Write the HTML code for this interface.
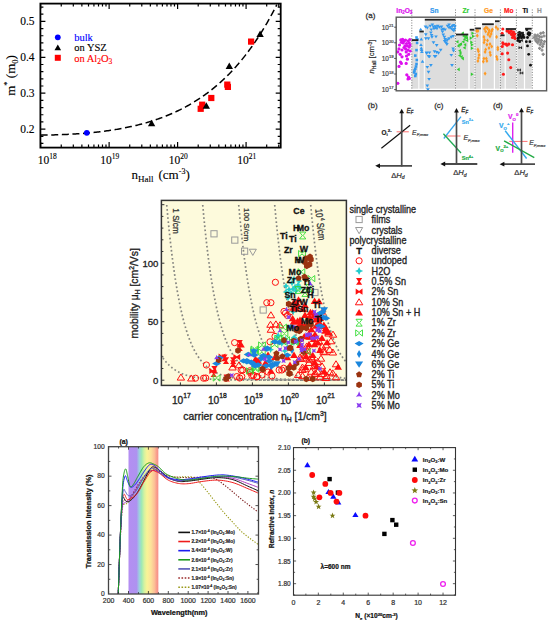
<!DOCTYPE html>
<html><head><meta charset="utf-8"><style>
html,body{margin:0;padding:0;background:#fff;overflow:hidden;}
svg{display:block;}
</style></head><body>
<svg width="550" height="623" viewBox="0 0 550 623">
<rect width="550" height="623" fill="#fff"/>
<path d="M40.4 143.46h3M280.7 143.46h-3M40.4 136.28h3M280.7 136.28h-3M40.4 129.1h5M280.7 129.1h-5M40.4 121.92h3M280.7 121.92h-3M40.4 114.74h3M280.7 114.74h-3M40.4 107.56h3M280.7 107.56h-3M40.4 100.38h3M280.7 100.38h-3M40.4 93.2h5M280.7 93.2h-5M40.4 86.02h3M280.7 86.02h-3M40.4 78.84h3M280.7 78.84h-3M40.4 71.66h3M280.7 71.66h-3M40.4 64.48h3M280.7 64.48h-3M40.4 57.3h5M280.7 57.3h-5M40.4 50.12h3M280.7 50.12h-3M40.4 42.94h3M280.7 42.94h-3M40.4 35.76h3M280.7 35.76h-3M40.4 28.58h3M280.7 28.58h-3M40.4 21.4h5M280.7 21.4h-5M40.4 14.22h3M280.7 14.22h-3M40.4 7.04h3M280.7 7.04h-3M40.64 147.6v-5.5M40.64 3.6v5.5M61.25 147.6v-3M61.25 3.6v3M73.31 147.6v-3M73.31 3.6v3M81.87 147.6v-3M81.87 3.6v3M88.51 147.6v-3M88.51 3.6v3M93.93 147.6v-3M93.93 3.6v3M98.51 147.6v-3M98.51 3.6v3M102.48 147.6v-3M102.48 3.6v3M105.99 147.6v-3M105.99 3.6v3M109.12 147.6v-5.5M109.12 3.6v5.5M129.73 147.6v-3M129.73 3.6v3M141.79 147.6v-3M141.79 3.6v3M150.35 147.6v-3M150.35 3.6v3M156.99 147.6v-3M156.99 3.6v3M162.41 147.6v-3M162.41 3.6v3M166.99 147.6v-3M166.99 3.6v3M170.96 147.6v-3M170.96 3.6v3M174.47 147.6v-3M174.47 3.6v3M177.6 147.6v-5.5M177.6 3.6v5.5M198.21 147.6v-3M198.21 3.6v3M210.27 147.6v-3M210.27 3.6v3M218.83 147.6v-3M218.83 3.6v3M225.47 147.6v-3M225.47 3.6v3M230.89 147.6v-3M230.89 3.6v3M235.47 147.6v-3M235.47 3.6v3M239.44 147.6v-3M239.44 3.6v3M242.95 147.6v-3M242.95 3.6v3M246.08 147.6v-5.5M246.08 3.6v5.5M266.69 147.6v-3M266.69 3.6v3M278.75 147.6v-3M278.75 3.6v3" stroke="#000" stroke-width="1.2" fill="none"/>
<rect x="40.4" y="3.6" width="240.3" height="144" fill="none" stroke="#000" stroke-width="1.8"/>
<text x="34.6" y="133.1" font-family='"Liberation Serif",serif' font-size="11.5" text-anchor="end" stroke="#000" stroke-width="0.12">0.2</text>
<text x="34.6" y="97.2" font-family='"Liberation Serif",serif' font-size="11.5" text-anchor="end" stroke="#000" stroke-width="0.12">0.3</text>
<text x="34.6" y="61.3" font-family='"Liberation Serif",serif' font-size="11.5" text-anchor="end" stroke="#000" stroke-width="0.12">0.4</text>
<text x="34.6" y="25.4" font-family='"Liberation Serif",serif' font-size="11.5" text-anchor="end" stroke="#000" stroke-width="0.12">0.5</text>
<text x="47.3" y="163.6" font-family='"Liberation Serif",serif' font-size="11.5" text-anchor="middle" stroke="#000" stroke-width="0.12">10<tspan font-size="7.5" dy="-4.6">18</tspan></text>
<text x="109.72" y="163.6" font-family='"Liberation Serif",serif' font-size="11.5" text-anchor="middle" stroke="#000" stroke-width="0.12">10<tspan font-size="7.5" dy="-4.6">19</tspan></text>
<text x="178.2" y="163.6" font-family='"Liberation Serif",serif' font-size="11.5" text-anchor="middle" stroke="#000" stroke-width="0.12">10<tspan font-size="7.5" dy="-4.6">20</tspan></text>
<text x="246.68" y="163.6" font-family='"Liberation Serif",serif' font-size="11.5" text-anchor="middle" stroke="#000" stroke-width="0.12">10<tspan font-size="7.5" dy="-4.6">21</tspan></text>
<text x="131.5" y="179" font-family='"Liberation Serif",serif' font-size="13" stroke="#000" stroke-width="0.12">n<tspan font-size="9" dy="2.5">Hall</tspan><tspan dy="-2.5" dx="5">(cm</tspan><tspan font-size="8" dy="-5">-3</tspan><tspan dy="5">)</tspan></text>
<text transform="translate(15,75.5) rotate(-90)" font-family='"Liberation Serif",serif' font-size="13" text-anchor="middle" stroke="#000" stroke-width="0.12">m<tspan font-size="8.5" dy="-5.5">*</tspan><tspan dy="5.5"> (m</tspan><tspan font-size="8.5" dy="3">0</tspan><tspan dy="-3">)</tspan></text>
<polyline points="40.64,135.13 41.85,135.11 43.05,135.1 44.26,135.08 45.46,135.07 46.67,135.05 47.87,135.03 49.08,135 50.28,134.98 51.49,134.95 52.69,134.92 53.9,134.89 55.1,134.85 56.31,134.82 57.51,134.78 58.72,134.74 59.92,134.7 61.13,134.65 62.33,134.61 63.54,134.56 64.74,134.51 65.95,134.45 67.16,134.39 68.36,134.34 69.57,134.27 70.77,134.21 71.98,134.14 73.18,134.07 74.39,134 75.59,133.93 76.8,133.85 78,133.77 79.21,133.68 80.41,133.6 81.62,133.51 82.82,133.42 84.03,133.32 85.23,133.22 86.44,133.12 87.64,133.01 88.85,132.91 90.06,132.79 91.26,132.68 92.47,132.56 93.67,132.44 94.88,132.31 96.08,132.18 97.29,132.05 98.49,131.91 99.7,131.77 100.9,131.63 102.11,131.48 103.31,131.33 104.52,131.17 105.72,131.01 106.93,130.85 108.13,130.68 109.34,130.51 110.54,130.33 111.75,130.15 112.95,129.96 114.16,129.77 115.37,129.58 116.57,129.38 117.78,129.17 118.98,128.96 120.19,128.75 121.39,128.53 122.6,128.3 123.8,128.07 125.01,127.84 126.21,127.6 127.42,127.35 128.62,127.1 129.83,126.84 131.03,126.58 132.24,126.31 133.44,126.04 134.65,125.75 135.85,125.47 137.06,125.17 138.27,124.88 139.47,124.57 140.68,124.26 141.88,123.94 143.09,123.61 144.29,123.28 145.5,122.94 146.7,122.6 147.91,122.24 149.11,121.88 150.32,121.52 151.52,121.14 152.73,120.76 153.93,120.37 155.14,119.97 156.34,119.56 157.55,119.15 158.75,118.72 159.96,118.29 161.16,117.85 162.37,117.41 163.58,116.95 164.78,116.48 165.99,116.01 167.19,115.52 168.4,115.03 169.6,114.53 170.81,114.01 172.01,113.49 173.22,112.96 174.42,112.42 175.63,111.87 176.83,111.3 178.04,110.73 179.24,110.14 180.45,109.55 181.65,108.94 182.86,108.32 184.06,107.7 185.27,107.05 186.48,106.4 187.68,105.74 188.89,105.06 190.09,104.37 191.3,103.67 192.5,102.95 193.71,102.23 194.91,101.48 196.12,100.73 197.32,99.96 198.53,99.18 199.73,98.38 200.94,97.57 202.14,96.75 203.35,95.91 204.55,95.05 205.76,94.18 206.96,93.3 208.17,92.4 209.37,91.48 210.58,90.55 211.79,89.6 212.99,88.63 214.2,87.65 215.4,86.64 216.61,85.63 217.81,84.59 219.02,83.53 220.22,82.46 221.43,81.37 222.63,80.26 223.84,79.13 225.04,77.98 226.25,76.81 227.45,75.62 228.66,74.41 229.86,73.17 231.07,71.92 232.27,70.65 233.48,69.35 234.68,68.03 235.89,66.69 237.1,65.32 238.3,63.93 239.51,62.52 240.71,61.09 241.92,59.63 243.12,58.14 244.33,56.63 245.53,55.09 246.74,53.53 247.94,51.94 249.15,50.32 250.35,48.68 251.56,47.01 252.76,45.31 253.97,43.58 255.17,41.82 256.38,40.03 257.58,38.22 258.79,36.37 260,34.49 261.2,32.58 262.41,30.63 263.61,28.66 264.82,26.65 266.02,24.6 267.23,22.53 268.43,20.42 269.64,18.27 270.84,16.09 272.05,13.87 273.25,11.61 274.46,9.31 275.66,6.98 276.87,4.61" fill="none" stroke="#000" stroke-width="1.5" stroke-dasharray="7,3.6"/>
<rect x="199.1" y="101.6" width="6.2" height="6.2" fill="#f00"/>
<rect x="197.6" y="105.7" width="6.2" height="6.2" fill="#f00"/>
<rect x="208.2" y="94.9" width="6.2" height="6.2" fill="#f00"/>
<rect x="224.2" y="81.5" width="6.2" height="6.2" fill="#f00"/>
<rect x="224.8" y="83.8" width="6.2" height="6.2" fill="#f00"/>
<rect x="248" y="38.5" width="6.2" height="6.2" fill="#f00"/>
<path d="M151.6 119.7L155.3 126.18L147.9 126.18Z" fill="#000"/>
<path d="M206.3 102.3L210 108.78L202.6 108.78Z" fill="#000"/>
<path d="M229.3 62.6L233 69.08L225.6 69.08Z" fill="#000"/>
<path d="M260.1 30.6L263.8 37.07L256.4 37.07Z" fill="#000"/>
<circle cx="86.8" cy="132.8" r="2.9" fill="#00f"/>
<circle cx="57.8" cy="37.3" r="2.9" fill="#00f"/>
<path d="M57.8 44.4L61.1 50.18L54.5 50.18Z" fill="#000"/>
<rect x="54.8" y="54.8" width="6" height="6" fill="#f00"/>
<text x="74.2" y="41" font-family='"Liberation Serif",serif' font-size="10.5" fill="#00f" stroke="#00f" stroke-width="0.12">bulk</text>
<text x="74.2" y="51.3" font-family='"Liberation Serif",serif' font-size="10.5" fill="#000" stroke="#000" stroke-width="0.12">on YSZ</text>
<text x="74.2" y="61.5" font-family='"Liberation Serif",serif' font-size="10.5" fill="#f00" stroke="#f00" stroke-width="0.12">on Al<tspan font-size="7.5" dy="2.2">2</tspan><tspan dy="-2.2">O</tspan><tspan font-size="7.5" dy="2.2">3</tspan></text>
<rect x="411.7" y="40.1" width="6.6" height="48.6" fill="#dddddd"/>
<rect x="419.4" y="31.5" width="4.4" height="57.2" fill="#dddddd"/>
<rect x="424.8" y="19.7" width="30.6" height="69" fill="#dddddd"/>
<rect x="456" y="34.5" width="12.3" height="54.2" fill="#dddddd"/>
<rect x="469.7" y="29.7" width="4.6" height="59" fill="#dddddd"/>
<rect x="475.2" y="28.4" width="5.7" height="60.3" fill="#dddddd"/>
<rect x="482.1" y="24.2" width="11.7" height="64.5" fill="#dddddd"/>
<rect x="495" y="21.2" width="4.6" height="67.5" fill="#dddddd"/>
<rect x="500.4" y="35.3" width="4.2" height="53.4" fill="#dddddd"/>
<rect x="505.8" y="29" width="10.2" height="59.7" fill="#dddddd"/>
<rect x="517.3" y="32.7" width="6.6" height="56" fill="#dddddd"/>
<rect x="525.1" y="28.7" width="6.6" height="60" fill="#dddddd"/>
<line x1="411.8" y1="9.5" x2="411.8" y2="90" stroke="#555" stroke-width="0.8" stroke-dasharray="1,1.6"/>
<line x1="455.5" y1="9.5" x2="455.5" y2="90" stroke="#555" stroke-width="0.8" stroke-dasharray="1,1.6"/>
<line x1="475" y1="9.5" x2="475" y2="90" stroke="#555" stroke-width="0.8" stroke-dasharray="1,1.6"/>
<line x1="500.4" y1="9.5" x2="500.4" y2="90" stroke="#555" stroke-width="0.8" stroke-dasharray="1,1.6"/>
<line x1="516.4" y1="9.5" x2="516.4" y2="90" stroke="#555" stroke-width="0.8" stroke-dasharray="1,1.6"/>
<line x1="532.3" y1="9.5" x2="532.3" y2="90" stroke="#555" stroke-width="0.8" stroke-dasharray="1,1.6"/>
<circle cx="400.8" cy="39.9" r="1.6" fill="#dd11ee"/>
<circle cx="402.6" cy="39.3" r="1.6" fill="#dd11ee"/>
<circle cx="404.4" cy="40.5" r="1.6" fill="#dd11ee"/>
<circle cx="401.4" cy="42.3" r="1.6" fill="#dd11ee"/>
<circle cx="403.2" cy="42.9" r="1.6" fill="#dd11ee"/>
<circle cx="408" cy="41.1" r="1.6" fill="#dd11ee"/>
<circle cx="409.3" cy="42.9" r="1.6" fill="#dd11ee"/>
<circle cx="405" cy="45.9" r="1.6" fill="#dd11ee"/>
<circle cx="407.4" cy="45.9" r="1.6" fill="#dd11ee"/>
<circle cx="409.3" cy="47.1" r="1.6" fill="#dd11ee"/>
<circle cx="399" cy="48.9" r="1.6" fill="#dd11ee"/>
<circle cx="405.6" cy="48.9" r="1.6" fill="#dd11ee"/>
<circle cx="408" cy="50.1" r="1.6" fill="#dd11ee"/>
<circle cx="397.8" cy="51.9" r="1.6" fill="#dd11ee"/>
<circle cx="400.2" cy="54.3" r="1.6" fill="#dd11ee"/>
<circle cx="406.2" cy="51.9" r="1.6" fill="#dd11ee"/>
<circle cx="408.7" cy="54.3" r="1.6" fill="#dd11ee"/>
<circle cx="402" cy="56.8" r="1.6" fill="#dd11ee"/>
<circle cx="407.4" cy="59.2" r="1.6" fill="#dd11ee"/>
<circle cx="401.4" cy="63.4" r="1.6" fill="#dd11ee"/>
<circle cx="399" cy="66.4" r="1.6" fill="#dd11ee"/>
<circle cx="406.2" cy="63.4" r="1.6" fill="#dd11ee"/>
<circle cx="406.8" cy="74.8" r="1.6" fill="#dd11ee"/>
<circle cx="408" cy="79" r="1.6" fill="#dd11ee"/>
<circle cx="397.8" cy="83.3" r="1.6" fill="#dd11ee"/>
<circle cx="409.3" cy="78.4" r="1.6" fill="#dd11ee"/>
<circle cx="403.5" cy="41.5" r="1.6" fill="#dd11ee"/>
<circle cx="406.5" cy="43.5" r="1.6" fill="#dd11ee"/>
<circle cx="410" cy="45" r="1.6" fill="#dd11ee"/>
<circle cx="404" cy="47.5" r="1.6" fill="#dd11ee"/>
<circle cx="402" cy="50" r="1.6" fill="#dd11ee"/>
<circle cx="410.2" cy="51" r="1.6" fill="#dd11ee"/>
<circle cx="406.5" cy="56" r="1.6" fill="#dd11ee"/>
<circle cx="400.5" cy="62" r="1.6" fill="#dd11ee"/>
<circle cx="408.5" cy="77" r="1.6" fill="#dd11ee"/>
<circle cx="405.5" cy="40" r="1.6" fill="#dd11ee"/>
<circle cx="399.5" cy="45" r="1.6" fill="#dd11ee"/>
<circle cx="409.8" cy="39.5" r="1.6" fill="#dd11ee"/>
<rect x="415.2" y="36.2" width="2.6" height="2.6" fill="#3399ee"/>
<rect x="415.8" y="41.6" width="2.6" height="2.6" fill="#3399ee"/>
<rect x="415.2" y="48.8" width="2.6" height="2.6" fill="#3399ee"/>
<rect x="414" y="54.3" width="2.6" height="2.6" fill="#3399ee"/>
<rect x="415.2" y="62.7" width="2.6" height="2.6" fill="#3399ee"/>
<rect x="414" y="67.5" width="2.6" height="2.6" fill="#3399ee"/>
<rect x="412.8" y="71.1" width="2.6" height="2.6" fill="#3399ee"/>
<rect x="414" y="74.7" width="2.6" height="2.6" fill="#3399ee"/>
<rect x="414.7" y="65.2" width="2.6" height="2.6" fill="#3399ee"/>
<rect x="413.2" y="69.2" width="2.6" height="2.6" fill="#3399ee"/>
<rect x="415.5" y="58.7" width="2.6" height="2.6" fill="#3399ee"/>
<rect x="416.1" y="38.2" width="2.6" height="2.6" fill="#3399ee"/>
<rect x="414.5" y="72.7" width="2.6" height="2.6" fill="#3399ee"/>
<path d="M418.9 30.58h3.6l-1.8 -2.88z" fill="#3399ee"/>
<path d="M419.5 40.38h3.6l-1.8 -2.88z" fill="#3399ee"/>
<path d="M419.5 49.38h3.6l-1.8 -2.88z" fill="#3399ee"/>
<path d="M420.1 53.08h3.6l-1.8 -2.88z" fill="#3399ee"/>
<path d="M420.7 62.68h3.6l-1.8 -2.88z" fill="#3399ee"/>
<path d="M419.2 46.08h3.6l-1.8 -2.88z" fill="#3399ee"/>
<path d="M419.8 51.08h3.6l-1.8 -2.88z" fill="#3399ee"/>
<path d="M423.65 25.49h3.7l-1.85 2.96z" fill="#3399ee"/>
<path d="M425.45 26.59h3.7l-1.85 2.96z" fill="#3399ee"/>
<path d="M428.35 24.79h3.7l-1.85 2.96z" fill="#3399ee"/>
<path d="M430.55 23.39h3.7l-1.85 2.96z" fill="#3399ee"/>
<path d="M431.65 25.49h3.7l-1.85 2.96z" fill="#3399ee"/>
<path d="M433.75 25.19h3.7l-1.85 2.96z" fill="#3399ee"/>
<path d="M435.95 24.79h3.7l-1.85 2.96z" fill="#3399ee"/>
<path d="M437.75 25.89h3.7l-1.85 2.96z" fill="#3399ee"/>
<path d="M439.65 25.49h3.7l-1.85 2.96z" fill="#3399ee"/>
<path d="M441.45 27.69h3.7l-1.85 2.96z" fill="#3399ee"/>
<path d="M443.25 28.39h3.7l-1.85 2.96z" fill="#3399ee"/>
<path d="M445.75 24.79h3.7l-1.85 2.96z" fill="#3399ee"/>
<path d="M447.25 23.39h3.7l-1.85 2.96z" fill="#3399ee"/>
<path d="M448.65 25.89h3.7l-1.85 2.96z" fill="#3399ee"/>
<path d="M450.55 24.79h3.7l-1.85 2.96z" fill="#3399ee"/>
<path d="M451.95 24.09h3.7l-1.85 2.96z" fill="#3399ee"/>
<path d="M453.05 25.49h3.7l-1.85 2.96z" fill="#3399ee"/>
<path d="M449.45 27.39h3.7l-1.85 2.96z" fill="#3399ee"/>
<path d="M447.25 26.59h3.7l-1.85 2.96z" fill="#3399ee"/>
<path d="M429.45 28.39h3.7l-1.85 2.96z" fill="#3399ee"/>
<path d="M429.05 31.39h3.7l-1.85 2.96z" fill="#3399ee"/>
<path d="M429.75 33.89h3.7l-1.85 2.96z" fill="#3399ee"/>
<path d="M430.15 35.69h3.7l-1.85 2.96z" fill="#3399ee"/>
<path d="M434.15 35.39h3.7l-1.85 2.96z" fill="#3399ee"/>
<path d="M433.75 26.59h3.7l-1.85 2.96z" fill="#3399ee"/>
<path d="M432.15 27.39h3.7l-1.85 2.96z" fill="#3399ee"/>
<path d="M435.15 27.19h3.7l-1.85 2.96z" fill="#3399ee"/>
<path d="M439.95 28.39h3.7l-1.85 2.96z" fill="#3399ee"/>
<path d="M440.65 30.59h3.7l-1.85 2.96z" fill="#3399ee"/>
<path d="M441.45 33.49h3.7l-1.85 2.96z" fill="#3399ee"/>
<path d="M442.55 35.69h3.7l-1.85 2.96z" fill="#3399ee"/>
<path d="M443.25 37.89h3.7l-1.85 2.96z" fill="#3399ee"/>
<path d="M443.95 39.39h3.7l-1.85 2.96z" fill="#3399ee"/>
<path d="M444.35 41.49h3.7l-1.85 2.96z" fill="#3399ee"/>
<path d="M445.05 42.99h3.7l-1.85 2.96z" fill="#3399ee"/>
<path d="M445.75 38.59h3.7l-1.85 2.96z" fill="#3399ee"/>
<path d="M447.25 37.19h3.7l-1.85 2.96z" fill="#3399ee"/>
<path d="M449.45 35.69h3.7l-1.85 2.96z" fill="#3399ee"/>
<path d="M451.25 34.99h3.7l-1.85 2.96z" fill="#3399ee"/>
<path d="M442.85 40.09h3.7l-1.85 2.96z" fill="#3399ee"/>
<path d="M450.65 28.39h3.7l-1.85 2.96z" fill="#3399ee"/>
<path d="M452.65 27.89h3.7l-1.85 2.96z" fill="#3399ee"/>
<path d="M423.95 33.19h3.7l-1.85 2.96z" fill="#3399ee"/>
<path d="M423.95 37.19h3.7l-1.85 2.96z" fill="#3399ee"/>
<path d="M426.55 37.19h3.7l-1.85 2.96z" fill="#3399ee"/>
<path d="M431.65 41.19h3.7l-1.85 2.96z" fill="#3399ee"/>
<path d="M434.85 44.09h3.7l-1.85 2.96z" fill="#3399ee"/>
<path d="M451.95 29.49h3.7l-1.85 2.96z" fill="#3399ee"/>
<path d="M451.25 47.39h3.7l-1.85 2.96z" fill="#3399ee"/>
<path d="M451.65 49.49h3.7l-1.85 2.96z" fill="#3399ee"/>
<path d="M438.85 48.79h3.7l-1.85 2.96z" fill="#3399ee"/>
<path d="M432.65 50.29h3.7l-1.85 2.96z" fill="#3399ee"/>
<path d="M434.85 50.99h3.7l-1.85 2.96z" fill="#3399ee"/>
<path d="M436.65 51.69h3.7l-1.85 2.96z" fill="#3399ee"/>
<path d="M424.65 51.39h3.7l-1.85 2.96z" fill="#3399ee"/>
<path d="M427.65 51.39h3.7l-1.85 2.96z" fill="#3399ee"/>
<path d="M427.65 55.39h3.7l-1.85 2.96z" fill="#3399ee"/>
<path d="M433.75 54.99h3.7l-1.85 2.96z" fill="#3399ee"/>
<path d="M449.45 53.89h3.7l-1.85 2.96z" fill="#3399ee"/>
<path d="M425.45 65.89h3.7l-1.85 2.96z" fill="#3399ee"/>
<path d="M426.65 70.69h3.7l-1.85 2.96z" fill="#3399ee"/>
<path d="M427.25 77.89h3.7l-1.85 2.96z" fill="#3399ee"/>
<path d="M425.45 84.59h3.7l-1.85 2.96z" fill="#3399ee"/>
<path d="M426.05 88.19h3.7l-1.85 2.96z" fill="#3399ee"/>
<path d="M429.05 64.09h3.7l-1.85 2.96z" fill="#3399ee"/>
<path d="M450.15 64.09h3.7l-1.85 2.96z" fill="#3399ee"/>
<path d="M424.85 51.99h3.7l-1.85 2.96z" fill="#3399ee"/>
<path d="M426.65 55.09h3.7l-1.85 2.96z" fill="#3399ee"/>
<path d="M432.75 55.09h3.7l-1.85 2.96z" fill="#3399ee"/>
<path d="M463.88 31.5v3.6l-2.88 -1.8z" fill="#33cc33"/>
<path d="M467.48 33.9v3.6l-2.88 -1.8z" fill="#33cc33"/>
<path d="M468.08 36.3v3.6l-2.88 -1.8z" fill="#33cc33"/>
<path d="M465.68 37.5v3.6l-2.88 -1.8z" fill="#33cc33"/>
<path d="M458.48 39.9v3.6l-2.88 -1.8z" fill="#33cc33"/>
<path d="M464.48 39.9v3.6l-2.88 -1.8z" fill="#33cc33"/>
<path d="M460.88 42.9v3.6l-2.88 -1.8z" fill="#33cc33"/>
<path d="M466.28 42.9v3.6l-2.88 -1.8z" fill="#33cc33"/>
<path d="M459.68 44.1v3.6l-2.88 -1.8z" fill="#33cc33"/>
<path d="M465.68 45.9v3.6l-2.88 -1.8z" fill="#33cc33"/>
<path d="M460.88 48.9v3.6l-2.88 -1.8z" fill="#33cc33"/>
<path d="M460.88 53.8v3.6l-2.88 -1.8z" fill="#33cc33"/>
<path d="M462.68 55v3.6l-2.88 -1.8z" fill="#33cc33"/>
<path d="M463.88 56.8v3.6l-2.88 -1.8z" fill="#33cc33"/>
<path d="M459.68 67.6v3.6l-2.88 -1.8z" fill="#33cc33"/>
<path d="M466.58 35.2v3.6l-2.88 -1.8z" fill="#33cc33"/>
<path d="M464.88 34.2v3.6l-2.88 -1.8z" fill="#33cc33"/>
<path d="M462.08 42.2v3.6l-2.88 -1.8z" fill="#33cc33"/>
<path d="M468.28 38.7v3.6l-2.88 -1.8z" fill="#33cc33"/>
<path d="M461.58 51.2v3.6l-2.88 -1.8z" fill="#33cc33"/>
<path d="M471.42 31.5v3.6l2.88 -1.8z" fill="#33cc33"/>
<path d="M472.02 34.5v3.6l2.88 -1.8z" fill="#33cc33"/>
<path d="M469.62 36.3v3.6l2.88 -1.8z" fill="#33cc33"/>
<path d="M470.22 40.5v3.6l2.88 -1.8z" fill="#33cc33"/>
<path d="M470.82 42.9v3.6l2.88 -1.8z" fill="#33cc33"/>
<path d="M470.82 46.5v3.6l2.88 -1.8z" fill="#33cc33"/>
<path d="M470.82 72.4v3.6l2.88 -1.8z" fill="#33cc33"/>
<path d="M476.7 28.8l1.45 2.1l-1.45 2.1l-1.45 -2.1z" fill="#ff9922"/>
<path d="M477.9 28.8l1.45 2.1l-1.45 2.1l-1.45 -2.1z" fill="#ff9922"/>
<path d="M477.3 33.6l1.45 2.1l-1.45 2.1l-1.45 -2.1z" fill="#ff9922"/>
<path d="M477.9 47.4l1.45 2.1l-1.45 2.1l-1.45 -2.1z" fill="#ff9922"/>
<path d="M478.5 49.2l1.45 2.1l-1.45 2.1l-1.45 -2.1z" fill="#ff9922"/>
<path d="M479.1 52.9l1.45 2.1l-1.45 2.1l-1.45 -2.1z" fill="#ff9922"/>
<path d="M478.5 55.9l1.45 2.1l-1.45 2.1l-1.45 -2.1z" fill="#ff9922"/>
<path d="M477.9 58.9l1.45 2.1l-1.45 2.1l-1.45 -2.1z" fill="#ff9922"/>
<path d="M484.5 26.9l1.45 2.1l-1.45 2.1l-1.45 -2.1z" fill="#ff9922"/>
<path d="M485.7 29.4l1.45 2.1l-1.45 2.1l-1.45 -2.1z" fill="#ff9922"/>
<path d="M487.5 26.3l1.45 2.1l-1.45 2.1l-1.45 -2.1z" fill="#ff9922"/>
<path d="M489.3 28.2l1.45 2.1l-1.45 2.1l-1.45 -2.1z" fill="#ff9922"/>
<path d="M488.7 30.6l1.45 2.1l-1.45 2.1l-1.45 -2.1z" fill="#ff9922"/>
<path d="M491.1 31.8l1.45 2.1l-1.45 2.1l-1.45 -2.1z" fill="#ff9922"/>
<path d="M490 34.2l1.45 2.1l-1.45 2.1l-1.45 -2.1z" fill="#ff9922"/>
<path d="M483.9 34.8l1.45 2.1l-1.45 2.1l-1.45 -2.1z" fill="#ff9922"/>
<path d="M484.5 37.8l1.45 2.1l-1.45 2.1l-1.45 -2.1z" fill="#ff9922"/>
<path d="M487.5 38.4l1.45 2.1l-1.45 2.1l-1.45 -2.1z" fill="#ff9922"/>
<path d="M486.9 42.6l1.45 2.1l-1.45 2.1l-1.45 -2.1z" fill="#ff9922"/>
<path d="M490 42l1.45 2.1l-1.45 2.1l-1.45 -2.1z" fill="#ff9922"/>
<path d="M491.7 44.4l1.45 2.1l-1.45 2.1l-1.45 -2.1z" fill="#ff9922"/>
<path d="M485.7 47.4l1.45 2.1l-1.45 2.1l-1.45 -2.1z" fill="#ff9922"/>
<path d="M485.1 49.8l1.45 2.1l-1.45 2.1l-1.45 -2.1z" fill="#ff9922"/>
<path d="M490 50.4l1.45 2.1l-1.45 2.1l-1.45 -2.1z" fill="#ff9922"/>
<path d="M490.5 52.9l1.45 2.1l-1.45 2.1l-1.45 -2.1z" fill="#ff9922"/>
<path d="M483.9 56.5l1.45 2.1l-1.45 2.1l-1.45 -2.1z" fill="#ff9922"/>
<path d="M486.3 56.5l1.45 2.1l-1.45 2.1l-1.45 -2.1z" fill="#ff9922"/>
<path d="M483.3 59.5l1.45 2.1l-1.45 2.1l-1.45 -2.1z" fill="#ff9922"/>
<path d="M486.9 58.9l1.45 2.1l-1.45 2.1l-1.45 -2.1z" fill="#ff9922"/>
<path d="M485.1 71.5l1.45 2.1l-1.45 2.1l-1.45 -2.1z" fill="#ff9922"/>
<path d="M492.3 27.5l1.45 2.1l-1.45 2.1l-1.45 -2.1z" fill="#ff9922"/>
<path d="M496 25.1l1.45 2.1l-1.45 2.1l-1.45 -2.1z" fill="#ff9922"/>
<path d="M497.8 26.9l1.45 2.1l-1.45 2.1l-1.45 -2.1z" fill="#ff9922"/>
<path d="M496.6 34.8l1.45 2.1l-1.45 2.1l-1.45 -2.1z" fill="#ff9922"/>
<path d="M497.8 45.6l1.45 2.1l-1.45 2.1l-1.45 -2.1z" fill="#ff9922"/>
<path d="M497.8 47.4l1.45 2.1l-1.45 2.1l-1.45 -2.1z" fill="#ff9922"/>
<path d="M496.6 54.7l1.45 2.1l-1.45 2.1l-1.45 -2.1z" fill="#ff9922"/>
<path d="M497.2 57.1l1.45 2.1l-1.45 2.1l-1.45 -2.1z" fill="#ff9922"/>
<path d="M488 32.4l1.45 2.1l-1.45 2.1l-1.45 -2.1z" fill="#ff9922"/>
<path d="M486 25.4l1.45 2.1l-1.45 2.1l-1.45 -2.1z" fill="#ff9922"/>
<path d="M491.5 29.4l1.45 2.1l-1.45 2.1l-1.45 -2.1z" fill="#ff9922"/>
<path d="M484 40.4l1.45 2.1l-1.45 2.1l-1.45 -2.1z" fill="#ff9922"/>
<path d="M489 45.9l1.45 2.1l-1.45 2.1l-1.45 -2.1z" fill="#ff9922"/>
<circle cx="502.8" cy="29" r="1.55" fill="#ff1a1a"/>
<circle cx="502.2" cy="33.3" r="1.55" fill="#ff1a1a"/>
<circle cx="502.8" cy="42.9" r="1.55" fill="#ff1a1a"/>
<circle cx="502.2" cy="46.5" r="1.55" fill="#ff1a1a"/>
<circle cx="502.2" cy="53.7" r="1.55" fill="#ff1a1a"/>
<circle cx="503.4" cy="74.2" r="1.55" fill="#ff1a1a"/>
<circle cx="508.2" cy="30.9" r="1.55" fill="#ff1a1a"/>
<circle cx="510" cy="32" r="1.55" fill="#ff1a1a"/>
<circle cx="512.5" cy="33.3" r="1.55" fill="#ff1a1a"/>
<circle cx="513.7" cy="35.1" r="1.55" fill="#ff1a1a"/>
<circle cx="514.3" cy="36.9" r="1.55" fill="#ff1a1a"/>
<circle cx="512.5" cy="37.5" r="1.55" fill="#ff1a1a"/>
<circle cx="509.4" cy="32.7" r="1.55" fill="#ff1a1a"/>
<circle cx="507" cy="45.3" r="1.55" fill="#ff1a1a"/>
<circle cx="508.8" cy="44.1" r="1.55" fill="#ff1a1a"/>
<circle cx="512.5" cy="44.7" r="1.55" fill="#ff1a1a"/>
<circle cx="507.6" cy="53.1" r="1.55" fill="#ff1a1a"/>
<circle cx="508.8" cy="59.8" r="1.55" fill="#ff1a1a"/>
<circle cx="510.7" cy="67.6" r="1.55" fill="#ff1a1a"/>
<circle cx="507" cy="31" r="1.55" fill="#ff1a1a"/>
<circle cx="511.2" cy="30.8" r="1.55" fill="#ff1a1a"/>
<circle cx="513.5" cy="32" r="1.55" fill="#ff1a1a"/>
<circle cx="514.8" cy="34" r="1.55" fill="#ff1a1a"/>
<circle cx="513" cy="35.5" r="1.55" fill="#ff1a1a"/>
<circle cx="515" cy="38.5" r="1.55" fill="#ff1a1a"/>
<circle cx="511.5" cy="34.5" r="1.55" fill="#ff1a1a"/>
<circle cx="503.5" cy="44" r="1.55" fill="#ff1a1a"/>
<circle cx="506" cy="44" r="1.55" fill="#ff1a1a"/>
<circle cx="518.5" cy="35.1" r="1.4" fill="#111"/>
<circle cx="520.3" cy="33.9" r="1.4" fill="#111"/>
<circle cx="522.1" cy="33.3" r="1.4" fill="#111"/>
<circle cx="523.3" cy="35.1" r="1.4" fill="#111"/>
<circle cx="519.1" cy="37.5" r="1.4" fill="#111"/>
<circle cx="521.5" cy="38.1" r="1.4" fill="#111"/>
<circle cx="517.9" cy="40.5" r="1.4" fill="#111"/>
<circle cx="519.7" cy="41.7" r="1.4" fill="#111"/>
<circle cx="526.9" cy="29.7" r="1.4" fill="#111"/>
<circle cx="528.7" cy="32.7" r="1.4" fill="#111"/>
<circle cx="529.3" cy="35.1" r="1.4" fill="#111"/>
<circle cx="527.5" cy="37.5" r="1.4" fill="#111"/>
<circle cx="526.3" cy="41.7" r="1.4" fill="#111"/>
<circle cx="529.9" cy="41.7" r="1.4" fill="#111"/>
<circle cx="527.5" cy="45.9" r="1.4" fill="#111"/>
<circle cx="528.7" cy="54.3" r="1.4" fill="#111"/>
<circle cx="530.5" cy="65.2" r="1.4" fill="#111"/>
<circle cx="520.5" cy="36" r="1.4" fill="#111"/>
<circle cx="522.5" cy="36.5" r="1.4" fill="#111"/>
<circle cx="518" cy="38" r="1.4" fill="#111"/>
<circle cx="524" cy="37.5" r="1.4" fill="#111"/>
<circle cx="530" cy="33.5" r="1.4" fill="#111"/>
<circle cx="528" cy="34" r="1.4" fill="#111"/>
<circle cx="519.5" cy="32.5" r="1.4" fill="#111"/>
<path d="M519 46.4v2.6M521.6 46.4v2.6M519 47.7h2.6" stroke="#111" stroke-width="0.9" fill="none"/>
<path d="M517.8 68.7v2.6M520.4 68.7v2.6M517.8 70h2.6" stroke="#111" stroke-width="0.9" fill="none"/>
<path d="M520.2 71.7v2.6M522.8 71.7v2.6M520.2 73h2.6" stroke="#111" stroke-width="0.9" fill="none"/>
<path d="M519.7 39.2v2.6M522.3 39.2v2.6M519.7 40.5h2.6" stroke="#111" stroke-width="0.9" fill="none"/>
<path d="M532.5 37.5h3.2M534.1 35.9v3.2" stroke="#8c8c8c" stroke-width="1.4" fill="none"/>
<path d="M534.4 36.3h3.2M536 34.7v3.2" stroke="#8c8c8c" stroke-width="1.4" fill="none"/>
<path d="M536.2 35.1h3.2M537.8 33.5v3.2" stroke="#8c8c8c" stroke-width="1.4" fill="none"/>
<path d="M539.2 33.3h3.2M540.8 31.7v3.2" stroke="#8c8c8c" stroke-width="1.4" fill="none"/>
<path d="M541.6 32.7h3.2M543.2 31.1v3.2" stroke="#8c8c8c" stroke-width="1.4" fill="none"/>
<path d="M533.7 39.9h3.2M535.3 38.3v3.2" stroke="#8c8c8c" stroke-width="1.4" fill="none"/>
<path d="M537.4 39.3h3.2M539 37.7v3.2" stroke="#8c8c8c" stroke-width="1.4" fill="none"/>
<path d="M539.8 40.5h3.2M541.4 38.9v3.2" stroke="#8c8c8c" stroke-width="1.4" fill="none"/>
<path d="M536.2 42.9h3.2M537.8 41.3v3.2" stroke="#8c8c8c" stroke-width="1.4" fill="none"/>
<path d="M538.6 44.7h3.2M540.2 43.1v3.2" stroke="#8c8c8c" stroke-width="1.4" fill="none"/>
<path d="M541 46.5h3.2M542.6 44.9v3.2" stroke="#8c8c8c" stroke-width="1.4" fill="none"/>
<path d="M540.4 50.1h3.2M542 48.5v3.2" stroke="#8c8c8c" stroke-width="1.4" fill="none"/>
<path d="M541.6 54.3h3.2M543.2 52.7v3.2" stroke="#8c8c8c" stroke-width="1.4" fill="none"/>
<path d="M538 48.3h3.2M539.6 46.7v3.2" stroke="#8c8c8c" stroke-width="1.4" fill="none"/>
<path d="M533.4 35h3.2M535 33.4v3.2" stroke="#8c8c8c" stroke-width="1.4" fill="none"/>
<path d="M535.4 38.5h3.2M537 36.9v3.2" stroke="#8c8c8c" stroke-width="1.4" fill="none"/>
<path d="M537.9 36.5h3.2M539.5 34.9v3.2" stroke="#8c8c8c" stroke-width="1.4" fill="none"/>
<path d="M539.9 37h3.2M541.5 35.4v3.2" stroke="#8c8c8c" stroke-width="1.4" fill="none"/>
<path d="M536.9 41h3.2M538.5 39.4v3.2" stroke="#8c8c8c" stroke-width="1.4" fill="none"/>
<path d="M534.9 41.5h3.2M536.5 39.9v3.2" stroke="#8c8c8c" stroke-width="1.4" fill="none"/>
<path d="M542.4 36h3.2M544 34.4v3.2" stroke="#8c8c8c" stroke-width="1.4" fill="none"/>
<path d="M542.9 41.5h3.2M544.5 39.9v3.2" stroke="#8c8c8c" stroke-width="1.4" fill="none"/>
<path d="M539.4 42.5h3.2M541 40.9v3.2" stroke="#8c8c8c" stroke-width="1.4" fill="none"/>
<path d="M541.9 44h3.2M543.5 42.4v3.2" stroke="#8c8c8c" stroke-width="1.4" fill="none"/>
<line x1="411.7" y1="40.1" x2="418.3" y2="40.1" stroke="#222" stroke-width="1.8"/>
<line x1="419.4" y1="31.5" x2="423.8" y2="31.5" stroke="#222" stroke-width="1.8"/>
<line x1="424.8" y1="19.7" x2="455.4" y2="19.7" stroke="#222" stroke-width="1.8"/>
<line x1="456" y1="34.5" x2="468.3" y2="34.5" stroke="#222" stroke-width="1.8"/>
<line x1="469.7" y1="29.7" x2="474.3" y2="29.7" stroke="#222" stroke-width="1.8"/>
<line x1="475.2" y1="28.4" x2="480.9" y2="28.4" stroke="#222" stroke-width="1.8"/>
<line x1="482.1" y1="24.2" x2="493.8" y2="24.2" stroke="#222" stroke-width="1.8"/>
<line x1="495" y1="21.2" x2="499.6" y2="21.2" stroke="#222" stroke-width="1.8"/>
<line x1="500.4" y1="35.3" x2="504.6" y2="35.3" stroke="#222" stroke-width="1.8"/>
<line x1="505.8" y1="29" x2="516" y2="29" stroke="#222" stroke-width="1.8"/>
<line x1="517.3" y1="32.7" x2="523.9" y2="32.7" stroke="#222" stroke-width="1.8"/>
<line x1="525.1" y1="28.7" x2="531.7" y2="28.7" stroke="#222" stroke-width="1.8"/>
<rect x="396.2" y="17.2" width="150.4" height="73.6" fill="none" stroke="#5a5a5a" stroke-width="1.4"/>
<text x="393.6" y="91.9" font-family='"Liberation Sans",sans-serif' font-size="6.4" text-anchor="end" fill="#444" stroke="#444" stroke-width="0.20">10<tspan font-size="4.2" dy="-2.5">17</tspan></text>
<text x="393.6" y="76.3" font-family='"Liberation Sans",sans-serif' font-size="6.4" text-anchor="end" fill="#444" stroke="#444" stroke-width="0.20">10<tspan font-size="4.2" dy="-2.5">18</tspan></text>
<text x="393.6" y="60.7" font-family='"Liberation Sans",sans-serif' font-size="6.4" text-anchor="end" fill="#444" stroke="#444" stroke-width="0.20">10<tspan font-size="4.2" dy="-2.5">19</tspan></text>
<text x="393.6" y="45.1" font-family='"Liberation Sans",sans-serif' font-size="6.4" text-anchor="end" fill="#444" stroke="#444" stroke-width="0.20">10<tspan font-size="4.2" dy="-2.5">20</tspan></text>
<text x="393.6" y="29.5" font-family='"Liberation Sans",sans-serif' font-size="6.4" text-anchor="end" fill="#444" stroke="#444" stroke-width="0.20">10<tspan font-size="4.2" dy="-2.5">21</tspan></text>
<path d="M396.2 89.6h-2M396.2 74h-2M396.2 58.4h-2M396.2 42.8h-2M396.2 27.2h-2" stroke="#4a4a4a" stroke-width="1"/>
<text transform="translate(374,56.5) rotate(-90)" font-family='"Liberation Sans",sans-serif' font-size="7.6" text-anchor="middle" fill="#333" stroke="#333" stroke-width="0.24"><tspan font-style="italic">n</tspan><tspan font-size="5" dy="1.5">Hall</tspan><tspan dy="-1.5"> [cm</tspan><tspan font-size="5" dy="-2.5">-3</tspan><tspan dy="2.5">]</tspan></text>
<text x="365.6" y="17.6" font-family='"Liberation Sans",sans-serif' font-size="8" fill="#333" stroke="#333" stroke-width="0.26">(a)</text>
<text x="396.3" y="13.2" font-family='"Liberation Sans",sans-serif' font-size="6.6" font-weight="bold" fill="#dd11ee" stroke="#dd11ee" stroke-width="0.21">In<tspan font-size="4.5" dy="1.2">2</tspan><tspan dy="-1.2">O</tspan><tspan font-size="4.5" dy="1.2">3</tspan></text>
<text x="430" y="13.2" font-family='"Liberation Sans",sans-serif' font-size="6.6" font-weight="bold" fill="#3399ee" stroke="#3399ee" stroke-width="0.21">Sn</text>
<text x="462.4" y="13.2" font-family='"Liberation Sans",sans-serif' font-size="6.6" font-weight="bold" fill="#33cc33" stroke="#33cc33" stroke-width="0.21">Zr</text>
<text x="484" y="13.2" font-family='"Liberation Sans",sans-serif' font-size="6.6" font-weight="bold" fill="#ff9922" stroke="#ff9922" stroke-width="0.21">Ge</text>
<text x="504" y="13.2" font-family='"Liberation Sans",sans-serif' font-size="6.6" font-weight="bold" fill="#ff1a1a" stroke="#ff1a1a" stroke-width="0.21">Mo</text>
<text x="522.4" y="13.2" font-family='"Liberation Sans",sans-serif' font-size="6.6" font-weight="bold" fill="#111" stroke="#111" stroke-width="0.21">Ti</text>
<text x="537" y="13.2" font-family='"Liberation Sans",sans-serif' font-size="6.6" font-weight="bold" fill="#999" stroke="#999" stroke-width="0.21">H</text>
<text x="367.8" y="108.4" font-family='"Liberation Sans",sans-serif' font-size="8" fill="#333" stroke="#333" stroke-width="0.26">(b)</text>
<line x1="396.6" y1="131.8" x2="408.8" y2="131.8" stroke="#ff6f6f" stroke-width="1"/>
<line x1="381.4" y1="148.3" x2="410.1" y2="125.3" stroke="#111" stroke-width="1.2"/>
<line x1="401.7" y1="111.7" x2="401.7" y2="166.6" stroke="#4a4a4a" stroke-width="1.7"/>
<path d="M401.7 108.7l2.4 4.6h-4.8z" fill="#111"/>
<line x1="378.2" y1="165.8" x2="412" y2="165.8" stroke="#4a4a4a" stroke-width="1.8"/>
<path d="M375.2 165.8l4.8 -2.4v4.8z" fill="#111"/>
<text transform="translate(406.4,112.6) scale(0.82,1)" font-family='"Liberation Sans",sans-serif' font-size="7.8" font-style="italic" fill="#222" stroke="#222" stroke-width="0.25">E<tspan font-size="5.2" dy="1.5">F</tspan></text>
<text x="412.1" y="134.6" font-family='"Liberation Sans",sans-serif' font-size="6.8" font-style="italic" fill="#444" stroke="#444" stroke-width="0.22">E<tspan font-size="4.4" dy="1.3">F,max</tspan></text>
<text x="381.6" y="134.9" font-family='"Liberation Sans",sans-serif' font-size="6.4" font-weight="bold" fill="#222" stroke="#222" stroke-width="0.20">O<tspan font-size="4.4" dy="1.4">i</tspan><tspan font-size="4.4" dy="-4.2">2-</tspan></text>
<text x="391.2" y="177.6" font-family='"Liberation Sans",sans-serif' font-size="7.6" fill="#333" stroke="#333" stroke-width="0.24">&#916;<tspan font-style="italic">H</tspan><tspan font-size="5" dy="1.5" font-style="italic">d</tspan></text>
<text x="434.2" y="108.4" font-family='"Liberation Sans",sans-serif' font-size="8" fill="#333" stroke="#333" stroke-width="0.26">(c)</text>
<line x1="444.5" y1="136" x2="460.5" y2="136" stroke="#ff6f6f" stroke-width="1"/>
<line x1="443.8" y1="138.5" x2="461" y2="116.7" stroke="#3aa8ee" stroke-width="1.3"/>
<line x1="443.4" y1="133.7" x2="461" y2="153" stroke="#22aa55" stroke-width="1.3"/>
<line x1="456.5" y1="111" x2="456.5" y2="164.8" stroke="#4a4a4a" stroke-width="1.7"/>
<path d="M456.5 108l2.4 4.6h-4.8z" fill="#111"/>
<line x1="443.4" y1="164" x2="477.3" y2="164" stroke="#4a4a4a" stroke-width="1.8"/>
<path d="M440.4 164l4.8 -2.4v4.8z" fill="#111"/>
<text transform="translate(461.2,112.3) scale(0.82,1)" font-family='"Liberation Sans",sans-serif' font-size="7.8" font-style="italic" fill="#222" stroke="#222" stroke-width="0.25">E<tspan font-size="5.2" dy="1.5">F</tspan></text>
<text x="463.5" y="140.2" font-family='"Liberation Sans",sans-serif' font-size="6.8" font-style="italic" fill="#444" stroke="#444" stroke-width="0.22">E<tspan font-size="4.4" dy="1.3">F,max</tspan></text>
<text x="461.7" y="123.5" font-family='"Liberation Sans",sans-serif' font-size="5.6" font-weight="bold" fill="#33aaee" stroke="#33aaee" stroke-width="0.18">Sn<tspan font-size="3.8" dy="-2.4">2+</tspan></text>
<text x="461.7" y="160.3" font-family='"Liberation Sans",sans-serif' font-size="5.6" font-weight="bold" fill="#22aa44" stroke="#22aa44" stroke-width="0.18">Sn<tspan font-size="3.8" dy="-2.4">4+</tspan></text>
<text x="453.2" y="175.3" font-family='"Liberation Sans",sans-serif' font-size="7.6" fill="#333" stroke="#333" stroke-width="0.24">&#916;<tspan font-style="italic">H</tspan><tspan font-size="5" dy="1.5" font-style="italic">d</tspan></text>
<text x="493" y="108.2" font-family='"Liberation Sans",sans-serif' font-size="8" fill="#333" stroke="#333" stroke-width="0.26">(d)</text>
<line x1="509.3" y1="141.4" x2="527.5" y2="141.4" stroke="#ff6f6f" stroke-width="1"/>
<line x1="512.7" y1="122.5" x2="512.7" y2="152.7" stroke="#dd22ee" stroke-width="1.4"/>
<line x1="505.2" y1="130.8" x2="526.6" y2="158.5" stroke="#33aaee" stroke-width="1.4"/>
<line x1="504.1" y1="140.9" x2="534.3" y2="157.6" stroke="#22aa44" stroke-width="1.4"/>
<line x1="521.5" y1="110.7" x2="521.5" y2="165" stroke="#4a4a4a" stroke-width="1.7"/>
<path d="M521.5 107.7l2.4 4.6h-4.8z" fill="#111"/>
<line x1="502.6" y1="164.2" x2="535" y2="164.2" stroke="#4a4a4a" stroke-width="1.8"/>
<path d="M499.6 164.2l4.8 -2.4v4.8z" fill="#111"/>
<text transform="translate(526.2,112.3) scale(0.82,1)" font-family='"Liberation Sans",sans-serif' font-size="7.8" font-style="italic" fill="#222" stroke="#222" stroke-width="0.25">E<tspan font-size="5.2" dy="1.5">F</tspan></text>
<text x="529.2" y="145.4" font-family='"Liberation Sans",sans-serif' font-size="6.8" font-style="italic" fill="#444" stroke="#444" stroke-width="0.22">E<tspan font-size="4.4" dy="1.3">F,max</tspan></text>
<text x="508.0" y="119.3" font-family='"Liberation Sans",sans-serif' font-size="6.8" font-weight="bold" fill="#dd22ee" stroke="#dd22ee" stroke-width="0.22">V<tspan font-size="4.3" dy="1.3">O</tspan><tspan font-size="4.3" dy="-4.4">0</tspan></text>
<text x="499.0" y="128.3" font-family='"Liberation Sans",sans-serif' font-size="6.8" font-weight="bold" fill="#33aaee" stroke="#33aaee" stroke-width="0.22">V<tspan font-size="4.3" dy="1.3">O</tspan><tspan font-size="4.3" dy="-4.4">+</tspan></text>
<text x="495.6" y="150.8" font-family='"Liberation Sans",sans-serif' font-size="6.8" font-weight="bold" fill="#22aa44" stroke="#22aa44" stroke-width="0.22">V<tspan font-size="4.3" dy="1.3">O</tspan><tspan font-size="4.3" dy="-4.4">2+</tspan></text>
<text x="514.3" y="175.3" font-family='"Liberation Sans",sans-serif' font-size="7.6" fill="#333" stroke="#333" stroke-width="0.24">&#916;<tspan font-style="italic">H</tspan><tspan font-size="5" dy="1.5" font-style="italic">d</tspan></text>
<defs><clipPath id="c4"><rect x="161.4" y="200.4" width="185" height="185"/></clipPath></defs>
<rect x="161.4" y="200.4" width="185" height="185" fill="#fdfadc"/>
<polyline points="155.2,343.6 155.56,344.43 155.92,345.24 156.28,346.04 156.64,346.82 157,347.58 157.36,348.32 157.72,349.05 158.08,349.75 158.44,350.45 158.8,351.12 159.16,351.79 159.52,352.43 159.88,353.07 160.24,353.68 160.6,354.29 160.96,354.88 161.32,355.45 161.68,356.02 162.04,356.57 162.4,357.1 162.76,357.63 163.12,358.14 163.48,358.65 163.84,359.14 164.2,359.62 164.56,360.08 164.92,360.54 165.28,360.99 165.64,361.43 166,361.85 166.36,362.27 166.72,362.68 167.08,363.08 167.44,363.47 167.8,363.85 168.16,364.22 168.52,364.59 168.88,364.94 169.24,365.29 169.6,365.63 169.96,365.96 170.32,366.28 170.68,366.6 171.04,366.91 171.4,367.21 171.76,367.51 172.12,367.8 172.48,368.08 172.84,368.36 173.2,368.62 173.56,368.89 173.92,369.15 174.28,369.4 174.64,369.64 175,369.88 175.36,370.12 175.72,370.35 176.08,370.57 176.44,370.79 176.8,371.01 177.16,371.21 177.52,371.42 177.88,371.62 178.24,371.81 178.6,372.01 178.96,372.19 179.32,372.37 179.68,372.55 180.04,372.73 180.4,372.9 180.76,373.06 181.12,373.23 181.48,373.38 181.84,373.54 182.2,373.69 182.56,373.84 182.92,373.98 183.28,374.13 183.64,374.26 184,374.4 184.36,374.53 184.72,374.66 185.08,374.79 185.44,374.91 185.8,375.03 186.16,375.15 186.52,375.26 186.88,375.37 187.24,375.48 187.6,375.59 187.96,375.7 188.32,375.8 188.68,375.9 189.04,376 189.4,376.09 189.76,376.19 190.12,376.28 190.48,376.37 190.84,376.45 191.2,376.54 191.56,376.62 191.92,376.7 192.28,376.78 192.64,376.86 193,376.94 193.36,377.01 193.72,377.08 194.08,377.16 194.44,377.22 194.8,377.29 195.16,377.36 195.52,377.42 195.88,377.49 196.24,377.55 196.6,377.61 196.96,377.67 197.32,377.73 197.68,377.78 198.04,377.84 198.4,377.89 198.76,377.94 199.12,377.99 199.48,378.04 199.84,378.09 200.2,378.14 200.56,378.19 200.92,378.23 201.28,378.28 201.64,378.32 202,378.37 202.36,378.41 202.72,378.45 203.08,378.49 203.44,378.53 203.8,378.56 204.16,378.6 204.52,378.64 204.88,378.67 205.24,378.71 205.6,378.74 205.96,378.78 206.32,378.81 206.68,378.84 207.04,378.87 207.4,378.9 207.76,378.93 208.12,378.96 208.48,378.99 208.84,379.02 209.2,379.04 209.56,379.07 209.92,379.09 210.28,379.12 210.64,379.14 211,379.17 211.36,379.19 211.72,379.21 212.08,379.24 212.44,379.26 212.8,379.28 213.16,379.3 213.52,379.32 213.88,379.34 214.24,379.36 214.6,379.38 214.96,379.4 215.32,379.42 215.68,379.44 216.04,379.45 216.4,379.47 216.76,379.49 217.12,379.5 217.48,379.52 217.84,379.53 218.2,379.55 218.56,379.56 218.92,379.58 219.28,379.59 219.64,379.61 220,379.62 220.36,379.63 220.72,379.65 221.08,379.66 221.44,379.67 221.8,379.68 222.16,379.69 222.52,379.71 222.88,379.72 223.24,379.73 223.6,379.74 223.96,379.75 224.32,379.76 224.68,379.77 225.04,379.78 225.4,379.79 225.76,379.8 226.12,379.81 226.48,379.82 226.84,379.83 227.2,379.83 227.56,379.84 227.92,379.85 228.28,379.86 228.64,379.87 229,379.87 229.36,379.88 229.72,379.89 230.08,379.9 230.44,379.9 230.8,379.91 231.16,379.92 231.52,379.92 231.88,379.93 232.24,379.93 232.6,379.94 232.96,379.95 233.32,379.95 233.68,379.96 234.04,379.96 234.4,379.97 234.76,379.97 235.12,379.98 235.48,379.98 235.84,379.99 236.2,379.99 236.56,380 236.92,380 237.28,380.01 237.64,380.01 238,380.02 238.36,380.02 238.72,380.02 239.08,380.03 239.44,380.03 239.8,380.04 240.16,380.04 240.52,380.04 240.88,380.05 241.24,380.05 241.6,380.05 241.96,380.06 242.32,380.06 242.68,380.06 243.04,380.07 243.4,380.07 243.76,380.07 244.12,380.08 244.48,380.08 244.84,380.08 245.2,380.08 245.56,380.09 245.92,380.09 246.28,380.09 246.64,380.09 247,380.1 247.36,380.1 247.72,380.1 248.08,380.1 248.44,380.11 248.8,380.11 249.16,380.11 249.52,380.11 249.88,380.11 250.24,380.12 250.6,380.12 250.96,380.12 251.32,380.12 251.68,380.12 252.04,380.13 252.4,380.13 252.76,380.13 253.12,380.13 253.48,380.13 253.84,380.13 254.2,380.13 254.56,380.14 254.92,380.14 255.28,380.14 255.64,380.14 256,380.14 256.36,380.14 256.72,380.14 257.08,380.15 257.44,380.15 257.8,380.15 258.16,380.15 258.52,380.15 258.88,380.15 259.24,380.15 259.6,380.15 259.96,380.15 260.32,380.16 260.68,380.16 261.04,380.16 261.4,380.16 261.76,380.16 262.12,380.16 262.48,380.16 262.84,380.16 263.2,380.16 263.56,380.16 263.92,380.17 264.28,380.17 264.64,380.17 265,380.17 265.36,380.17 265.72,380.17 266.08,380.17 266.44,380.17 266.8,380.17 267.16,380.17 267.52,380.17 267.88,380.17 268.24,380.17 268.6,380.17 268.96,380.17 269.32,380.18 269.68,380.18 270.04,380.18 270.4,380.18 270.76,380.18 271.12,380.18 271.48,380.18 271.84,380.18 272.2,380.18 272.56,380.18 272.92,380.18 273.28,380.18 273.64,380.18 274,380.18 274.36,380.18 274.72,380.18 275.08,380.18 275.44,380.18 275.8,380.18 276.16,380.18 276.52,380.18 276.88,380.18 277.24,380.19 277.6,380.19 277.96,380.19 278.32,380.19 278.68,380.19 279.04,380.19 279.4,380.19 279.76,380.19 280.12,380.19 280.48,380.19 280.84,380.19 281.2,380.19 281.56,380.19 281.92,380.19 282.28,380.19 282.64,380.19 283,380.19 283.36,380.19 283.72,380.19 284.08,380.19 284.44,380.19 284.8,380.19 285.16,380.19 285.52,380.19 285.88,380.19 286.24,380.19 286.6,380.19 286.96,380.19 287.32,380.19 287.68,380.19 288.04,380.19 288.4,380.19 288.76,380.19 289.12,380.19 289.48,380.19 289.84,380.19 290.2,380.19 290.56,380.19 290.92,380.19 291.28,380.19 291.64,380.19 292,380.19 292.36,380.19 292.72,380.19 293.08,380.19 293.44,380.19 293.8,380.19 294.16,380.19 294.52,380.2 294.88,380.2 295.24,380.2 295.6,380.2 295.96,380.2 296.32,380.2 296.68,380.2 297.04,380.2 297.4,380.2 297.76,380.2 298.12,380.2 298.48,380.2 298.84,380.2 299.2,380.2 299.56,380.2 299.92,380.2 300.28,380.2 300.64,380.2 301,380.2 301.36,380.2 301.72,380.2 302.08,380.2 302.44,380.2 302.8,380.2 303.16,380.2 303.52,380.2 303.88,380.2 304.24,380.2 304.6,380.2 304.96,380.2 305.32,380.2 305.68,380.2 306.04,380.2 306.4,380.2 306.76,380.2 307.12,380.2 307.48,380.2 307.84,380.2 308.2,380.2 308.56,380.2 308.92,380.2 309.28,380.2 309.64,380.2 310,380.2 310.36,380.2 310.72,380.2 311.08,380.2 311.44,380.2 311.8,380.2 312.16,380.2 312.52,380.2 312.88,380.2 313.24,380.2 313.6,380.2 313.96,380.2 314.32,380.2 314.68,380.2 315.04,380.2 315.4,380.2 315.76,380.2 316.12,380.2 316.48,380.2 316.84,380.2 317.2,380.2 317.56,380.2 317.92,380.2 318.28,380.2 318.64,380.2 319,380.2 319.36,380.2 319.72,380.2 320.08,380.2 320.44,380.2 320.8,380.2 321.16,380.2 321.52,380.2 321.88,380.2 322.24,380.2 322.6,380.2 322.96,380.2 323.32,380.2 323.68,380.2 324.04,380.2 324.4,380.2 324.76,380.2 325.12,380.2 325.48,380.2 325.84,380.2 326.2,380.2 326.56,380.2 326.92,380.2 327.28,380.2 327.64,380.2 328,380.2 328.36,380.2 328.72,380.2 329.08,380.2 329.44,380.2 329.8,380.2 330.16,380.2 330.52,380.2 330.88,380.2 331.24,380.2 331.6,380.2 331.96,380.2 332.32,380.2 332.68,380.2 333.04,380.2 333.4,380.2 333.76,380.2 334.12,380.2 334.48,380.2 334.84,380.2 335.2,380.2 335.56,380.2 335.92,380.2 336.28,380.2 336.64,380.2 337,380.2 337.36,380.2 337.72,380.2 338.08,380.2 338.44,380.2 338.8,380.2 339.16,380.2 339.52,380.2 339.88,380.2 340.24,380.2 340.6,380.2 340.96,380.2 341.32,380.2 341.68,380.2 342.04,380.2 342.4,380.2 342.76,380.2 343.12,380.2 343.48,380.2 343.84,380.2 344.2,380.2 344.56,380.2 344.92,380.2 345.28,380.2 345.64,380.2 346,380.2 346.36,380.2 346.72,380.2 347.08,380.2 347.44,380.2 347.8,380.2 348.16,380.2 348.52,380.2 348.88,380.2 349.24,380.2 349.6,380.2 349.96,380.2 350.32,380.2 350.68,380.2 351.04,380.2 351.4,380.2 351.76,380.2 352.12,380.2 352.48,380.2 352.84,380.2" fill="none" stroke="#858580" stroke-width="1.7" stroke-dasharray="1.7,2.4" clip-path="url(#c4)"/>
<polyline points="166.72,205 167.08,208.99 167.44,212.89 167.8,216.7 168.16,220.42 168.52,224.06 168.88,227.61 169.24,231.08 169.6,234.48 169.96,237.8 170.32,241.04 170.68,244.2 171.04,247.3 171.4,250.33 171.76,253.28 172.12,256.17 172.48,258.99 172.84,261.75 173.2,264.45 173.56,267.08 173.92,269.66 174.28,272.18 174.64,274.63 175,277.04 175.36,279.39 175.72,281.68 176.08,283.92 176.44,286.11 176.8,288.26 177.16,290.35 177.52,292.39 177.88,294.39 178.24,296.35 178.6,298.25 178.96,300.12 179.32,301.94 179.68,303.72 180.04,305.47 180.4,307.17 180.76,308.83 181.12,310.45 181.48,312.04 181.84,313.59 182.2,315.11 182.56,316.59 182.92,318.04 183.28,319.45 183.64,320.84 184,322.19 184.36,323.51 184.72,324.8 185.08,326.06 185.44,327.29 185.8,328.5 186.16,329.67 186.52,330.82 186.88,331.95 187.24,333.05 187.6,334.12 187.96,335.17 188.32,336.19 188.68,337.19 189.04,338.17 189.4,339.13 189.76,340.06 190.12,340.98 190.48,341.87 190.84,342.74 191.2,343.6 191.56,344.43 191.92,345.24 192.28,346.04 192.64,346.82 193,347.58 193.36,348.32 193.72,349.05 194.08,349.75 194.44,350.45 194.8,351.12 195.16,351.79 195.52,352.43 195.88,353.07 196.24,353.68 196.6,354.29 196.96,354.88 197.32,355.45 197.68,356.02 198.04,356.57 198.4,357.1 198.76,357.63 199.12,358.14 199.48,358.65 199.84,359.14 200.2,359.62 200.56,360.08 200.92,360.54 201.28,360.99 201.64,361.43 202,361.85 202.36,362.27 202.72,362.68 203.08,363.08 203.44,363.47 203.8,363.85 204.16,364.22 204.52,364.59 204.88,364.94 205.24,365.29 205.6,365.63 205.96,365.96 206.32,366.28 206.68,366.6 207.04,366.91 207.4,367.21 207.76,367.51 208.12,367.8 208.48,368.08 208.84,368.36 209.2,368.62 209.56,368.89 209.92,369.15 210.28,369.4 210.64,369.64 211,369.88 211.36,370.12 211.72,370.35 212.08,370.57 212.44,370.79 212.8,371.01 213.16,371.21 213.52,371.42 213.88,371.62 214.24,371.81 214.6,372.01 214.96,372.19 215.32,372.37 215.68,372.55 216.04,372.73 216.4,372.9 216.76,373.06 217.12,373.23 217.48,373.38 217.84,373.54 218.2,373.69 218.56,373.84 218.92,373.98 219.28,374.13 219.64,374.26 220,374.4 220.36,374.53 220.72,374.66 221.08,374.79 221.44,374.91 221.8,375.03 222.16,375.15 222.52,375.26 222.88,375.37 223.24,375.48 223.6,375.59 223.96,375.7 224.32,375.8 224.68,375.9 225.04,376 225.4,376.09 225.76,376.19 226.12,376.28 226.48,376.37 226.84,376.45 227.2,376.54 227.56,376.62 227.92,376.7 228.28,376.78 228.64,376.86 229,376.94 229.36,377.01 229.72,377.08 230.08,377.16 230.44,377.22 230.8,377.29 231.16,377.36 231.52,377.42 231.88,377.49 232.24,377.55 232.6,377.61 232.96,377.67 233.32,377.73 233.68,377.78 234.04,377.84 234.4,377.89 234.76,377.94 235.12,377.99 235.48,378.04 235.84,378.09 236.2,378.14 236.56,378.19 236.92,378.23 237.28,378.28 237.64,378.32 238,378.37 238.36,378.41 238.72,378.45 239.08,378.49 239.44,378.53 239.8,378.56 240.16,378.6 240.52,378.64 240.88,378.67 241.24,378.71 241.6,378.74 241.96,378.78 242.32,378.81 242.68,378.84 243.04,378.87 243.4,378.9 243.76,378.93 244.12,378.96 244.48,378.99 244.84,379.02 245.2,379.04 245.56,379.07 245.92,379.09 246.28,379.12 246.64,379.14 247,379.17 247.36,379.19 247.72,379.21 248.08,379.24 248.44,379.26 248.8,379.28 249.16,379.3 249.52,379.32 249.88,379.34 250.24,379.36 250.6,379.38 250.96,379.4 251.32,379.42 251.68,379.44 252.04,379.45 252.4,379.47 252.76,379.49 253.12,379.5 253.48,379.52 253.84,379.53 254.2,379.55 254.56,379.56 254.92,379.58 255.28,379.59 255.64,379.61 256,379.62 256.36,379.63 256.72,379.65 257.08,379.66 257.44,379.67 257.8,379.68 258.16,379.69 258.52,379.71 258.88,379.72 259.24,379.73 259.6,379.74 259.96,379.75 260.32,379.76 260.68,379.77 261.04,379.78 261.4,379.79 261.76,379.8 262.12,379.81 262.48,379.82 262.84,379.83 263.2,379.83 263.56,379.84 263.92,379.85 264.28,379.86 264.64,379.87 265,379.87 265.36,379.88 265.72,379.89 266.08,379.9 266.44,379.9 266.8,379.91 267.16,379.92 267.52,379.92 267.88,379.93 268.24,379.93 268.6,379.94 268.96,379.95 269.32,379.95 269.68,379.96 270.04,379.96 270.4,379.97 270.76,379.97 271.12,379.98 271.48,379.98 271.84,379.99 272.2,379.99 272.56,380 272.92,380 273.28,380.01 273.64,380.01 274,380.02 274.36,380.02 274.72,380.02 275.08,380.03 275.44,380.03 275.8,380.04 276.16,380.04 276.52,380.04 276.88,380.05 277.24,380.05 277.6,380.05 277.96,380.06 278.32,380.06 278.68,380.06 279.04,380.07 279.4,380.07 279.76,380.07 280.12,380.08 280.48,380.08 280.84,380.08 281.2,380.08 281.56,380.09 281.92,380.09 282.28,380.09 282.64,380.09 283,380.1 283.36,380.1 283.72,380.1 284.08,380.1 284.44,380.11 284.8,380.11 285.16,380.11 285.52,380.11 285.88,380.11 286.24,380.12 286.6,380.12 286.96,380.12 287.32,380.12 287.68,380.12 288.04,380.13 288.4,380.13 288.76,380.13 289.12,380.13 289.48,380.13 289.84,380.13 290.2,380.13 290.56,380.14 290.92,380.14 291.28,380.14 291.64,380.14 292,380.14 292.36,380.14 292.72,380.14 293.08,380.15 293.44,380.15 293.8,380.15 294.16,380.15 294.52,380.15 294.88,380.15 295.24,380.15 295.6,380.15 295.96,380.15 296.32,380.16 296.68,380.16 297.04,380.16 297.4,380.16 297.76,380.16 298.12,380.16 298.48,380.16 298.84,380.16 299.2,380.16 299.56,380.16 299.92,380.17 300.28,380.17 300.64,380.17 301,380.17 301.36,380.17 301.72,380.17 302.08,380.17 302.44,380.17 302.8,380.17 303.16,380.17 303.52,380.17 303.88,380.17 304.24,380.17 304.6,380.17 304.96,380.17 305.32,380.18 305.68,380.18 306.04,380.18 306.4,380.18 306.76,380.18 307.12,380.18 307.48,380.18 307.84,380.18 308.2,380.18 308.56,380.18 308.92,380.18 309.28,380.18 309.64,380.18 310,380.18 310.36,380.18 310.72,380.18 311.08,380.18 311.44,380.18 311.8,380.18 312.16,380.18 312.52,380.18 312.88,380.18 313.24,380.19 313.6,380.19 313.96,380.19 314.32,380.19 314.68,380.19 315.04,380.19 315.4,380.19 315.76,380.19 316.12,380.19 316.48,380.19 316.84,380.19 317.2,380.19 317.56,380.19 317.92,380.19 318.28,380.19 318.64,380.19 319,380.19 319.36,380.19 319.72,380.19 320.08,380.19 320.44,380.19 320.8,380.19 321.16,380.19 321.52,380.19 321.88,380.19 322.24,380.19 322.6,380.19 322.96,380.19 323.32,380.19 323.68,380.19 324.04,380.19 324.4,380.19 324.76,380.19 325.12,380.19 325.48,380.19 325.84,380.19 326.2,380.19 326.56,380.19 326.92,380.19 327.28,380.19 327.64,380.19 328,380.19 328.36,380.19 328.72,380.19 329.08,380.19 329.44,380.19 329.8,380.19 330.16,380.19 330.52,380.2 330.88,380.2 331.24,380.2 331.6,380.2 331.96,380.2 332.32,380.2 332.68,380.2 333.04,380.2 333.4,380.2 333.76,380.2 334.12,380.2 334.48,380.2 334.84,380.2 335.2,380.2 335.56,380.2 335.92,380.2 336.28,380.2 336.64,380.2 337,380.2 337.36,380.2 337.72,380.2 338.08,380.2 338.44,380.2 338.8,380.2 339.16,380.2 339.52,380.2 339.88,380.2 340.24,380.2 340.6,380.2 340.96,380.2 341.32,380.2 341.68,380.2 342.04,380.2 342.4,380.2 342.76,380.2 343.12,380.2 343.48,380.2 343.84,380.2 344.2,380.2 344.56,380.2 344.92,380.2 345.28,380.2 345.64,380.2 346,380.2 346.36,380.2 346.72,380.2 347.08,380.2 347.44,380.2 347.8,380.2 348.16,380.2 348.52,380.2 348.88,380.2 349.24,380.2 349.6,380.2 349.96,380.2 350.32,380.2 350.68,380.2 351.04,380.2 351.4,380.2 351.76,380.2 352.12,380.2 352.48,380.2 352.84,380.2" fill="none" stroke="#858580" stroke-width="1.7" stroke-dasharray="1.7,2.4" clip-path="url(#c4)"/>
<polyline points="202.72,205 203.08,208.99 203.44,212.89 203.8,216.7 204.16,220.42 204.52,224.06 204.88,227.61 205.24,231.08 205.6,234.48 205.96,237.8 206.32,241.04 206.68,244.2 207.04,247.3 207.4,250.33 207.76,253.28 208.12,256.17 208.48,258.99 208.84,261.75 209.2,264.45 209.56,267.08 209.92,269.66 210.28,272.18 210.64,274.63 211,277.04 211.36,279.39 211.72,281.68 212.08,283.92 212.44,286.11 212.8,288.26 213.16,290.35 213.52,292.39 213.88,294.39 214.24,296.35 214.6,298.25 214.96,300.12 215.32,301.94 215.68,303.72 216.04,305.47 216.4,307.17 216.76,308.83 217.12,310.45 217.48,312.04 217.84,313.59 218.2,315.11 218.56,316.59 218.92,318.04 219.28,319.45 219.64,320.84 220,322.19 220.36,323.51 220.72,324.8 221.08,326.06 221.44,327.29 221.8,328.5 222.16,329.67 222.52,330.82 222.88,331.95 223.24,333.05 223.6,334.12 223.96,335.17 224.32,336.19 224.68,337.19 225.04,338.17 225.4,339.13 225.76,340.06 226.12,340.98 226.48,341.87 226.84,342.74 227.2,343.6 227.56,344.43 227.92,345.24 228.28,346.04 228.64,346.82 229,347.58 229.36,348.32 229.72,349.05 230.08,349.75 230.44,350.45 230.8,351.12 231.16,351.79 231.52,352.43 231.88,353.07 232.24,353.68 232.6,354.29 232.96,354.88 233.32,355.45 233.68,356.02 234.04,356.57 234.4,357.1 234.76,357.63 235.12,358.14 235.48,358.65 235.84,359.14 236.2,359.62 236.56,360.08 236.92,360.54 237.28,360.99 237.64,361.43 238,361.85 238.36,362.27 238.72,362.68 239.08,363.08 239.44,363.47 239.8,363.85 240.16,364.22 240.52,364.59 240.88,364.94 241.24,365.29 241.6,365.63 241.96,365.96 242.32,366.28 242.68,366.6 243.04,366.91 243.4,367.21 243.76,367.51 244.12,367.8 244.48,368.08 244.84,368.36 245.2,368.62 245.56,368.89 245.92,369.15 246.28,369.4 246.64,369.64 247,369.88 247.36,370.12 247.72,370.35 248.08,370.57 248.44,370.79 248.8,371.01 249.16,371.21 249.52,371.42 249.88,371.62 250.24,371.81 250.6,372.01 250.96,372.19 251.32,372.37 251.68,372.55 252.04,372.73 252.4,372.9 252.76,373.06 253.12,373.23 253.48,373.38 253.84,373.54 254.2,373.69 254.56,373.84 254.92,373.98 255.28,374.13 255.64,374.26 256,374.4 256.36,374.53 256.72,374.66 257.08,374.79 257.44,374.91 257.8,375.03 258.16,375.15 258.52,375.26 258.88,375.37 259.24,375.48 259.6,375.59 259.96,375.7 260.32,375.8 260.68,375.9 261.04,376 261.4,376.09 261.76,376.19 262.12,376.28 262.48,376.37 262.84,376.45 263.2,376.54 263.56,376.62 263.92,376.7 264.28,376.78 264.64,376.86 265,376.94 265.36,377.01 265.72,377.08 266.08,377.16 266.44,377.22 266.8,377.29 267.16,377.36 267.52,377.42 267.88,377.49 268.24,377.55 268.6,377.61 268.96,377.67 269.32,377.73 269.68,377.78 270.04,377.84 270.4,377.89 270.76,377.94 271.12,377.99 271.48,378.04 271.84,378.09 272.2,378.14 272.56,378.19 272.92,378.23 273.28,378.28 273.64,378.32 274,378.37 274.36,378.41 274.72,378.45 275.08,378.49 275.44,378.53 275.8,378.56 276.16,378.6 276.52,378.64 276.88,378.67 277.24,378.71 277.6,378.74 277.96,378.78 278.32,378.81 278.68,378.84 279.04,378.87 279.4,378.9 279.76,378.93 280.12,378.96 280.48,378.99 280.84,379.02 281.2,379.04 281.56,379.07 281.92,379.09 282.28,379.12 282.64,379.14 283,379.17 283.36,379.19 283.72,379.21 284.08,379.24 284.44,379.26 284.8,379.28 285.16,379.3 285.52,379.32 285.88,379.34 286.24,379.36 286.6,379.38 286.96,379.4 287.32,379.42 287.68,379.44 288.04,379.45 288.4,379.47 288.76,379.49 289.12,379.5 289.48,379.52 289.84,379.53 290.2,379.55 290.56,379.56 290.92,379.58 291.28,379.59 291.64,379.61 292,379.62 292.36,379.63 292.72,379.65 293.08,379.66 293.44,379.67 293.8,379.68 294.16,379.69 294.52,379.71 294.88,379.72 295.24,379.73 295.6,379.74 295.96,379.75 296.32,379.76 296.68,379.77 297.04,379.78 297.4,379.79 297.76,379.8 298.12,379.81 298.48,379.82 298.84,379.83 299.2,379.83 299.56,379.84 299.92,379.85 300.28,379.86 300.64,379.87 301,379.87 301.36,379.88 301.72,379.89 302.08,379.9 302.44,379.9 302.8,379.91 303.16,379.92 303.52,379.92 303.88,379.93 304.24,379.93 304.6,379.94 304.96,379.95 305.32,379.95 305.68,379.96 306.04,379.96 306.4,379.97 306.76,379.97 307.12,379.98 307.48,379.98 307.84,379.99 308.2,379.99 308.56,380 308.92,380 309.28,380.01 309.64,380.01 310,380.02 310.36,380.02 310.72,380.02 311.08,380.03 311.44,380.03 311.8,380.04 312.16,380.04 312.52,380.04 312.88,380.05 313.24,380.05 313.6,380.05 313.96,380.06 314.32,380.06 314.68,380.06 315.04,380.07 315.4,380.07 315.76,380.07 316.12,380.08 316.48,380.08 316.84,380.08 317.2,380.08 317.56,380.09 317.92,380.09 318.28,380.09 318.64,380.09 319,380.1 319.36,380.1 319.72,380.1 320.08,380.1 320.44,380.11 320.8,380.11 321.16,380.11 321.52,380.11 321.88,380.11 322.24,380.12 322.6,380.12 322.96,380.12 323.32,380.12 323.68,380.12 324.04,380.13 324.4,380.13 324.76,380.13 325.12,380.13 325.48,380.13 325.84,380.13 326.2,380.13 326.56,380.14 326.92,380.14 327.28,380.14 327.64,380.14 328,380.14 328.36,380.14 328.72,380.14 329.08,380.15 329.44,380.15 329.8,380.15 330.16,380.15 330.52,380.15 330.88,380.15 331.24,380.15 331.6,380.15 331.96,380.15 332.32,380.16 332.68,380.16 333.04,380.16 333.4,380.16 333.76,380.16 334.12,380.16 334.48,380.16 334.84,380.16 335.2,380.16 335.56,380.16 335.92,380.17 336.28,380.17 336.64,380.17 337,380.17 337.36,380.17 337.72,380.17 338.08,380.17 338.44,380.17 338.8,380.17 339.16,380.17 339.52,380.17 339.88,380.17 340.24,380.17 340.6,380.17 340.96,380.17 341.32,380.18 341.68,380.18 342.04,380.18 342.4,380.18 342.76,380.18 343.12,380.18 343.48,380.18 343.84,380.18 344.2,380.18 344.56,380.18 344.92,380.18 345.28,380.18 345.64,380.18 346,380.18 346.36,380.18 346.72,380.18 347.08,380.18 347.44,380.18 347.8,380.18 348.16,380.18 348.52,380.18 348.88,380.18 349.24,380.19 349.6,380.19 349.96,380.19 350.32,380.19 350.68,380.19 351.04,380.19 351.4,380.19 351.76,380.19 352.12,380.19 352.48,380.19 352.84,380.19" fill="none" stroke="#858580" stroke-width="1.7" stroke-dasharray="1.7,2.4" clip-path="url(#c4)"/>
<polyline points="238.72,205 239.08,208.99 239.44,212.89 239.8,216.7 240.16,220.42 240.52,224.06 240.88,227.61 241.24,231.08 241.6,234.48 241.96,237.8 242.32,241.04 242.68,244.2 243.04,247.3 243.4,250.33 243.76,253.28 244.12,256.17 244.48,258.99 244.84,261.75 245.2,264.45 245.56,267.08 245.92,269.66 246.28,272.18 246.64,274.63 247,277.04 247.36,279.39 247.72,281.68 248.08,283.92 248.44,286.11 248.8,288.26 249.16,290.35 249.52,292.39 249.88,294.39 250.24,296.35 250.6,298.25 250.96,300.12 251.32,301.94 251.68,303.72 252.04,305.47 252.4,307.17 252.76,308.83 253.12,310.45 253.48,312.04 253.84,313.59 254.2,315.11 254.56,316.59 254.92,318.04 255.28,319.45 255.64,320.84 256,322.19 256.36,323.51 256.72,324.8 257.08,326.06 257.44,327.29 257.8,328.5 258.16,329.67 258.52,330.82 258.88,331.95 259.24,333.05 259.6,334.12 259.96,335.17 260.32,336.19 260.68,337.19 261.04,338.17 261.4,339.13 261.76,340.06 262.12,340.98 262.48,341.87 262.84,342.74 263.2,343.6 263.56,344.43 263.92,345.24 264.28,346.04 264.64,346.82 265,347.58 265.36,348.32 265.72,349.05 266.08,349.75 266.44,350.45 266.8,351.12 267.16,351.79 267.52,352.43 267.88,353.07 268.24,353.68 268.6,354.29 268.96,354.88 269.32,355.45 269.68,356.02 270.04,356.57 270.4,357.1 270.76,357.63 271.12,358.14 271.48,358.65 271.84,359.14 272.2,359.62 272.56,360.08 272.92,360.54 273.28,360.99 273.64,361.43 274,361.85 274.36,362.27 274.72,362.68 275.08,363.08 275.44,363.47 275.8,363.85 276.16,364.22 276.52,364.59 276.88,364.94 277.24,365.29 277.6,365.63 277.96,365.96 278.32,366.28 278.68,366.6 279.04,366.91 279.4,367.21 279.76,367.51 280.12,367.8 280.48,368.08 280.84,368.36 281.2,368.62 281.56,368.89 281.92,369.15 282.28,369.4 282.64,369.64 283,369.88 283.36,370.12 283.72,370.35 284.08,370.57 284.44,370.79 284.8,371.01 285.16,371.21 285.52,371.42 285.88,371.62 286.24,371.81 286.6,372.01 286.96,372.19 287.32,372.37 287.68,372.55 288.04,372.73 288.4,372.9 288.76,373.06 289.12,373.23 289.48,373.38 289.84,373.54 290.2,373.69 290.56,373.84 290.92,373.98 291.28,374.13 291.64,374.26 292,374.4 292.36,374.53 292.72,374.66 293.08,374.79 293.44,374.91 293.8,375.03 294.16,375.15 294.52,375.26 294.88,375.37 295.24,375.48 295.6,375.59 295.96,375.7 296.32,375.8 296.68,375.9 297.04,376 297.4,376.09 297.76,376.19 298.12,376.28 298.48,376.37 298.84,376.45 299.2,376.54 299.56,376.62 299.92,376.7 300.28,376.78 300.64,376.86 301,376.94 301.36,377.01 301.72,377.08 302.08,377.16 302.44,377.22 302.8,377.29 303.16,377.36 303.52,377.42 303.88,377.49 304.24,377.55 304.6,377.61 304.96,377.67 305.32,377.73 305.68,377.78 306.04,377.84 306.4,377.89 306.76,377.94 307.12,377.99 307.48,378.04 307.84,378.09 308.2,378.14 308.56,378.19 308.92,378.23 309.28,378.28 309.64,378.32 310,378.37 310.36,378.41 310.72,378.45 311.08,378.49 311.44,378.53 311.8,378.56 312.16,378.6 312.52,378.64 312.88,378.67 313.24,378.71 313.6,378.74 313.96,378.78 314.32,378.81 314.68,378.84 315.04,378.87 315.4,378.9 315.76,378.93 316.12,378.96 316.48,378.99 316.84,379.02 317.2,379.04 317.56,379.07 317.92,379.09 318.28,379.12 318.64,379.14 319,379.17 319.36,379.19 319.72,379.21 320.08,379.24 320.44,379.26 320.8,379.28 321.16,379.3 321.52,379.32 321.88,379.34 322.24,379.36 322.6,379.38 322.96,379.4 323.32,379.42 323.68,379.44 324.04,379.45 324.4,379.47 324.76,379.49 325.12,379.5 325.48,379.52 325.84,379.53 326.2,379.55 326.56,379.56 326.92,379.58 327.28,379.59 327.64,379.61 328,379.62 328.36,379.63 328.72,379.65 329.08,379.66 329.44,379.67 329.8,379.68 330.16,379.69 330.52,379.71 330.88,379.72 331.24,379.73 331.6,379.74 331.96,379.75 332.32,379.76 332.68,379.77 333.04,379.78 333.4,379.79 333.76,379.8 334.12,379.81 334.48,379.82 334.84,379.83 335.2,379.83 335.56,379.84 335.92,379.85 336.28,379.86 336.64,379.87 337,379.87 337.36,379.88 337.72,379.89 338.08,379.9 338.44,379.9 338.8,379.91 339.16,379.92 339.52,379.92 339.88,379.93 340.24,379.93 340.6,379.94 340.96,379.95 341.32,379.95 341.68,379.96 342.04,379.96 342.4,379.97 342.76,379.97 343.12,379.98 343.48,379.98 343.84,379.99 344.2,379.99 344.56,380 344.92,380 345.28,380.01 345.64,380.01 346,380.02 346.36,380.02 346.72,380.02 347.08,380.03 347.44,380.03 347.8,380.04 348.16,380.04 348.52,380.04 348.88,380.05 349.24,380.05 349.6,380.05 349.96,380.06 350.32,380.06 350.68,380.06 351.04,380.07 351.4,380.07 351.76,380.07 352.12,380.08 352.48,380.08 352.84,380.08" fill="none" stroke="#858580" stroke-width="1.7" stroke-dasharray="1.7,2.4" clip-path="url(#c4)"/>
<polyline points="274.72,205 275.08,208.99 275.44,212.89 275.8,216.7 276.16,220.42 276.52,224.06 276.88,227.61 277.24,231.08 277.6,234.48 277.96,237.8 278.32,241.04 278.68,244.2 279.04,247.3 279.4,250.33 279.76,253.28 280.12,256.17 280.48,258.99 280.84,261.75 281.2,264.45 281.56,267.08 281.92,269.66 282.28,272.18 282.64,274.63 283,277.04 283.36,279.39 283.72,281.68 284.08,283.92 284.44,286.11 284.8,288.26 285.16,290.35 285.52,292.39 285.88,294.39 286.24,296.35 286.6,298.25 286.96,300.12 287.32,301.94 287.68,303.72 288.04,305.47 288.4,307.17 288.76,308.83 289.12,310.45 289.48,312.04 289.84,313.59 290.2,315.11 290.56,316.59 290.92,318.04 291.28,319.45 291.64,320.84 292,322.19 292.36,323.51 292.72,324.8 293.08,326.06 293.44,327.29 293.8,328.5 294.16,329.67 294.52,330.82 294.88,331.95 295.24,333.05 295.6,334.12 295.96,335.17 296.32,336.19 296.68,337.19 297.04,338.17 297.4,339.13 297.76,340.06 298.12,340.98 298.48,341.87 298.84,342.74 299.2,343.6 299.56,344.43 299.92,345.24 300.28,346.04 300.64,346.82 301,347.58 301.36,348.32 301.72,349.05 302.08,349.75 302.44,350.45 302.8,351.12 303.16,351.79 303.52,352.43 303.88,353.07 304.24,353.68 304.6,354.29 304.96,354.88 305.32,355.45 305.68,356.02 306.04,356.57 306.4,357.1 306.76,357.63 307.12,358.14 307.48,358.65 307.84,359.14 308.2,359.62 308.56,360.08 308.92,360.54 309.28,360.99 309.64,361.43 310,361.85 310.36,362.27 310.72,362.68 311.08,363.08 311.44,363.47 311.8,363.85 312.16,364.22 312.52,364.59 312.88,364.94 313.24,365.29 313.6,365.63 313.96,365.96 314.32,366.28 314.68,366.6 315.04,366.91 315.4,367.21 315.76,367.51 316.12,367.8 316.48,368.08 316.84,368.36 317.2,368.62 317.56,368.89 317.92,369.15 318.28,369.4 318.64,369.64 319,369.88 319.36,370.12 319.72,370.35 320.08,370.57 320.44,370.79 320.8,371.01 321.16,371.21 321.52,371.42 321.88,371.62 322.24,371.81 322.6,372.01 322.96,372.19 323.32,372.37 323.68,372.55 324.04,372.73 324.4,372.9 324.76,373.06 325.12,373.23 325.48,373.38 325.84,373.54 326.2,373.69 326.56,373.84 326.92,373.98 327.28,374.13 327.64,374.26 328,374.4 328.36,374.53 328.72,374.66 329.08,374.79 329.44,374.91 329.8,375.03 330.16,375.15 330.52,375.26 330.88,375.37 331.24,375.48 331.6,375.59 331.96,375.7 332.32,375.8 332.68,375.9 333.04,376 333.4,376.09 333.76,376.19 334.12,376.28 334.48,376.37 334.84,376.45 335.2,376.54 335.56,376.62 335.92,376.7 336.28,376.78 336.64,376.86 337,376.94 337.36,377.01 337.72,377.08 338.08,377.16 338.44,377.22 338.8,377.29 339.16,377.36 339.52,377.42 339.88,377.49 340.24,377.55 340.6,377.61 340.96,377.67 341.32,377.73 341.68,377.78 342.04,377.84 342.4,377.89 342.76,377.94 343.12,377.99 343.48,378.04 343.84,378.09 344.2,378.14 344.56,378.19 344.92,378.23 345.28,378.28 345.64,378.32 346,378.37 346.36,378.41 346.72,378.45 347.08,378.49 347.44,378.53 347.8,378.56 348.16,378.6 348.52,378.64 348.88,378.67 349.24,378.71 349.6,378.74 349.96,378.78 350.32,378.81 350.68,378.84 351.04,378.87 351.4,378.9 351.76,378.93 352.12,378.96 352.48,378.99 352.84,379.02" fill="none" stroke="#858580" stroke-width="1.7" stroke-dasharray="1.7,2.4" clip-path="url(#c4)"/>
<polyline points="310.72,205 311.08,208.99 311.44,212.89 311.8,216.7 312.16,220.42 312.52,224.06 312.88,227.61 313.24,231.08 313.6,234.48 313.96,237.8 314.32,241.04 314.68,244.2 315.04,247.3 315.4,250.33 315.76,253.28 316.12,256.17 316.48,258.99 316.84,261.75 317.2,264.45 317.56,267.08 317.92,269.66 318.28,272.18 318.64,274.63 319,277.04 319.36,279.39 319.72,281.68 320.08,283.92 320.44,286.11 320.8,288.26 321.16,290.35 321.52,292.39 321.88,294.39 322.24,296.35 322.6,298.25 322.96,300.12 323.32,301.94 323.68,303.72 324.04,305.47 324.4,307.17 324.76,308.83 325.12,310.45 325.48,312.04 325.84,313.59 326.2,315.11 326.56,316.59 326.92,318.04 327.28,319.45 327.64,320.84 328,322.19 328.36,323.51 328.72,324.8 329.08,326.06 329.44,327.29 329.8,328.5 330.16,329.67 330.52,330.82 330.88,331.95 331.24,333.05 331.6,334.12 331.96,335.17 332.32,336.19 332.68,337.19 333.04,338.17 333.4,339.13 333.76,340.06 334.12,340.98 334.48,341.87 334.84,342.74 335.2,343.6 335.56,344.43 335.92,345.24 336.28,346.04 336.64,346.82 337,347.58 337.36,348.32 337.72,349.05 338.08,349.75 338.44,350.45 338.8,351.12 339.16,351.79 339.52,352.43 339.88,353.07 340.24,353.68 340.6,354.29 340.96,354.88 341.32,355.45 341.68,356.02 342.04,356.57 342.4,357.1 342.76,357.63 343.12,358.14 343.48,358.65 343.84,359.14 344.2,359.62 344.56,360.08 344.92,360.54 345.28,360.99 345.64,361.43 346,361.85 346.36,362.27 346.72,362.68 347.08,363.08 347.44,363.47 347.8,363.85 348.16,364.22 348.52,364.59 348.88,364.94 349.24,365.29 349.6,365.63 349.96,365.96 350.32,366.28 350.68,366.6 351.04,366.91 351.4,367.21 351.76,367.51 352.12,367.8 352.48,368.08 352.84,368.36" fill="none" stroke="#858580" stroke-width="1.7" stroke-dasharray="1.7,2.4" clip-path="url(#c4)"/>
<polyline points="244,378.8 245.3,379.8 246.6,378.8 247.9,379.8 249.2,378.8 250.5,379.8 251.8,378.8 253.1,379.8 254.4,378.8 255.7,379.8 257,378.8 258.3,379.8 259.6,378.8 260.9,379.8 262.2,378.8 263.5,379.8 264.8,378.8 266.1,379.8 267.4,378.8 268.7,379.8 270,378.8 271.3,379.8 272.6,378.8 273.9,379.8 275.2,378.8 276.5,379.8 277.8,378.8 279.1,379.8 280.4,378.8 281.7,379.8 283,378.8 284.3,379.8 285.6,378.8 286.9,379.8 288.2,378.8 289.5,379.8 290.8,378.8 292.1,379.8 293.4,378.8 294.7,379.8 296,378.8 297.3,379.8 298.6,378.8 299.9,379.8 301.2,378.8 302.5,379.8 303.8,378.8 305.1,379.8 306.4,378.8 307.7,379.8 309,378.8 310.3,379.8 311.6,378.8 312.9,379.8 314.2,378.8 315.5,379.8 316.8,378.8 318.1,379.8 319.4,378.8 320.7,379.8 322,378.8 323.3,379.8 324.6,378.8 325.9,379.8 327.2,378.8 328.5,379.8 329.8,378.8 331.1,379.8 332.4,378.8 333.7,379.8 335,378.8 336.3,379.8 337.6,378.8 338.9,379.8 340.2,378.8 341.5,379.8" fill="none" stroke="#999" stroke-width="0.9"/>
<g clip-path="url(#c4)">
<rect x="210.9" y="230.7" width="6.2" height="6.2" fill="none" stroke="#9a9a9a" stroke-width="1"/>
<rect x="231.7" y="237" width="6.2" height="6.2" fill="none" stroke="#9a9a9a" stroke-width="1"/>
<rect x="241.5" y="248.1" width="6.2" height="6.2" fill="none" stroke="#9a9a9a" stroke-width="1"/>
<rect x="260.1" y="306.9" width="6.2" height="6.2" fill="none" stroke="#9a9a9a" stroke-width="1"/>
<rect x="311.8" y="289.4" width="6.2" height="6.2" fill="none" stroke="#9a9a9a" stroke-width="1"/>
<path d="M249.24 249.22h7.13l-3.56 6.2z" fill="none" stroke="#9a9a9a" stroke-width="1"/>
<circle cx="234.6" cy="342.6" r="3.1" fill="none" stroke="#ff1010" stroke-width="1"/>
<circle cx="206.4" cy="365" r="3.1" fill="none" stroke="#ff1010" stroke-width="1"/>
<circle cx="205.7" cy="378" r="3.1" fill="none" stroke="#ff1010" stroke-width="1"/>
<circle cx="236.8" cy="376.6" r="3.1" fill="none" stroke="#ff1010" stroke-width="1"/>
<circle cx="241.1" cy="370.1" r="3.1" fill="none" stroke="#ff1010" stroke-width="1"/>
<circle cx="239.7" cy="378" r="3.1" fill="none" stroke="#ff1010" stroke-width="1"/>
<circle cx="249.8" cy="370.8" r="3.1" fill="none" stroke="#ff1010" stroke-width="1"/>
<circle cx="253.4" cy="375.2" r="3.1" fill="none" stroke="#ff1010" stroke-width="1"/>
<circle cx="257" cy="376.6" r="3.1" fill="none" stroke="#ff1010" stroke-width="1"/>
<circle cx="195.5" cy="378.2" r="3.1" fill="none" stroke="#ff1010" stroke-width="1"/>
<circle cx="203.6" cy="378.2" r="3.1" fill="none" stroke="#ff1010" stroke-width="1"/>
<circle cx="242.7" cy="370" r="3.1" fill="none" stroke="#ff1010" stroke-width="1"/>
<circle cx="241.8" cy="376.4" r="3.1" fill="none" stroke="#ff1010" stroke-width="1"/>
<circle cx="250" cy="372.3" r="3.1" fill="none" stroke="#ff1010" stroke-width="1"/>
<circle cx="251.8" cy="375.5" r="3.1" fill="none" stroke="#ff1010" stroke-width="1"/>
<circle cx="256.8" cy="376.8" r="3.1" fill="none" stroke="#ff1010" stroke-width="1"/>
<circle cx="270" cy="341.8" r="3.1" fill="none" stroke="#ff1010" stroke-width="1"/>
<circle cx="275" cy="336.4" r="3.1" fill="none" stroke="#ff1010" stroke-width="1"/>
<circle cx="279.1" cy="370" r="3.1" fill="none" stroke="#ff1010" stroke-width="1"/>
<circle cx="281.8" cy="370" r="3.1" fill="none" stroke="#ff1010" stroke-width="1"/>
<circle cx="283.6" cy="368.2" r="3.1" fill="none" stroke="#ff1010" stroke-width="1"/>
<circle cx="266.8" cy="302.7" r="3.1" fill="none" stroke="#ff1010" stroke-width="1"/>
<circle cx="270.9" cy="302.7" r="3.1" fill="none" stroke="#ff1010" stroke-width="1"/>
<circle cx="285.5" cy="313.2" r="3.1" fill="none" stroke="#ff1010" stroke-width="1"/>
<circle cx="275.4" cy="282.3" r="3.1" fill="none" stroke="#ff1010" stroke-width="1"/>
<circle cx="284" cy="311.5" r="3.1" fill="none" stroke="#ff1010" stroke-width="1"/>
<circle cx="287.5" cy="315.5" r="3.1" fill="none" stroke="#ff1010" stroke-width="1"/>
<circle cx="290" cy="312" r="3.1" fill="none" stroke="#ff1010" stroke-width="1"/>
<circle cx="272" cy="376" r="3.1" fill="none" stroke="#ff1010" stroke-width="1"/>
<circle cx="262" cy="375" r="3.1" fill="none" stroke="#ff1010" stroke-width="1"/>
<circle cx="268" cy="372" r="3.1" fill="none" stroke="#ff1010" stroke-width="1"/>
<path d="M278.2 332.09L279.28 334.42L281.61 335.5L279.28 336.58L278.2 338.91L277.12 336.58L274.79 335.5L277.12 334.42z" fill="#22cccc"/>
<path d="M281.8 340.19L282.88 342.52L285.21 343.6L282.88 344.69L281.8 347.01L280.72 344.69L278.39 343.6L280.72 342.52z" fill="#22cccc"/>
<path d="M285.5 335.69L286.58 338.02L288.91 339.1L286.58 340.19L285.5 342.51L284.42 340.19L282.09 339.1L284.42 338.02z" fill="#22cccc"/>
<path d="M289 286.09L290.08 288.42L292.41 289.5L290.08 290.58L289 292.91L287.92 290.58L285.59 289.5L287.92 288.42z" fill="#22cccc"/>
<path d="M286 282.59L287.08 284.92L289.41 286L287.08 287.08L286 289.41L284.92 287.08L282.59 286L284.92 284.92z" fill="#22cccc"/>
<path d="M292 279.59L293.08 281.92L295.41 283L293.08 284.08L292 286.41L290.92 284.08L288.59 283L290.92 281.92z" fill="#22cccc"/>
<path d="M295 283.59L296.08 285.92L298.41 287L296.08 288.08L295 290.41L293.92 288.08L291.59 287L293.92 285.92z" fill="#22cccc"/>
<path d="M298 281.59L299.08 283.92L301.41 285L299.08 286.08L298 288.41L296.92 286.08L294.59 285L296.92 283.92z" fill="#22cccc"/>
<path d="M291 289.59L292.08 291.92L294.41 293L292.08 294.08L291 296.41L289.92 294.08L287.59 293L289.92 291.92z" fill="#22cccc"/>
<path d="M294 275.59L295.08 277.92L297.41 279L295.08 280.08L294 282.41L292.92 280.08L290.59 279L292.92 277.92z" fill="#22cccc"/>
<path d="M299 277.59L300.08 279.92L302.41 281L300.08 282.08L299 284.41L297.92 282.08L295.59 281L297.92 279.92z" fill="#22cccc"/>
<path d="M288 294.59L289.08 296.92L291.41 298L289.08 299.08L288 301.41L286.92 299.08L284.59 298L286.92 296.92z" fill="#22cccc"/>
<path d="M296 287.59L297.08 289.92L299.41 291L297.08 292.08L296 294.41L294.92 292.08L292.59 291L294.92 289.92z" fill="#22cccc"/>
<path d="M300 284.59L301.08 286.92L303.41 288L301.08 289.08L300 291.41L298.92 289.08L296.59 288L298.92 286.92z" fill="#22cccc"/>
<path d="M286 288.59L287.08 290.92L289.41 292L287.08 293.08L286 295.41L284.92 293.08L282.59 292L284.92 290.92z" fill="#22cccc"/>
<path d="M293 285.59L294.08 287.92L296.41 289L294.08 290.08L293 292.41L291.92 290.08L289.59 289L291.92 287.92z" fill="#22cccc"/>
<path d="M293.21 308.34L294.29 310.66L296.62 311.75L294.29 312.83L293.21 315.16L292.12 312.83L289.8 311.75L292.12 310.66z" fill="#22cccc"/>
<path d="M270.65 346.24L271.73 348.56L274.06 349.65L271.73 350.73L270.65 353.06L269.56 350.73L267.24 349.65L269.56 348.56z" fill="#22cccc"/>
<path d="M284.79 347.56L285.87 349.88L288.2 350.97L285.87 352.05L284.79 354.38L283.7 352.05L281.38 350.97L283.7 349.88z" fill="#22cccc"/>
<path d="M294.17 334.01L295.26 336.33L297.58 337.42L295.26 338.5L294.17 340.83L293.09 338.5L290.76 337.42L293.09 336.33z" fill="#22cccc"/>
<path d="M274.68 337.64L275.76 339.97L278.09 341.05L275.76 342.14L274.68 344.46L273.59 342.14L271.27 341.05L273.59 339.97z" fill="#22cccc"/>
<path d="M284.91 337.98L286 340.31L288.32 341.39L286 342.48L284.91 344.8L283.83 342.48L281.5 341.39L283.83 340.31z" fill="#22cccc"/>
<path d="M293.87 339.28L294.96 341.61L297.28 342.69L294.96 343.78L293.87 346.1L292.79 343.78L290.46 342.69L292.79 341.61z" fill="#22cccc"/>
<path d="M292.91 336.1L294 338.43L296.32 339.51L294 340.6L292.91 342.92L291.83 340.6L289.5 339.51L291.83 338.43z" fill="#22cccc"/>
<path d="M277.26 333.83L278.34 336.16L280.67 337.24L278.34 338.33L277.26 340.65L276.17 338.33L273.85 337.24L276.17 336.16z" fill="#22cccc"/>
<path d="M287.47 343.8L288.56 346.13L290.88 347.21L288.56 348.3L287.47 350.62L286.39 348.3L284.06 347.21L286.39 346.13z" fill="#22cccc"/>
<path d="M236.6 339.99h6.2L240.47 343.4L242.8 346.81h-6.2L238.92 343.4z" fill="#ff1010"/>
<path d="M221.4 354.39h6.2L225.28 357.8L227.6 361.21h-6.2L223.72 357.8z" fill="#ff1010"/>
<path d="M222.9 357.29h6.2L226.78 360.7L229.1 364.11h-6.2L225.22 360.7z" fill="#ff1010"/>
<path d="M230.1 357.29h6.2L233.97 360.7L236.3 364.11h-6.2L232.42 360.7z" fill="#ff1010"/>
<path d="M230.1 360.19h6.2L233.97 363.6L236.3 367.01h-6.2L232.42 363.6z" fill="#ff1010"/>
<path d="M211.3 365.99h6.2L215.18 369.4L217.5 372.81h-6.2L213.62 369.4z" fill="#ff1010"/>
<path d="M210.6 370.29h6.2L214.47 373.7L216.8 377.11h-6.2L212.92 373.7z" fill="#ff1010"/>
<path d="M223.6 374.59h6.2L227.47 378L229.8 381.41h-6.2L225.92 378z" fill="#ff1010"/>
<path d="M236.6 344.29h6.2L240.47 347.7L242.8 351.11h-6.2L238.92 347.7z" fill="#ff1010"/>
<path d="M233.39 354v6.2L236.8 357.88L240.21 360.2v-6.2L236.8 356.33z" fill="#ff1010"/>
<path d="M209.29 367.9v6.2L212.7 371.77L216.11 374.1v-6.2L212.7 370.23z" fill="#ff1010"/>
<path d="M218.59 353.4v6.2L222 357.27L225.41 359.6v-6.2L222 355.73z" fill="#ff1010"/>
<path d="M232.5 363.94L236.22 369.99h-7.44z" fill="none" stroke="#ff1010" stroke-width="1"/>
<path d="M239 361.75L242.72 367.79h-7.44z" fill="none" stroke="#ff1010" stroke-width="1"/>
<path d="M180.9 374.05L184.62 380.09h-7.44z" fill="none" stroke="#ff1010" stroke-width="1"/>
<path d="M191.3 374.94L195.02 380.99h-7.44z" fill="none" stroke="#ff1010" stroke-width="1"/>
<path d="M270.9 311.75L274.62 317.79h-7.44z" fill="none" stroke="#ff1010" stroke-width="1"/>
<path d="M270.5 321.25L274.22 327.29h-7.44z" fill="none" stroke="#ff1010" stroke-width="1"/>
<path d="M275.9 320.85L279.62 326.89h-7.44z" fill="none" stroke="#ff1010" stroke-width="1"/>
<path d="M280 321.75L283.72 327.79h-7.44z" fill="none" stroke="#ff1010" stroke-width="1"/>
<path d="M270.9 326.25L274.62 332.29h-7.44z" fill="none" stroke="#ff1010" stroke-width="1"/>
<path d="M329.7 346.35L333.42 352.39h-7.44z" fill="none" stroke="#ff1010" stroke-width="1"/>
<path d="M321 355.14L324.72 361.19h-7.44z" fill="none" stroke="#ff1010" stroke-width="1"/>
<path d="M312.3 355.14L316.02 361.19h-7.44z" fill="none" stroke="#ff1010" stroke-width="1"/>
<path d="M309 359.44L312.72 365.49h-7.44z" fill="none" stroke="#ff1010" stroke-width="1"/>
<path d="M317.7 358.35L321.42 364.39h-7.44z" fill="none" stroke="#ff1010" stroke-width="1"/>
<path d="M311.2 368.25L314.92 374.29h-7.44z" fill="none" stroke="#ff1010" stroke-width="1"/>
<path d="M317.7 368.25L321.42 374.29h-7.44z" fill="none" stroke="#ff1010" stroke-width="1"/>
<path d="M326.5 372.55L330.22 378.59h-7.44z" fill="none" stroke="#ff1010" stroke-width="1"/>
<path d="M298.1 371.44L301.82 377.49h-7.44z" fill="none" stroke="#ff1010" stroke-width="1"/>
<path d="M302.5 372.55L306.22 378.59h-7.44z" fill="none" stroke="#ff1010" stroke-width="1"/>
<path d="M322.1 343.14L325.82 349.19h-7.44z" fill="none" stroke="#ff1010" stroke-width="1"/>
<path d="M318.8 337.64L322.52 343.69h-7.44z" fill="none" stroke="#ff1010" stroke-width="1"/>
<path d="M328.6 330.05L332.32 336.09h-7.44z" fill="none" stroke="#ff1010" stroke-width="1"/>
<path d="M333 331.14L336.72 337.19h-7.44z" fill="none" stroke="#ff1010" stroke-width="1"/>
<path d="M325 348.75L328.72 354.79h-7.44z" fill="none" stroke="#ff1010" stroke-width="1"/>
<path d="M314 362.75L317.72 368.79h-7.44z" fill="none" stroke="#ff1010" stroke-width="1"/>
<path d="M305 365.75L308.72 371.79h-7.44z" fill="none" stroke="#ff1010" stroke-width="1"/>
<path d="M322 362.75L325.72 368.79h-7.44z" fill="none" stroke="#ff1010" stroke-width="1"/>
<path d="M330 368.75L333.72 374.79h-7.44z" fill="none" stroke="#ff1010" stroke-width="1"/>
<path d="M336 373.75L339.72 379.79h-7.44z" fill="none" stroke="#ff1010" stroke-width="1"/>
<path d="M308 374.25L311.72 380.29h-7.44z" fill="none" stroke="#ff1010" stroke-width="1"/>
<path d="M320 373.75L323.72 379.79h-7.44z" fill="none" stroke="#ff1010" stroke-width="1"/>
<path d="M326 341.75L329.72 347.79h-7.44z" fill="none" stroke="#ff1010" stroke-width="1"/>
<path d="M331 337.75L334.72 343.79h-7.44z" fill="none" stroke="#ff1010" stroke-width="1"/>
<path d="M336 360.75L339.72 366.79h-7.44z" fill="none" stroke="#ff1010" stroke-width="1"/>
<path d="M302.43 364L306.15 370.04h-7.44z" fill="none" stroke="#ff1010" stroke-width="1"/>
<path d="M325.89 374.5L329.61 380.54h-7.44z" fill="none" stroke="#ff1010" stroke-width="1"/>
<path d="M332.88 348.99L336.6 355.04h-7.44z" fill="none" stroke="#ff1010" stroke-width="1"/>
<path d="M315.43 362.82L319.15 368.86h-7.44z" fill="none" stroke="#ff1010" stroke-width="1"/>
<path d="M300.9 355.37L304.62 361.41h-7.44z" fill="none" stroke="#ff1010" stroke-width="1"/>
<path d="M306.72 342.96L310.44 349.01h-7.44z" fill="none" stroke="#ff1010" stroke-width="1"/>
<path d="M302.36 366.4L306.08 372.45h-7.44z" fill="none" stroke="#ff1010" stroke-width="1"/>
<path d="M305.17 347.66L308.89 353.7h-7.44z" fill="none" stroke="#ff1010" stroke-width="1"/>
<path d="M315.64 370.12L319.36 376.16h-7.44z" fill="none" stroke="#ff1010" stroke-width="1"/>
<path d="M303.22 354.92L306.94 360.96h-7.44z" fill="none" stroke="#ff1010" stroke-width="1"/>
<path d="M321.98 370.55L325.7 376.59h-7.44z" fill="none" stroke="#ff1010" stroke-width="1"/>
<path d="M332.77 369.85L336.49 375.89h-7.44z" fill="none" stroke="#ff1010" stroke-width="1"/>
<path d="M311.14 353.7L314.86 359.74h-7.44z" fill="none" stroke="#ff1010" stroke-width="1"/>
<path d="M314.35 370.58L318.07 376.62h-7.44z" fill="none" stroke="#ff1010" stroke-width="1"/>
<path d="M307.05 347.1L310.77 353.14h-7.44z" fill="none" stroke="#ff1010" stroke-width="1"/>
<path d="M309.33 356.2L313.05 362.25h-7.44z" fill="none" stroke="#ff1010" stroke-width="1"/>
<path d="M323.56 348.2L327.28 354.25h-7.44z" fill="none" stroke="#ff1010" stroke-width="1"/>
<path d="M300.16 353.83L303.88 359.87h-7.44z" fill="none" stroke="#ff1010" stroke-width="1"/>
<path d="M257 357.29L260.88 363.64h-7.75z" fill="#ff1010"/>
<path d="M305.7 363.69L309.57 370.05h-7.75z" fill="#ff1010"/>
<path d="M316.6 362.59L320.48 368.94h-7.75z" fill="#ff1010"/>
<path d="M324.3 368.09L328.18 374.44h-7.75z" fill="#ff1010"/>
<path d="M312.8 351.69L316.68 358.05h-7.75z" fill="#ff1010"/>
<path d="M315 330.99L318.88 337.34h-7.75z" fill="#ff1010"/>
<path d="M311.2 333.09L315.07 339.44h-7.75z" fill="#ff1010"/>
<path d="M314.5 340.79L318.38 347.14h-7.75z" fill="#ff1010"/>
<path d="M309 340.79L312.88 347.14h-7.75z" fill="#ff1010"/>
<path d="M298.5 296.19L302.38 302.55h-7.75z" fill="#ff1010"/>
<path d="M312.7 309.29L316.57 315.64h-7.75z" fill="#ff1010"/>
<path d="M309.5 313.59L313.38 319.94h-7.75z" fill="#ff1010"/>
<path d="M316 322.39L319.88 328.75h-7.75z" fill="#ff1010"/>
<path d="M325.8 324.59L329.68 330.94h-7.75z" fill="#ff1010"/>
<path d="M328 328.99L331.88 335.34h-7.75z" fill="#ff1010"/>
<path d="M240.9 341.09L244.78 347.44h-7.75z" fill="#ff1010"/>
<path d="M255.5 355.69L259.38 362.05h-7.75z" fill="#ff1010"/>
<path d="M258.2 357.49L262.07 363.84h-7.75z" fill="#ff1010"/>
<path d="M265.5 359.29L269.38 365.64h-7.75z" fill="#ff1010"/>
<path d="M270.9 367.49L274.77 373.84h-7.75z" fill="#ff1010"/>
<path d="M287.3 353.89L291.18 360.25h-7.75z" fill="#ff1010"/>
<path d="M300 316.59L303.88 322.94h-7.75z" fill="#ff1010"/>
<path d="M305 311.59L308.88 317.94h-7.75z" fill="#ff1010"/>
<path d="M296 302.59L299.88 308.94h-7.75z" fill="#ff1010"/>
<path d="M303 305.59L306.88 311.94h-7.75z" fill="#ff1010"/>
<path d="M319 318.59L322.88 324.94h-7.75z" fill="#ff1010"/>
<path d="M322 334.59L325.88 340.94h-7.75z" fill="#ff1010"/>
<path d="M294 351.59L297.88 357.94h-7.75z" fill="#ff1010"/>
<path d="M300 341.59L303.88 347.94h-7.75z" fill="#ff1010"/>
<path d="M306 352.59L309.88 358.94h-7.75z" fill="#ff1010"/>
<path d="M320 346.59L323.88 352.94h-7.75z" fill="#ff1010"/>
<path d="M290 361.59L293.88 367.94h-7.75z" fill="#ff1010"/>
<path d="M275 353.59L278.88 359.94h-7.75z" fill="#ff1010"/>
<path d="M268 351.59L271.88 357.94h-7.75z" fill="#ff1010"/>
<path d="M304.92 301.68L308.8 308.03h-7.75z" fill="#ff1010"/>
<path d="M318.99 297.99L322.87 304.35h-7.75z" fill="#ff1010"/>
<path d="M314.04 311.78L317.92 318.13h-7.75z" fill="#ff1010"/>
<path d="M293.49 318.44L297.37 324.79h-7.75z" fill="#ff1010"/>
<path d="M292.61 314.97L296.49 321.33h-7.75z" fill="#ff1010"/>
<path d="M294 298.85L297.88 305.21h-7.75z" fill="#ff1010"/>
<path d="M309.25 333.45L313.13 339.81h-7.75z" fill="#ff1010"/>
<path d="M296.32 305.08L300.2 311.44h-7.75z" fill="#ff1010"/>
<path d="M317.98 339.13L321.85 345.49h-7.75z" fill="#ff1010"/>
<path d="M315.82 313.23L319.69 319.59h-7.75z" fill="#ff1010"/>
<path d="M297.2 300.13L301.08 306.48h-7.75z" fill="#ff1010"/>
<path d="M304.26 332.95L308.14 339.3h-7.75z" fill="#ff1010"/>
<path d="M298.77 321.93L302.65 328.28h-7.75z" fill="#ff1010"/>
<path d="M318.47 312.09L322.35 318.45h-7.75z" fill="#ff1010"/>
<path d="M314.55 297.54L318.43 303.9h-7.75z" fill="#ff1010"/>
<path d="M293.56 304.27L297.44 310.63h-7.75z" fill="#ff1010"/>
<path d="M320.26 314.69L324.13 321.04h-7.75z" fill="#ff1010"/>
<path d="M304.51 322.11L308.38 328.47h-7.75z" fill="#ff1010"/>
<path d="M310.49 308.68L314.36 315.03h-7.75z" fill="#ff1010"/>
<path d="M325.16 327.44L329.03 333.8h-7.75z" fill="#ff1010"/>
<path d="M301.5 321.59L305.37 327.94h-7.75z" fill="#ff1010"/>
<path d="M313.58 335.72L317.46 342.08h-7.75z" fill="#ff1010"/>
<path d="M322.37 308.12L326.24 314.48h-7.75z" fill="#ff1010"/>
<path d="M308.98 330.18L312.85 336.53h-7.75z" fill="#ff1010"/>
<path d="M297.54 317.57L301.41 323.93h-7.75z" fill="#ff1010"/>
<path d="M323.88 321.52L327.75 327.88h-7.75z" fill="#ff1010"/>
<path d="M320.9 322.53L324.77 328.88h-7.75z" fill="#ff1010"/>
<path d="M315.94 316.03L319.81 322.39h-7.75z" fill="#ff1010"/>
<path d="M327.12 338.99L330.99 345.35h-7.75z" fill="#ff1010"/>
<path d="M311.39 325.81L315.26 332.16h-7.75z" fill="#ff1010"/>
<path d="M314.77 358.98L318.65 365.33h-7.75z" fill="#ff1010"/>
<path d="M338.12 363.45L342 369.8h-7.75z" fill="#ff1010"/>
<path d="M299.6 232.09h6.2L303.16 235.5L305.8 238.91h-6.2L302.24 235.5z" fill="none" stroke="#33dd33" stroke-width="0.9"/>
<path d="M294.9 286.59h6.2L298.46 290L301.1 293.41h-6.2L297.54 290z" fill="none" stroke="#33dd33" stroke-width="0.9"/>
<path d="M301.9 289.59h6.2L305.46 293L308.1 296.41h-6.2L304.54 293z" fill="none" stroke="#33dd33" stroke-width="0.9"/>
<path d="M305.9 284.59h6.2L309.46 288L312.1 291.41h-6.2L308.54 288z" fill="none" stroke="#33dd33" stroke-width="0.9"/>
<path d="M213.19 374.9v6.2L216.6 378.46L220.01 381.1v-6.2L216.6 377.54z" fill="none" stroke="#33dd33" stroke-width="0.9"/>
<path d="M250.79 347.5v6.2L254.2 351.06L257.61 353.7v-6.2L254.2 350.14z" fill="none" stroke="#33dd33" stroke-width="0.9"/>
<path d="M252.19 364.9v6.2L255.6 368.46L259.01 371.1v-6.2L255.6 367.54z" fill="none" stroke="#33dd33" stroke-width="0.9"/>
<path d="M251.09 346v6.2L254.5 349.56L257.91 352.2v-6.2L254.5 348.64z" fill="none" stroke="#33dd33" stroke-width="0.9"/>
<path d="M258.39 348.7v6.2L261.8 352.26L265.21 354.9v-6.2L261.8 351.34z" fill="none" stroke="#33dd33" stroke-width="0.9"/>
<path d="M252.09 366v6.2L255.5 369.56L258.91 372.2v-6.2L255.5 368.64z" fill="none" stroke="#33dd33" stroke-width="0.9"/>
<path d="M246.59 367.8v6.2L250 371.36L253.41 374v-6.2L250 370.44z" fill="none" stroke="#33dd33" stroke-width="0.9"/>
<path d="M271.09 341.4v6.2L274.5 344.96L277.91 347.6v-6.2L274.5 344.04z" fill="none" stroke="#33dd33" stroke-width="0.9"/>
<path d="M274.79 335.1v6.2L278.2 338.66L281.61 341.3v-6.2L278.2 337.74z" fill="none" stroke="#33dd33" stroke-width="0.9"/>
<path d="M279.29 338.7v6.2L282.7 342.26L286.11 344.9v-6.2L282.7 341.34z" fill="none" stroke="#33dd33" stroke-width="0.9"/>
<path d="M282.69 336.7v6.2L286.1 340.26L289.51 342.9v-6.2L286.1 339.34z" fill="none" stroke="#33dd33" stroke-width="0.9"/>
<path d="M303.39 348.7v6.2L306.8 352.26L310.21 354.9v-6.2L306.8 351.34z" fill="none" stroke="#33dd33" stroke-width="0.9"/>
<path d="M298.59 250.5v6.2L302 254.06L305.41 256.7v-6.2L302 253.13z" fill="none" stroke="#33dd33" stroke-width="0.9"/>
<path d="M297.99 268.7v6.2L301.4 272.26L304.81 274.9v-6.2L301.4 271.34z" fill="none" stroke="#33dd33" stroke-width="0.9"/>
<path d="M307.99 275.5v6.2L311.4 279.06L314.81 281.7v-6.2L311.4 278.14z" fill="none" stroke="#33dd33" stroke-width="0.9"/>
<path d="M258.59 341.9v6.2L262 345.46L265.41 348.1v-6.2L262 344.54z" fill="none" stroke="#33dd33" stroke-width="0.9"/>
<path d="M281.02 330.54v6.2L284.43 334.11L287.84 336.74v-6.2L284.43 333.18z" fill="none" stroke="#33dd33" stroke-width="0.9"/>
<path d="M291.78 338.34v6.2L295.19 341.9L298.6 344.54v-6.2L295.19 340.97z" fill="none" stroke="#33dd33" stroke-width="0.9"/>
<path d="M291.08 339.2v6.2L294.49 342.76L297.9 345.4v-6.2L294.49 341.83z" fill="none" stroke="#33dd33" stroke-width="0.9"/>
<path d="M279.64 324.12v6.2L283.05 327.69L286.46 330.32v-6.2L283.05 326.76z" fill="none" stroke="#33dd33" stroke-width="0.9"/>
<path d="M215 357.8L219.5 355.17L224 357.8L219.5 360.44z" fill="#1a86dd"/>
<path d="M212.1 363.6L216.6 360.97L221.09 363.6L216.6 366.24z" fill="#1a86dd"/>
<path d="M242.41 360.7L246.9 358.06L251.4 360.7L246.9 363.33z" fill="#1a86dd"/>
<path d="M246.81 362.2L251.3 359.56L255.8 362.2L251.3 364.83z" fill="#1a86dd"/>
<path d="M249.7 355L254.2 352.37L258.69 355L254.2 357.63z" fill="#1a86dd"/>
<path d="M239.1 360.9L243.6 358.26L248.09 360.9L243.6 363.53z" fill="#1a86dd"/>
<path d="M242.31 361.8L246.8 359.17L251.3 361.8L246.8 364.44z" fill="#1a86dd"/>
<path d="M248.2 363.6L252.7 360.97L257.19 363.6L252.7 366.24z" fill="#1a86dd"/>
<path d="M264.61 360.9L269.1 358.26L273.6 360.9L269.1 363.53z" fill="#1a86dd"/>
<path d="M268.2 364.5L272.7 361.87L277.19 364.5L272.7 367.13z" fill="#1a86dd"/>
<path d="M262.81 348.2L267.3 345.56L271.8 348.2L267.3 350.83z" fill="#1a86dd"/>
<path d="M243.7 354.5L248.2 351.87L252.69 354.5L248.2 357.13z" fill="#1a86dd"/>
<path d="M291.4 340.9L295.9 338.26L300.39 340.9L295.9 343.53z" fill="#1a86dd"/>
<path d="M282.7 355.1L287.2 352.47L291.69 355.1L287.2 357.74z" fill="#1a86dd"/>
<path d="M317 312.7L321.5 310.06L326 312.7L321.5 315.33z" fill="#1a86dd"/>
<path d="M321.31 318.2L325.8 315.56L330.3 318.2L325.8 320.83z" fill="#1a86dd"/>
<path d="M314.81 325.8L319.3 323.17L323.8 325.8L319.3 328.44z" fill="#1a86dd"/>
<path d="M257.5 358L262 355.37L266.5 358L262 360.63z" fill="#1a86dd"/>
<path d="M253.5 365L258 362.37L262.5 365L258 367.63z" fill="#1a86dd"/>
<path d="M286.51 326.95L291 324.31L295.5 326.95L291 329.58z" fill="#1a86dd"/>
<path d="M270.5 341.88L275 339.24L279.49 341.88L275 344.51z" fill="#1a86dd"/>
<path d="M274.82 342.44L279.31 339.8L283.81 342.44L279.31 345.07z" fill="#1a86dd"/>
<path d="M250.49 365.93L254.98 363.3L259.48 365.93L254.98 368.57z" fill="#1a86dd"/>
<path d="M258.95 355.54L263.44 352.9L267.94 355.54L263.44 358.17z" fill="#1a86dd"/>
<path d="M267.67 365.8L272.17 363.16L276.66 365.8L272.17 368.43z" fill="#1a86dd"/>
<path d="M261.49 366.11L265.98 363.47L270.48 366.11L265.98 368.74z" fill="#1a86dd"/>
<path d="M264.57 357.23L269.06 354.6L273.56 357.23L269.06 359.87z" fill="#1a86dd"/>
<path d="M262.23 349.21L266.72 346.58L271.22 349.21L266.72 351.85z" fill="#1a86dd"/>
<path d="M315.5 313.6L320 310.97L324.5 313.6L320 316.24z" fill="#1a86dd"/>
<path d="M319.11 317.3L323.6 314.67L328.1 317.3L323.6 319.94z" fill="#1a86dd"/>
<path d="M316.5 326.4L321 323.76L325.5 326.4L321 329.03z" fill="#1a86dd"/>
<path d="M291 341L295.5 338.37L300 341L295.5 343.63z" fill="#1a86dd"/>
<path d="M253.6 347.77L255.83 351.8L253.6 355.83L251.37 351.8z" fill="#1a86dd"/>
<path d="M260.9 354.17L263.13 358.2L260.9 362.23L258.67 358.2z" fill="#1a86dd"/>
<path d="M270.9 361.47L273.13 365.5L270.9 369.53L268.67 365.5z" fill="#1a86dd"/>
<path d="M292 345.97L294.23 350L292 354.03L289.77 350z" fill="#1a86dd"/>
<path d="M250.17 349.21h8.06L254.2 355.56z" fill="#1a86dd"/>
<path d="M267.37 363.61h8.06L271.4 369.96z" fill="#1a86dd"/>
<path d="M319.97 307.21h8.06L324 313.56z" fill="#1a86dd"/>
<path d="M272.97 361.21h8.06L277 367.56z" fill="#1a86dd"/>
<polygon points="276.4,350.35 279.5,352.59 278.31,356.23 274.49,356.23 273.3,352.59" fill="#9a3210"/>
<polygon points="277.3,354.94 280.4,357.19 279.21,360.83 275.39,360.83 274.2,357.19" fill="#9a3210"/>
<polygon points="282.3,353.14 285.4,355.39 284.21,359.03 280.39,359.03 279.2,355.39" fill="#9a3210"/>
<polygon points="289.1,344.94 292.2,347.19 291.01,350.83 287.19,350.83 286,347.19" fill="#9a3210"/>
<polygon points="298.6,274.94 301.7,277.19 300.51,280.83 296.69,280.83 295.5,277.19" fill="#9a3210"/>
<polygon points="304.5,273.55 307.6,275.79 306.41,279.43 302.59,279.43 301.4,275.79" fill="#9a3210"/>
<polygon points="238,347.35 240.82,348.97 240.82,352.23 238,353.86 235.18,352.23 235.18,348.97" fill="#9a3210"/>
<polygon points="218.7,356.75 221.52,358.37 221.52,361.63 218.7,363.25 215.88,361.63 215.88,358.37" fill="#9a3210"/>
<polygon points="226,375.55 228.82,377.17 228.82,380.43 226,382.06 223.18,380.43 223.18,377.17" fill="#9a3210"/>
<polygon points="262.8,366.14 265.62,367.77 265.62,371.03 262.8,372.65 259.98,371.03 259.98,367.77" fill="#9a3210"/>
<polygon points="262.3,365.85 265.12,367.47 265.12,370.73 262.3,372.36 259.48,370.73 259.48,367.47" fill="#9a3210"/>
<polygon points="289.1,370.35 291.92,371.97 291.92,375.23 289.1,376.86 286.28,375.23 286.28,371.97" fill="#9a3210"/>
<polygon points="300.8,336.05 303.62,337.67 303.62,340.93 300.8,342.56 297.98,340.93 297.98,337.67" fill="#9a3210"/>
<polygon points="290.5,344.75 293.32,346.37 293.32,349.63 290.5,351.25 287.68,349.63 287.68,346.37" fill="#9a3210"/>
<polygon points="303.5,348.55 306.32,350.17 306.32,353.43 303.5,355.06 300.68,353.43 300.68,350.17" fill="#9a3210"/>
<polygon points="293.7,364.35 296.52,365.97 296.52,369.23 293.7,370.86 290.88,369.23 290.88,365.97" fill="#9a3210"/>
<polygon points="289.9,370.35 292.72,371.97 292.72,375.23 289.9,376.86 287.08,375.23 287.08,371.97" fill="#9a3210"/>
<polygon points="306.3,375.85 309.12,377.47 309.12,380.73 306.3,382.36 303.48,380.73 303.48,377.47" fill="#9a3210"/>
<polygon points="312.8,375.85 315.62,377.47 315.62,380.73 312.8,382.36 309.98,380.73 309.98,377.47" fill="#9a3210"/>
<polygon points="299.2,327.85 302.02,329.47 302.02,332.73 299.2,334.36 296.38,332.73 296.38,329.47" fill="#9a3210"/>
<polygon points="288.7,300.75 291.52,302.37 291.52,305.63 288.7,307.25 285.88,305.63 285.88,302.37" fill="#9a3210"/>
<polygon points="308.4,320.35 311.22,321.97 311.22,325.23 308.4,326.86 305.58,325.23 305.58,321.97" fill="#9a3210"/>
<polygon points="301.8,324.75 304.62,326.37 304.62,329.63 301.8,331.25 298.98,329.63 298.98,326.37" fill="#9a3210"/>
<polygon points="296.4,326.94 299.22,328.57 299.22,331.83 296.4,333.45 293.58,331.83 293.58,328.57" fill="#9a3210"/>
<polygon points="310,253.55 312.82,255.17 312.82,258.43 310,260.06 307.18,258.43 307.18,255.17" fill="#9a3210"/>
<polygon points="305.9,255.35 308.72,256.97 308.72,260.23 305.9,261.86 303.08,260.23 303.08,256.97" fill="#9a3210"/>
<polygon points="305,259.05 307.82,260.67 307.82,263.93 305,265.56 302.18,263.93 302.18,260.67" fill="#9a3210"/>
<polygon points="306.8,262.64 309.62,264.27 309.62,267.53 306.8,269.15 303.98,267.53 303.98,264.27" fill="#9a3210"/>
<polygon points="309.5,261.25 312.32,262.87 312.32,266.13 309.5,267.75 306.68,266.13 306.68,262.87" fill="#9a3210"/>
<polygon points="310.9,256.25 313.72,257.87 313.72,261.13 310.9,262.75 308.08,261.13 308.08,257.87" fill="#9a3210"/>
<polygon points="305.9,275.85 308.72,277.47 308.72,280.73 305.9,282.36 303.08,280.73 303.08,277.47" fill="#9a3210"/>
<polygon points="228.5,373.25 231.32,374.87 231.32,378.13 228.5,379.75 225.68,378.13 225.68,374.87" fill="#9a3210"/>
<polygon points="288.42,364.88 291.24,366.51 291.24,369.77 288.42,371.39 285.6,369.77 285.6,366.51" fill="#9a3210"/>
<polygon points="293.6,337.7 296.42,339.32 296.42,342.58 293.6,344.21 290.78,342.58 290.78,339.32" fill="#9a3210"/>
<polygon points="284.03,337.04 286.85,338.66 286.85,341.92 284.03,343.55 281.21,341.92 281.21,338.66" fill="#9a3210"/>
<polygon points="296.48,359.97 299.3,361.6 299.3,364.86 296.48,366.48 293.66,364.86 293.66,361.6" fill="#9a3210"/>
<polygon points="311,321.25 313.82,322.87 313.82,326.13 311,327.75 308.18,326.13 308.18,322.87" fill="#9a3210"/>
<polygon points="306.4,324.94 309.22,326.57 309.22,329.83 306.4,331.45 303.58,329.83 303.58,326.57" fill="#9a3210"/>
<polygon points="300,326.75 302.82,328.37 302.82,331.63 300,333.25 297.18,331.63 297.18,328.37" fill="#9a3210"/>
<polygon points="301,335.75 303.82,337.37 303.82,340.63 301,342.25 298.18,340.63 298.18,337.37" fill="#9a3210"/>
<polygon points="309,317.75 311.82,319.37 311.82,322.63 309,324.25 306.18,322.63 306.18,319.37" fill="#9a3210"/>
<polygon points="216.6,354.7 217.54,357.26 219.28,359.35 216.6,358.88 213.92,359.35 215.66,357.26" fill="#8a3cf0"/>
<polygon points="249.1,351.9 250.04,354.46 251.78,356.55 249.1,356.08 246.42,356.55 248.16,354.46" fill="#8a3cf0"/>
<polygon points="263.2,346.4 264.14,348.96 265.88,351.05 263.2,350.58 260.52,351.05 262.26,348.96" fill="#8a3cf0"/>
<polygon points="280,327.8 280.94,330.36 282.68,332.45 280,331.98 277.32,332.45 279.06,330.36" fill="#8a3cf0"/>
<polygon points="310.5,281 311.44,283.56 313.18,285.65 310.5,285.19 307.82,285.65 309.56,283.56" fill="#8a3cf0"/>
<polygon points="286.5,306.4 287.44,308.96 289.18,311.05 286.5,310.58 283.82,311.05 285.56,308.96" fill="#8a3cf0"/>
<polygon points="233.89,373.01 233,375.2 233.89,377.39 231.7,376.5 229.51,377.39 230.4,375.2 229.51,373.01 231.7,373.9" fill="#8a3cf0"/>
<polygon points="267.19,356.91 266.3,359.1 267.19,361.29 265,360.4 262.81,361.29 263.7,359.1 262.81,356.91 265,357.8" fill="#8a3cf0"/>
<polygon points="282.19,347.31 281.3,349.5 282.19,351.69 280,350.8 277.81,351.69 278.7,349.5 277.81,347.31 280,348.2" fill="#8a3cf0"/>
<polygon points="285.79,358.71 284.9,360.9 285.79,363.09 283.6,362.2 281.41,363.09 282.3,360.9 281.41,358.71 283.6,359.6" fill="#8a3cf0"/>
<polygon points="287.69,346.01 286.8,348.2 287.69,350.39 285.5,349.5 283.31,350.39 284.2,348.2 283.31,346.01 285.5,346.9" fill="#8a3cf0"/>
<polygon points="296.99,360.01 296.1,362.2 296.99,364.39 294.8,363.5 292.61,364.39 293.5,362.2 292.61,360.01 294.8,360.9" fill="#8a3cf0"/>
<polygon points="322.09,366.51 321.2,368.7 322.09,370.89 319.9,370 317.71,370.89 318.6,368.7 317.71,366.51 319.9,367.4" fill="#8a3cf0"/>
<polygon points="316.09,348.51 315.2,350.7 316.09,352.89 313.9,352 311.71,352.89 312.6,350.7 311.71,348.51 313.9,349.4" fill="#8a3cf0"/>
<polygon points="316.69,336.01 315.8,338.2 316.69,340.39 314.5,339.5 312.31,340.39 313.2,338.2 312.31,336.01 314.5,336.9" fill="#8a3cf0"/>
<polygon points="312.29,332.21 311.4,334.4 312.29,336.59 310.1,335.7 307.91,336.59 308.8,334.4 307.91,332.21 310.1,333.1" fill="#8a3cf0"/>
<polygon points="308.99,333.31 308.1,335.5 308.99,337.69 306.8,336.8 304.61,337.69 305.5,335.5 304.61,333.31 306.8,334.2" fill="#8a3cf0"/>
<polygon points="303.59,345.81 302.7,348 303.59,350.19 301.4,349.3 299.21,350.19 300.1,348 299.21,345.81 301.4,346.7" fill="#8a3cf0"/>
<polygon points="322.09,328.91 321.2,331.1 322.09,333.29 319.9,332.4 317.71,333.29 318.6,331.1 317.71,328.91 319.9,329.8" fill="#8a3cf0"/>
<polygon points="318.19,312.71 317.3,314.9 318.19,317.09 316,316.2 313.81,317.09 314.7,314.9 313.81,312.71 316,313.6" fill="#8a3cf0"/>
<polygon points="290.89,314.91 290,317.1 290.89,319.29 288.7,318.4 286.51,319.29 287.4,317.1 286.51,314.91 288.7,315.8" fill="#8a3cf0"/>
<polygon points="319.29,328.01 318.4,330.2 319.29,332.39 317.1,331.5 314.91,332.39 315.8,330.2 314.91,328.01 317.1,328.9" fill="#8a3cf0"/>
<polygon points="295.72,324.82 294.83,327.01 295.72,329.21 293.53,328.32 291.34,329.21 292.23,327.01 291.34,324.82 293.53,325.71" fill="#8a3cf0"/>
<polygon points="290.48,340.19 289.59,342.38 290.48,344.57 288.28,343.68 286.09,344.57 286.98,342.38 286.09,340.19 288.28,341.08" fill="#8a3cf0"/>
<polygon points="297.67,339.36 296.78,341.55 297.67,343.74 295.47,342.85 293.28,343.74 294.17,341.55 293.28,339.36 295.47,340.25" fill="#8a3cf0"/>
<polygon points="301.14,356.74 300.25,358.93 301.14,361.12 298.95,360.23 296.75,361.12 297.64,358.93 296.75,356.74 298.95,357.63" fill="#8a3cf0"/>
<polygon points="306.65,347.01 305.76,349.2 306.65,351.4 304.46,350.51 302.27,351.4 303.16,349.2 302.27,347.01 304.46,347.9" fill="#8a3cf0"/>
<polygon points="319.5,335.19 318.61,337.39 319.5,339.58 317.31,338.69 315.11,339.58 316,337.39 315.11,335.19 317.31,336.08" fill="#8a3cf0"/>
<polygon points="303.99,338.06 303.1,340.25 303.99,342.45 301.8,341.56 299.61,342.45 300.5,340.25 299.61,338.06 301.8,338.95" fill="#8a3cf0"/>
<polygon points="303.69,348.33 302.8,350.53 303.69,352.72 301.49,351.83 299.3,352.72 300.19,350.53 299.3,348.33 301.49,349.22" fill="#8a3cf0"/>
<polygon points="304.19,342.47 303.3,344.67 304.19,346.86 302,345.97 299.81,346.86 300.7,344.67 299.81,342.47 302,343.36" fill="#8a3cf0"/>
<polygon points="316.69,309.61 315.8,311.8 316.69,313.99 314.5,313.1 312.31,313.99 313.2,311.8 312.31,309.61 314.5,310.5" fill="#8a3cf0"/>
<polygon points="317.69,314.21 316.8,316.4 317.69,318.59 315.5,317.7 313.31,318.59 314.2,316.4 313.31,314.21 315.5,315.1" fill="#8a3cf0"/>
<polygon points="309.49,332.31 308.6,334.5 309.49,336.69 307.3,335.8 305.11,336.69 306,334.5 305.11,332.31 307.3,333.2" fill="#8a3cf0"/>
<polygon points="313.99,336.01 313.1,338.2 313.99,340.39 311.8,339.5 309.61,340.39 310.5,338.2 309.61,336.01 311.8,336.9" fill="#8a3cf0"/>
<polygon points="320.39,326.01 319.5,328.2 320.39,330.39 318.2,329.5 316.01,330.39 316.9,328.2 316.01,326.01 318.2,326.9" fill="#8a3cf0"/>
</g>
<text x="293.3" y="213.6" font-family='"Liberation Sans",sans-serif' font-size="8.8" font-weight="bold" fill="#111" stroke="#111" stroke-width="0.3">Ce</text>
<text x="292.9" y="230.5" font-family='"Liberation Sans",sans-serif' font-size="8.8" font-weight="bold" fill="#111" stroke="#111" stroke-width="0.3">H</text>
<text x="296.8" y="230.5" font-family='"Liberation Sans",sans-serif' font-size="8.8" font-weight="bold" fill="#111" stroke="#111" stroke-width="0.3">Mo</text>
<text x="280" y="238.7" font-family='"Liberation Sans",sans-serif' font-size="8.8" font-weight="bold" fill="#111" stroke="#111" stroke-width="0.3">Ti</text>
<text x="289.1" y="242" font-family='"Liberation Sans",sans-serif' font-size="8.8" font-weight="bold" fill="#111" stroke="#111" stroke-width="0.3">Ti</text>
<text x="284" y="253" font-family='"Liberation Sans",sans-serif' font-size="8.8" font-weight="bold" fill="#111" stroke="#111" stroke-width="0.3">Zr</text>
<text x="299.8" y="252.1" font-family='"Liberation Sans",sans-serif' font-size="8.8" font-weight="bold" fill="#111" stroke="#111" stroke-width="0.3">W</text>
<text x="294.5" y="263" font-family='"Liberation Sans",sans-serif' font-size="8.8" font-weight="bold" fill="#111" stroke="#111" stroke-width="0.3">H</text>
<text x="296" y="263.4" font-family='"Liberation Sans",sans-serif' font-size="8.8" font-weight="bold" fill="#111" stroke="#111" stroke-width="0.3">W</text>
<text x="288.6" y="274.5" font-family='"Liberation Sans",sans-serif' font-size="8.8" font-weight="bold" fill="#111" stroke="#111" stroke-width="0.3">Mo</text>
<text x="286.8" y="283.4" font-family='"Liberation Sans",sans-serif' font-size="8.8" font-weight="bold" fill="#111" stroke="#111" stroke-width="0.3">Zr</text>
<text x="302.6" y="285" font-family='"Liberation Sans",sans-serif' font-size="8.8" font-weight="bold" fill="#111" stroke="#111" stroke-width="0.3">Ti</text>
<text x="300.7" y="292.5" font-family='"Liberation Sans",sans-serif' font-size="8.8" font-weight="bold" fill="#111" stroke="#111" stroke-width="0.3">Zr</text>
<text x="306.6" y="292.8" font-family='"Liberation Sans",sans-serif' font-size="8.8" font-weight="bold" fill="#111" stroke="#111" stroke-width="0.3">Ti</text>
<text x="284.4" y="297.5" font-family='"Liberation Sans",sans-serif' font-size="8.8" font-weight="bold" fill="#111" stroke="#111" stroke-width="0.3">Sn</text>
<text x="307.3" y="297.6" font-family='"Liberation Sans",sans-serif' font-size="8.8" font-weight="bold" fill="#111" stroke="#111" stroke-width="0.3">H</text>
<text x="290.9" y="305.1" font-family='"Liberation Sans",sans-serif' font-size="8.8" font-weight="bold" fill="#111" stroke="#111" stroke-width="0.3">Zr</text>
<text x="299.5" y="305.1" font-family='"Liberation Sans",sans-serif' font-size="8.8" font-weight="bold" fill="#111" stroke="#111" stroke-width="0.3">W</text>
<text x="312.7" y="307.8" font-family='"Liberation Sans",sans-serif' font-size="8.8" font-weight="bold" fill="#111" stroke="#111" stroke-width="0.3">Ti</text>
<text x="289.8" y="312.2" font-family='"Liberation Sans",sans-serif' font-size="8.8" font-weight="bold" fill="#111" stroke="#111" stroke-width="0.3">Ti</text>
<text x="297.2" y="312.2" font-family='"Liberation Sans",sans-serif' font-size="8.8" font-weight="bold" fill="#111" stroke="#111" stroke-width="0.3">Sn</text>
<text x="300.7" y="324.2" font-family='"Liberation Sans",sans-serif' font-size="8.8" font-weight="bold" fill="#111" stroke="#111" stroke-width="0.3">Mo</text>
<text x="314.9" y="322" font-family='"Liberation Sans",sans-serif' font-size="8.8" font-weight="bold" fill="#111" stroke="#111" stroke-width="0.3">Ti</text>
<text x="286.5" y="330.7" font-family='"Liberation Sans",sans-serif' font-size="8.8" font-weight="bold" fill="#111" stroke="#111" stroke-width="0.3">Mo</text>
<text transform="translate(173.0,208.3) rotate(90)" font-family='"Liberation Sans",sans-serif' font-size="8.2" fill="#333" stroke="#333" stroke-width="0.26">1 S/cm</text>
<text transform="translate(244.0,208.0) rotate(90)" font-family='"Liberation Sans",sans-serif' font-size="7.9" fill="#333" stroke="#333" stroke-width="0.25">100 S/cm</text>
<text transform="translate(315.3,209.3) rotate(84)" font-family='"Liberation Sans",sans-serif' font-size="10" fill="#333" textLength="31.3" lengthAdjust="spacingAndGlyphs" stroke="#333" stroke-width="0.32">10<tspan font-size="6" dy="-4.2" dx="1.2">4</tspan><tspan dy="4.2"> S/cm</tspan></text>
<path d="M161.4 380.2h3M161.4 368.5h2M161.4 356.8h2M161.4 345.1h2M161.4 333.4h2M161.4 321.7h3M161.4 310h2M161.4 298.3h2M161.4 286.6h2M161.4 274.9h2M161.4 263.2h3M161.4 251.5h2M161.4 239.8h2M161.4 228.1h2M161.4 216.4h2M161.4 204.7h3M180.4 385.4v-3M216.4 385.4v-3M252.4 385.4v-3M288.4 385.4v-3M324.4 385.4v-3" stroke="#333" stroke-width="1"/>
<rect x="161.4" y="200.4" width="185" height="185" fill="none" stroke="#333" stroke-width="1.5"/>
<text x="158.4" y="383.6" font-family='"Liberation Sans",sans-serif' font-size="9.6" text-anchor="end" fill="#222" stroke="#222" stroke-width="0.31">0</text>
<text x="158.4" y="325.1" font-family='"Liberation Sans",sans-serif' font-size="9.6" text-anchor="end" fill="#222" stroke="#222" stroke-width="0.31">50</text>
<text x="158.4" y="266.6" font-family='"Liberation Sans",sans-serif' font-size="9.6" text-anchor="end" fill="#222" stroke="#222" stroke-width="0.31">100</text>
<text x="181.4" y="404.2" font-family='"Liberation Sans",sans-serif' font-size="10.2" text-anchor="middle" fill="#222" stroke="#222" stroke-width="0.32">10<tspan font-size="6.8" dy="-6.5">17</tspan></text>
<text x="217.4" y="404.2" font-family='"Liberation Sans",sans-serif' font-size="10.2" text-anchor="middle" fill="#222" stroke="#222" stroke-width="0.32">10<tspan font-size="6.8" dy="-6.5">18</tspan></text>
<text x="253.4" y="404.2" font-family='"Liberation Sans",sans-serif' font-size="10.2" text-anchor="middle" fill="#222" stroke="#222" stroke-width="0.32">10<tspan font-size="6.8" dy="-6.5">19</tspan></text>
<text x="289.4" y="404.2" font-family='"Liberation Sans",sans-serif' font-size="10.2" text-anchor="middle" fill="#222" stroke="#222" stroke-width="0.32">10<tspan font-size="6.8" dy="-6.5">20</tspan></text>
<text x="325.4" y="404.2" font-family='"Liberation Sans",sans-serif' font-size="10.2" text-anchor="middle" fill="#222" stroke="#222" stroke-width="0.32">10<tspan font-size="6.8" dy="-6.5">21</tspan></text>
<text x="183.3" y="419.6" font-family='"Liberation Sans",sans-serif' font-size="10.4" fill="#222" stroke="#222" stroke-width="0.32">carrier concentration n<tspan font-size="6.8" dy="2">H</tspan><tspan dy="-2"> [1/cm</tspan><tspan font-size="6.8" dy="-4">3</tspan><tspan dy="4">]</tspan></text>
<text transform="translate(137.6,293.3) rotate(-90)" font-family='"Liberation Sans",sans-serif' font-size="10.4" text-anchor="middle" fill="#222" stroke="#222" stroke-width="0.32">mobility &#956;<tspan font-size="6.8" dy="2">H</tspan><tspan dy="-2"> [cm</tspan><tspan font-size="6.8" dy="-4">2</tspan><tspan dy="4">/Vs]</tspan></text>
<text transform="translate(349.4,213.1) scale(0.91,1)" font-family='"Liberation Sans",sans-serif' font-size="10" fill="#222" stroke="#222" stroke-width="0.32">single crystalline</text>
<rect x="356" y="216.4" width="6.2" height="6.2" fill="none" stroke="#9a9a9a" stroke-width="1"/>
<text transform="translate(371.6,223.1) scale(0.91,1)" font-family='"Liberation Sans",sans-serif' font-size="10" fill="#222" stroke="#222" stroke-width="0.32">films</text>
<path d="M355.54 227.52h7.13l-3.56 6.2z" fill="none" stroke="#9a9a9a" stroke-width="1"/>
<text transform="translate(371.6,233.6) scale(0.91,1)" font-family='"Liberation Sans",sans-serif' font-size="10" fill="#222" stroke="#222" stroke-width="0.32">crystals</text>
<text transform="translate(349.4,243.6) scale(0.91,1)" font-family='"Liberation Sans",sans-serif' font-size="10" fill="#222" stroke="#222" stroke-width="0.32">polycrystalline</text>
<text x="359.2" y="254" font-family='"Liberation Sans",sans-serif' font-size="9.5" font-weight="bold" text-anchor="middle" fill="#111" stroke="#111" stroke-width="0.3">T</text>
<text transform="translate(371.6,254.1) scale(0.91,1)" font-family='"Liberation Sans",sans-serif' font-size="10" fill="#222" stroke="#222" stroke-width="0.32">diverse</text>
<circle cx="359.1" cy="260.8" r="3.1" fill="none" stroke="#ff1010" stroke-width="1"/>
<text transform="translate(371.6,264.4) scale(0.91,1)" font-family='"Liberation Sans",sans-serif' font-size="10" fill="#222" stroke="#222" stroke-width="0.32">undoped</text>
<path d="M359.1 266.91L360.4 269.7L363.19 271L360.4 272.3L359.1 275.09L357.8 272.3L355.01 271L357.8 269.7z" fill="#22cccc"/>
<text transform="translate(371.6,274.6) scale(0.91,1)" font-family='"Liberation Sans",sans-serif' font-size="10" fill="#222" stroke="#222" stroke-width="0.32">H2O</text>
<path d="M356 277.99h6.2L359.88 281.4L362.2 284.81h-6.2L358.33 281.4z" fill="#ff1010"/>
<text transform="translate(371.6,285) scale(0.91,1)" font-family='"Liberation Sans",sans-serif' font-size="10" fill="#222" stroke="#222" stroke-width="0.32">0.5% Sn</text>
<path d="M355.69 288.6v6.2L359.1 292.47L362.51 294.8v-6.2L359.1 290.93z" fill="#ff1010"/>
<text transform="translate(371.6,295.3) scale(0.91,1)" font-family='"Liberation Sans",sans-serif' font-size="10" fill="#222" stroke="#222" stroke-width="0.32">2% Sn</text>
<path d="M359.1 298.75L362.82 304.79h-7.44z" fill="none" stroke="#ff1010" stroke-width="1"/>
<text transform="translate(371.6,305.6) scale(0.91,1)" font-family='"Liberation Sans",sans-serif' font-size="10" fill="#222" stroke="#222" stroke-width="0.32">10% Sn</text>
<path d="M359.1 309.09L362.98 315.44h-7.75z" fill="#ff1010"/>
<text transform="translate(371.6,316.1) scale(0.91,1)" font-family='"Liberation Sans",sans-serif' font-size="10" fill="#222" stroke="#222" stroke-width="0.32">10% Sn + H</text>
<path d="M356 319.29h6.2L359.56 322.7L362.2 326.11h-6.2L358.64 322.7z" fill="none" stroke="#33dd33" stroke-width="0.9"/>
<text transform="translate(371.6,326.3) scale(0.91,1)" font-family='"Liberation Sans",sans-serif' font-size="10" fill="#222" stroke="#222" stroke-width="0.32">1% Zr</text>
<path d="M355.69 329.9v6.2L359.1 333.46L362.51 336.1v-6.2L359.1 332.54z" fill="none" stroke="#33dd33" stroke-width="0.9"/>
<text transform="translate(371.6,336.6) scale(0.91,1)" font-family='"Liberation Sans",sans-serif' font-size="10" fill="#222" stroke="#222" stroke-width="0.32">2% Zr</text>
<path d="M354.61 343.6L359.1 340.97L363.6 343.6L359.1 346.24z" fill="#1a86dd"/>
<text transform="translate(371.6,347.2) scale(0.91,1)" font-family='"Liberation Sans",sans-serif' font-size="10" fill="#222" stroke="#222" stroke-width="0.32">2% Ge</text>
<path d="M359.1 349.97L361.33 354L359.1 358.03L356.87 354z" fill="#1a86dd"/>
<text transform="translate(371.6,357.6) scale(0.91,1)" font-family='"Liberation Sans",sans-serif' font-size="10" fill="#222" stroke="#222" stroke-width="0.32">4% Ge</text>
<path d="M355.07 361.41h8.06L359.1 367.76z" fill="#1a86dd"/>
<text transform="translate(371.6,367.8) scale(0.91,1)" font-family='"Liberation Sans",sans-serif' font-size="10" fill="#222" stroke="#222" stroke-width="0.32">6% Ge</text>
<polygon points="359.1,371.35 362.2,373.59 361.01,377.23 357.19,377.23 356,373.59" fill="#9a3210"/>
<text transform="translate(371.6,378.2) scale(0.91,1)" font-family='"Liberation Sans",sans-serif' font-size="10" fill="#222" stroke="#222" stroke-width="0.32">2% Ti</text>
<polygon points="359.1,381.55 361.92,383.17 361.92,386.43 359.1,388.06 356.28,386.43 356.28,383.17" fill="#9a3210"/>
<text transform="translate(371.6,388.4) scale(0.91,1)" font-family='"Liberation Sans",sans-serif' font-size="10" fill="#222" stroke="#222" stroke-width="0.32">5% Ti</text>
<polygon points="359.1,391.28 360.23,394.35 362.32,396.86 359.1,396.3 355.88,396.86 357.97,394.35" fill="#8a3cf0"/>
<text transform="translate(371.6,398.6) scale(0.91,1)" font-family='"Liberation Sans",sans-serif' font-size="10" fill="#222" stroke="#222" stroke-width="0.32">2% Mo</text>
<polygon points="361.73,402.77 360.66,405.4 361.73,408.03 359.1,406.96 356.47,408.03 357.54,405.4 356.47,402.77 359.1,403.84" fill="#8a3cf0"/>
<text transform="translate(371.6,409) scale(0.91,1)" font-family='"Liberation Sans",sans-serif' font-size="10" fill="#222" stroke="#222" stroke-width="0.32">5% Mo</text>
<defs><linearGradient id="rb" x1="0" x2="1" y1="0" y2="0"><stop offset="0" stop-color="#b48ef2"/><stop offset="0.27" stop-color="#ae92f0"/><stop offset="0.36" stop-color="#9ccfe0"/><stop offset="0.44" stop-color="#9eeab4"/><stop offset="0.53" stop-color="#d6f2a0"/><stop offset="0.62" stop-color="#f8f496"/><stop offset="0.75" stop-color="#fce29a"/><stop offset="0.87" stop-color="#fcc096"/><stop offset="0.95" stop-color="#f89a8c"/><stop offset="1" stop-color="#f68e88"/></linearGradient><clipPath id="c5"><rect x="108.5" y="446.7" width="150" height="147.3"/></clipPath></defs>
<rect x="128.5" y="446.7" width="29.85" height="147.3" fill="url(#rb)"/>
<g clip-path="url(#c5)">
<polyline points="118.25,594 118.41,589.52 118.63,583.39 118.89,576.07 119.17,568.04 119.47,559.75 119.78,551.67 120.07,544.28 120.34,538.03 120.6,532.67 120.85,527.65 121.11,522.98 121.36,518.69 121.61,514.79 121.86,511.3 122.1,508.24 122.33,505.62 122.55,503.56 122.76,502.11 122.95,501.14 123.15,500.56 123.34,500.23 123.55,500.06 123.78,499.93 124.02,499.73 124.29,499.58 124.58,499.66 124.88,499.9 125.19,500.23 125.51,500.59 125.83,500.92 126.17,501.14 126.51,501.2 126.85,501.14 127.17,501.05 127.51,500.9 127.85,500.69 128.21,500.41 128.6,500.04 129.02,499.57 129.5,498.99 130.01,498.27 130.58,497.41 131.17,496.45 131.8,495.4 132.44,494.29 133.11,493.16 133.79,492.01 134.47,490.89 135.16,489.75 135.87,488.57 136.59,487.34 137.33,486.1 138.08,484.86 138.85,483.64 139.64,482.45 140.44,481.32 141.27,480.2 142.13,479.07 143.02,477.94 143.92,476.85 144.82,475.81 145.71,474.84 146.58,473.97 147.41,473.21 148.21,472.57 148.99,472.03 149.76,471.57 150.51,471.19 151.25,470.88 151.98,470.62 152.68,470.42 153.38,470.27 154.04,470.17 154.69,470.14 155.31,470.18 155.92,470.27 156.53,470.4 157.13,470.58 157.73,470.78 158.35,471 158.94,471.27 159.48,471.59 160,471.95 160.53,472.34 161.09,472.75 161.73,473.16 162.47,473.57 163.32,473.95 164.3,474.33 165.35,474.74 166.47,475.15 167.68,475.56 168.96,475.95 170.32,476.32 171.76,476.63 173.27,476.9 174.9,477.1 176.66,477.26 178.51,477.39 180.43,477.48 182.38,477.54 184.35,477.58 186.3,477.61 188.2,477.63 190.09,477.62 192,477.56 193.93,477.46 195.85,477.36 197.75,477.26 199.6,477.18 201.4,477.16 203.12,477.19 204.75,477.24 206.3,477.28 207.78,477.32 209.22,477.4 210.65,477.56 212.08,477.83 213.55,478.24 215.06,478.81 216.62,479.57 218.18,480.49 219.76,481.54 221.35,482.7 222.96,483.94 224.6,485.25 226.28,486.59 228,487.94 229.77,489.36 231.59,490.86 233.45,492.44 235.34,494.07 237.24,495.71 239.15,497.34 241.05,498.93 242.93,500.46 244.89,502.02 247.01,503.65 249.18,505.3 251.32,506.92 253.35,508.44 255.17,509.8 256.7,510.94 257.85,511.81" fill="none" stroke="#7d1f1f" stroke-width="1.1" stroke-dasharray="1.3,1.5"/>
<polyline points="118.25,594 118.41,589.5 118.63,583.32 118.89,575.94 119.17,567.85 119.47,559.53 119.78,551.47 120.07,544.14 120.34,538.03 120.59,532.9 120.84,528.21 121.09,523.94 121.33,520.07 121.57,516.61 121.82,513.55 122.07,510.87 122.33,508.57 122.59,506.79 122.86,505.61 123.12,504.91 123.39,504.56 123.67,504.43 123.95,504.41 124.23,504.35 124.52,504.15 124.81,503.9 125.1,503.77 125.39,503.73 125.68,503.73 125.99,503.74 126.31,503.72 126.65,503.62 127.01,503.41 127.38,503.14 127.75,502.85 128.13,502.54 128.53,502.17 128.96,501.72 129.42,501.18 129.93,500.53 130.49,499.73 131.1,498.78 131.76,497.69 132.46,496.48 133.2,495.17 133.97,493.79 134.77,492.36 135.6,490.89 136.46,489.42 137.36,487.86 138.31,486.15 139.3,484.37 140.32,482.56 141.35,480.78 142.38,479.08 143.41,477.52 144.42,476.16 145.43,474.96 146.46,473.86 147.49,472.87 148.52,471.97 149.54,471.19 150.53,470.52 151.48,469.96 152.38,469.53 153.21,469.25 153.97,469.11 154.68,469.11 155.37,469.21 156.05,469.4 156.76,469.65 157.52,469.95 158.35,470.27 159.26,470.66 160.22,471.17 161.23,471.75 162.27,472.39 163.31,473.03 164.34,473.65 165.35,474.22 166.31,474.69 167.21,475.08 168.05,475.45 168.86,475.77 169.67,476.07 170.49,476.33 171.35,476.55 172.27,476.74 173.27,476.9 174.37,477 175.53,477.03 176.74,477.03 178,476.99 179.29,476.94 180.6,476.9 181.91,476.88 183.22,476.9 184.56,476.9 185.94,476.84 187.34,476.76 188.76,476.71 190.17,476.73 191.55,476.86 192.89,477.15 194.17,477.63 195.38,478.32 196.53,479.19 197.63,480.19 198.71,481.32 199.78,482.53 200.86,483.81 201.97,485.13 203.12,486.47 204.32,487.86 205.54,489.34 206.78,490.9 208.04,492.5 209.3,494.13 210.56,495.78 211.82,497.4 213.07,498.99 214.32,500.57 215.56,502.16 216.81,503.75 218.05,505.34 219.29,506.92 220.54,508.49 221.78,510.02 223.03,511.51 224.27,512.97 225.51,514.39 226.76,515.8 228,517.17 229.24,518.54 230.49,519.88 231.73,521.22 232.97,522.56 234.18,523.88 235.35,525.16 236.49,526.43 237.64,527.7 238.83,528.96 240.09,530.24 241.44,531.54 242.93,532.87 244.65,534.32 246.66,535.9 248.81,537.55 251.01,539.19 253.13,540.74 255.05,542.15 256.66,543.33 257.85,544.21" fill="none" stroke="#9a9a1a" stroke-width="1.1" stroke-dasharray="1.3,1.5"/>
<polyline points="118.25,594 118.41,589.51 118.63,583.36 118.89,576.01 119.17,567.95 119.47,559.64 119.78,551.57 120.07,544.21 120.34,538.03 120.59,532.78 120.83,527.91 121.06,523.43 121.3,519.34 121.54,515.65 121.79,512.38 122.05,509.52 122.33,507.09 122.63,505.25 122.95,504.06 123.28,503.38 123.62,503.06 123.97,502.97 124.32,502.97 124.67,502.92 125.02,502.67 125.35,502.34 125.69,502.1 126.02,501.92 126.35,501.77 126.69,501.63 127.04,501.45 127.41,501.22 127.8,500.91 128.22,500.52 128.66,500.08 129.12,499.61 129.59,499.1 130.07,498.56 130.55,497.99 131.02,497.4 131.48,496.78 131.93,496.14 132.37,495.47 132.8,494.77 133.23,494.04 133.67,493.29 134.12,492.51 134.58,491.71 135.07,490.89 135.57,490.04 136.09,489.15 136.62,488.24 137.17,487.3 137.72,486.35 138.29,485.4 138.86,484.46 139.44,483.52 140.03,482.59 140.62,481.63 141.22,480.67 141.83,479.7 142.46,478.76 143.09,477.85 143.75,476.97 144.42,476.16 145.12,475.37 145.84,474.59 146.59,473.84 147.34,473.12 148.11,472.46 148.87,471.88 149.64,471.39 150.39,471 151.13,470.73 151.86,470.54 152.59,470.43 153.31,470.41 154.05,470.45 154.8,470.57 155.57,470.76 156.36,471 157.16,471.35 157.96,471.8 158.77,472.34 159.59,472.94 160.45,473.57 161.35,474.22 162.3,474.84 163.32,475.42 164.39,476 165.49,476.61 166.62,477.24 167.8,477.86 169.05,478.46 170.37,479 171.77,479.47 173.27,479.84 174.9,480.13 176.66,480.35 178.51,480.5 180.43,480.61 182.38,480.66 184.35,480.67 186.3,480.64 188.2,480.58 190.07,480.47 191.93,480.28 193.8,480.05 195.66,479.78 197.53,479.49 199.39,479.19 201.26,478.91 203.12,478.66 204.99,478.41 206.86,478.14 208.72,477.85 210.59,477.57 212.45,477.32 214.32,477.11 216.18,476.96 218.05,476.9 219.92,476.9 221.78,476.95 223.65,477.05 225.51,477.2 227.38,477.41 229.24,477.67 231.11,477.99 232.97,478.37 234.87,478.85 236.82,479.43 238.79,480.1 240.75,480.81 242.67,481.54 244.52,482.25 246.27,482.93 247.9,483.52 249.45,484.08 250.97,484.64 252.43,485.18 253.81,485.69 255.07,486.16 256.18,486.58 257.12,486.93 257.85,487.21" fill="none" stroke="#b03cc0" stroke-width="1.0"/>
<polyline points="118.25,594 118.42,589.27 118.64,582.79 118.9,575.06 119.19,566.57 119.49,557.82 119.8,549.33 120.08,541.58 120.34,535.08 120.57,529.58 120.8,524.49 121.03,519.81 121.24,515.54 121.45,511.7 121.65,508.27 121.85,505.26 122.03,502.67 122.2,500.64 122.36,499.2 122.5,498.25 122.64,497.68 122.78,497.39 122.92,497.27 123.07,497.2 123.23,497.08 123.39,497.02 123.56,497.17 123.73,497.49 123.9,497.92 124.09,498.41 124.28,498.91 124.49,499.37 124.72,499.73 124.96,500.04 125.21,500.36 125.47,500.69 125.74,501.01 126.03,501.29 126.33,501.53 126.66,501.7 127.01,501.79 127.38,501.81 127.76,501.79 128.16,501.71 128.58,501.58 129.02,501.39 129.49,501.14 129.98,500.84 130.49,500.46 131.04,500.02 131.63,499.51 132.25,498.94 132.88,498.31 133.53,497.63 134.19,496.89 134.83,496.12 135.47,495.31 136.09,494.45 136.71,493.53 137.33,492.55 137.95,491.53 138.57,490.48 139.2,489.41 139.82,488.31 140.44,487.21 141.06,486.08 141.67,484.92 142.28,483.72 142.9,482.51 143.51,481.29 144.14,480.06 144.77,478.84 145.41,477.63 146.09,476.38 146.78,475.03 147.5,473.65 148.21,472.29 148.92,471 149.61,469.83 150.27,468.83 150.89,468.06 151.45,467.51 151.95,467.15 152.42,466.94 152.88,466.86 153.33,466.89 153.8,466.99 154.31,467.14 154.87,467.32 155.46,467.55 156.07,467.86 156.7,468.25 157.35,468.7 158.04,469.21 158.76,469.77 159.53,470.37 160.34,471 161.2,471.71 162.11,472.52 163.06,473.4 164.04,474.32 165.06,475.23 166.11,476.11 167.19,476.93 168.3,477.63 169.45,478.26 170.65,478.85 171.89,479.4 173.15,479.9 174.43,480.34 175.72,480.73 176.99,481.06 178.25,481.32 179.46,481.49 180.62,481.59 181.76,481.62 182.91,481.6 184.1,481.53 185.36,481.43 186.72,481.3 188.2,481.17 189.83,481 191.58,480.77 193.43,480.51 195.35,480.22 197.31,479.92 199.28,479.63 201.23,479.35 203.12,479.11 204.99,478.87 206.86,478.61 208.72,478.36 210.59,478.11 212.45,477.9 214.32,477.74 216.18,477.64 218.05,477.63 219.92,477.69 221.78,477.8 223.65,477.95 225.51,478.17 227.38,478.44 229.24,478.79 231.11,479.2 232.97,479.7 234.87,480.31 236.82,481.05 238.79,481.89 240.75,482.79 242.67,483.7 244.52,484.6 246.27,485.43 247.9,486.18 249.45,486.86 250.97,487.53 252.43,488.18 253.81,488.79 255.07,489.35 256.18,489.85 257.12,490.27 257.85,490.6" fill="none" stroke="#111111" stroke-width="1.0"/>
<polyline points="118.25,594 118.42,589.28 118.64,582.83 118.9,575.12 119.19,566.66 119.49,557.93 119.8,549.43 120.08,541.65 120.34,535.08 120.57,529.46 120.78,524.21 120.98,519.35 121.18,514.88 121.38,510.82 121.58,507.18 121.8,503.97 122.03,501.2 122.29,498.99 122.55,497.37 122.83,496.24 123.12,495.5 123.41,495.05 123.69,494.79 123.96,494.61 124.22,494.43 124.46,494.35 124.7,494.53 124.92,494.91 125.14,495.42 125.36,496 125.57,496.59 125.79,497.11 126.01,497.52 126.22,497.85 126.39,498.2 126.56,498.55 126.73,498.87 126.92,499.15 127.15,499.38 127.44,499.53 127.8,499.58 128.24,499.54 128.75,499.43 129.31,499.25 129.91,499 130.54,498.7 131.19,498.35 131.84,497.95 132.48,497.52 133.12,497.06 133.79,496.56 134.46,496.03 135.15,495.45 135.84,494.8 136.54,494.08 137.25,493.27 137.95,492.36 138.65,491.34 139.34,490.19 140.02,488.95 140.72,487.64 141.43,486.28 142.16,484.91 142.92,483.54 143.72,482.2 144.58,480.79 145.5,479.26 146.46,477.67 147.44,476.09 148.41,474.59 149.36,473.24 150.26,472.12 151.09,471.3 151.85,470.8 152.58,470.57 153.27,470.56 153.93,470.7 154.57,470.95 155.18,471.24 155.78,471.52 156.36,471.74 156.89,471.91 157.35,472.08 157.77,472.27 158.18,472.49 158.61,472.75 159.1,473.08 159.66,473.47 160.34,473.95 161.13,474.55 162,475.29 162.95,476.11 163.95,476.98 164.99,477.86 166.08,478.7 167.18,479.48 168.3,480.14 169.45,480.7 170.65,481.22 171.89,481.7 173.15,482.13 174.43,482.51 175.72,482.84 176.99,483.13 178.25,483.38 179.46,483.57 180.62,483.72 181.76,483.82 182.91,483.87 184.1,483.89 185.36,483.85 186.72,483.78 188.2,483.67 189.83,483.5 191.58,483.24 193.43,482.93 195.35,482.59 197.31,482.23 199.28,481.88 201.23,481.57 203.12,481.32 204.99,481.09 206.86,480.85 208.72,480.63 210.59,480.42 212.45,480.26 214.32,480.15 216.18,480.1 218.05,480.14 219.92,480.25 221.78,480.42 223.65,480.65 225.51,480.94 227.38,481.28 229.24,481.68 231.11,482.13 232.97,482.64 234.87,483.24 236.82,483.94 238.79,484.72 240.75,485.55 242.67,486.39 244.52,487.21 246.27,487.99 247.9,488.68 249.45,489.33 250.97,489.97 252.43,490.6 253.81,491.19 255.07,491.74 256.18,492.23 257.12,492.63 257.85,492.95" fill="none" stroke="#ee1c1c" stroke-width="1.0"/>
<polyline points="118.25,594 118.41,589.29 118.63,582.86 118.89,575.18 119.17,566.75 119.47,558.04 119.78,549.53 120.07,541.72 120.34,535.08 120.6,529.36 120.86,523.99 121.12,518.98 121.38,514.35 121.63,510.09 121.88,506.23 122.11,502.77 122.33,499.73 122.53,497.18 122.72,495.16 122.89,493.59 123.05,492.39 123.21,491.48 123.38,490.78 123.54,490.22 123.72,489.71 123.9,489.37 124.08,489.3 124.25,489.47 124.42,489.79 124.61,490.23 124.82,490.72 125.05,491.21 125.32,491.63 125.61,492.06 125.94,492.59 126.28,493.19 126.65,493.8 127.03,494.39 127.44,494.91 127.86,495.33 128.3,495.6 128.76,495.75 129.24,495.81 129.75,495.8 130.27,495.7 130.8,495.54 131.35,495.29 131.91,494.97 132.48,494.57 133.06,494.09 133.66,493.53 134.27,492.88 134.89,492.16 135.52,491.37 136.16,490.53 136.8,489.63 137.45,488.68 138.11,487.66 138.76,486.55 139.43,485.36 140.1,484.12 140.78,482.86 141.48,481.59 142.19,480.33 142.93,479.11 143.7,477.85 144.51,476.51 145.35,475.13 146.19,473.77 147.04,472.47 147.86,471.3 148.65,470.31 149.39,469.53 150.08,468.98 150.72,468.61 151.33,468.38 151.91,468.29 152.5,468.31 153.09,468.41 153.71,468.58 154.37,468.79 155.06,469.1 155.75,469.52 156.45,470.05 157.17,470.65 157.91,471.29 158.68,471.95 159.49,472.6 160.34,473.21 161.23,473.83 162.14,474.49 163.09,475.17 164.07,475.85 165.08,476.51 166.12,477.14 167.2,477.72 168.3,478.22 169.45,478.66 170.65,479.07 171.89,479.44 173.15,479.76 174.43,480.04 175.72,480.27 176.99,480.45 178.25,480.58 179.43,480.65 180.5,480.65 181.54,480.61 182.6,480.51 183.74,480.38 185.01,480.22 186.48,480.04 188.2,479.84 190.21,479.6 192.48,479.3 194.93,478.96 197.53,478.6 200.2,478.24 202.89,477.89 205.54,477.59 208.1,477.34 210.62,477.13 213.19,476.92 215.78,476.73 218.36,476.57 220.9,476.46 223.37,476.39 225.75,476.38 228,476.45 230.1,476.61 232.08,476.83 233.96,477.13 235.77,477.47 237.55,477.85 239.31,478.26 241.09,478.68 242.93,479.11 244.89,479.58 247.01,480.13 249.18,480.73 251.32,481.33 253.35,481.92 255.17,482.45 256.7,482.9 257.85,483.23" fill="none" stroke="#5656c0" stroke-width="1.0"/>
<polyline points="118.25,594 118.41,589.35 118.62,583.07 118.88,575.57 119.16,567.3 119.46,558.69 119.76,550.16 120.06,542.14 120.34,535.08 120.61,528.65 120.87,522.31 121.14,516.14 121.41,510.22 121.68,504.66 121.96,499.52 122.24,494.9 122.53,490.89 122.83,487.51 123.14,484.7 123.46,482.4 123.79,480.53 124.11,479.04 124.42,477.86 124.73,476.92 125.02,476.16 125.29,475.72 125.54,475.73 125.78,476.1 126.01,476.71 126.25,477.49 126.49,478.33 126.74,479.15 127.01,479.84 127.3,480.5 127.6,481.26 127.92,482.08 128.24,482.93 128.56,483.75 128.88,484.52 129.19,485.19 129.5,485.73 129.77,486.16 130.03,486.52 130.27,486.8 130.51,487.02 130.76,487.17 131.03,487.25 131.34,487.27 131.68,487.21 132.08,487.07 132.51,486.85 132.97,486.55 133.45,486.19 133.95,485.77 134.45,485.3 134.96,484.79 135.47,484.26 135.96,483.69 136.47,483.06 136.98,482.39 137.49,481.67 138.02,480.92 138.55,480.14 139.09,479.34 139.64,478.52 140.21,477.66 140.78,476.74 141.36,475.78 141.95,474.81 142.55,473.82 143.16,472.85 143.79,471.91 144.42,471 145.07,470.09 145.75,469.13 146.44,468.16 147.14,467.21 147.85,466.34 148.54,465.57 149.23,464.95 149.89,464.52 150.53,464.28 151.15,464.2 151.75,464.25 152.35,464.41 152.95,464.67 153.57,465.01 154.2,465.41 154.87,465.85 155.56,466.37 156.26,467.01 156.97,467.74 157.7,468.53 158.45,469.35 159.22,470.18 160.01,470.99 160.84,471.74 161.68,472.48 162.54,473.24 163.42,474 164.32,474.76 165.25,475.49 166.22,476.17 167.24,476.8 168.3,477.34 169.42,477.81 170.61,478.22 171.85,478.59 173.12,478.9 174.41,479.17 175.7,479.39 176.99,479.56 178.25,479.7 179.46,479.77 180.62,479.8 181.76,479.77 182.91,479.7 184.1,479.59 185.36,479.45 186.72,479.28 188.2,479.11 189.83,478.89 191.58,478.63 193.43,478.33 195.35,478 197.31,477.67 199.28,477.34 201.23,477.03 203.12,476.75 205.02,476.49 206.97,476.22 208.94,475.95 210.9,475.7 212.82,475.47 214.67,475.26 216.42,475.1 218.05,474.98 219.5,474.9 220.77,474.86 221.93,474.84 223.03,474.85 224.12,474.9 225.28,474.99 226.55,475.11 228,475.28 229.63,475.48 231.38,475.74 233.23,476.03 235.15,476.36 237.11,476.72 239.08,477.11 241.03,477.51 242.93,477.93 244.89,478.4 247.01,478.95 249.18,479.55 251.32,480.16 253.35,480.74 255.17,481.28 256.7,481.72 257.85,482.05" fill="none" stroke="#1c1cf0" stroke-width="1.0"/>
<polyline points="118.25,594 118.41,589.38 118.62,583.17 118.88,575.77 119.16,567.58 119.46,559.01 119.76,550.47 120.06,542.35 120.34,535.08 120.61,528.27 120.9,521.37 121.19,514.54 121.47,507.92 121.76,501.66 122.03,495.9 122.29,490.78 122.53,486.47 122.75,483.06 122.95,480.46 123.13,478.52 123.3,477.07 123.47,475.97 123.64,475.07 123.83,474.2 124.02,473.21 124.23,472.18 124.45,471.26 124.68,470.48 124.91,469.84 125.14,469.36 125.37,469.04 125.59,468.9 125.81,468.94 126.02,469.21 126.22,469.7 126.42,470.38 126.61,471.23 126.81,472.19 127.02,473.23 127.25,474.32 127.5,475.42 127.78,476.68 128.07,478.18 128.37,479.81 128.69,481.49 129.02,483.1 129.37,484.53 129.72,485.69 130.09,486.47 130.47,486.87 130.86,486.99 131.25,486.87 131.67,486.55 132.09,486.09 132.53,485.53 132.99,484.9 133.47,484.26 133.97,483.55 134.49,482.71 135.02,481.77 135.56,480.74 136.13,479.66 136.72,478.54 137.32,477.42 137.95,476.31 138.62,475.15 139.32,473.89 140.05,472.58 140.79,471.26 141.55,469.97 142.29,468.76 143.02,467.67 143.72,466.73 144.4,465.95 145.08,465.26 145.74,464.66 146.39,464.16 147.03,463.73 147.67,463.38 148.29,463.11 148.9,462.9 149.49,462.79 150.05,462.78 150.61,462.86 151.15,463 151.69,463.2 152.24,463.44 152.8,463.69 153.38,463.93 153.96,464.17 154.53,464.42 155.1,464.68 155.69,464.97 156.29,465.31 156.93,465.71 157.62,466.18 158.35,466.73 159.15,467.41 160,468.22 160.91,469.12 161.84,470.07 162.79,471.03 163.74,471.95 164.69,472.79 165.61,473.51 166.52,474.11 167.43,474.65 168.34,475.13 169.25,475.56 170.15,475.96 171.06,476.33 171.97,476.69 172.88,477.04 173.78,477.39 174.67,477.72 175.57,478.03 176.46,478.31 177.36,478.58 178.27,478.83 179.19,479.05 180.14,479.25 181.06,479.45 181.94,479.63 182.8,479.8 183.69,479.95 184.64,480.07 185.68,480.14 186.86,480.17 188.2,480.14 189.74,480.03 191.45,479.86 193.29,479.63 195.23,479.36 197.23,479.07 199.23,478.78 201.21,478.49 203.12,478.22 204.99,477.96 206.86,477.66 208.72,477.36 210.59,477.05 212.45,476.77 214.32,476.51 216.18,476.31 218.05,476.16 219.92,476.07 221.78,476.03 223.65,476.03 225.51,476.07 227.38,476.13 229.24,476.22 231.11,476.33 232.97,476.45 234.87,476.61 236.82,476.81 238.79,477.05 240.75,477.3 242.67,477.56 244.52,477.81 246.27,478.03 247.9,478.22 249.45,478.38 250.97,478.53 252.43,478.66 253.81,478.77 255.07,478.88 256.18,478.97 257.12,479.04 257.85,479.11" fill="none" stroke="#1e9a1e" stroke-width="1.0"/>
</g>
<path d="M108.6 594v-3M108.6 446.7v3M118.55 594v-1.8M118.55 446.7v1.8M128.5 594v-3M128.5 446.7v3M138.45 594v-1.8M138.45 446.7v1.8M148.4 594v-3M148.4 446.7v3M158.35 594v-1.8M158.35 446.7v1.8M168.3 594v-3M168.3 446.7v3M178.25 594v-1.8M178.25 446.7v1.8M188.2 594v-3M188.2 446.7v3M198.15 594v-1.8M198.15 446.7v1.8M208.1 594v-3M208.1 446.7v3M218.05 594v-1.8M218.05 446.7v1.8M228 594v-3M228 446.7v3M237.95 594v-1.8M237.95 446.7v1.8M247.9 594v-3M247.9 446.7v3M257.85 594v-1.8M257.85 446.7v1.8M108.5 579.27h1.8M258.5 579.27h-1.8M108.5 564.54h3M258.5 564.54h-3M108.5 549.81h1.8M258.5 549.81h-1.8M108.5 535.08h3M258.5 535.08h-3M108.5 520.35h1.8M258.5 520.35h-1.8M108.5 505.62h3M258.5 505.62h-3M108.5 490.89h1.8M258.5 490.89h-1.8M108.5 476.16h3M258.5 476.16h-3M108.5 461.43h1.8M258.5 461.43h-1.8" stroke="#222" stroke-width="0.8"/>
<rect x="108.5" y="446.7" width="150" height="147.3" fill="none" stroke="#444" stroke-width="1.3"/>
<text x="104.7" y="596" font-family='"Liberation Sans",sans-serif' font-size="6.7" text-anchor="end" fill="#333" stroke="#333" stroke-width="0.21">0</text>
<text x="104.7" y="566.54" font-family='"Liberation Sans",sans-serif' font-size="6.7" text-anchor="end" fill="#333" stroke="#333" stroke-width="0.21">20</text>
<text x="104.7" y="537.08" font-family='"Liberation Sans",sans-serif' font-size="6.7" text-anchor="end" fill="#333" stroke="#333" stroke-width="0.21">40</text>
<text x="104.7" y="507.62" font-family='"Liberation Sans",sans-serif' font-size="6.7" text-anchor="end" fill="#333" stroke="#333" stroke-width="0.21">60</text>
<text x="104.7" y="478.16" font-family='"Liberation Sans",sans-serif' font-size="6.7" text-anchor="end" fill="#333" stroke="#333" stroke-width="0.21">80</text>
<text x="104.7" y="448.7" font-family='"Liberation Sans",sans-serif' font-size="6.7" text-anchor="end" fill="#333" stroke="#333" stroke-width="0.21">100</text>
<text x="108.6" y="603.2" font-family='"Liberation Sans",sans-serif' font-size="6.9" text-anchor="middle" fill="#333" stroke="#333" stroke-width="0.22">200</text>
<text x="128.5" y="603.2" font-family='"Liberation Sans",sans-serif' font-size="6.9" text-anchor="middle" fill="#333" stroke="#333" stroke-width="0.22">400</text>
<text x="148.4" y="603.2" font-family='"Liberation Sans",sans-serif' font-size="6.9" text-anchor="middle" fill="#333" stroke="#333" stroke-width="0.22">600</text>
<text x="168.3" y="603.2" font-family='"Liberation Sans",sans-serif' font-size="6.9" text-anchor="middle" fill="#333" stroke="#333" stroke-width="0.22">800</text>
<text x="188.2" y="603.2" font-family='"Liberation Sans",sans-serif' font-size="6.9" text-anchor="middle" fill="#333" stroke="#333" stroke-width="0.22">1000</text>
<text x="208.1" y="603.2" font-family='"Liberation Sans",sans-serif' font-size="6.9" text-anchor="middle" fill="#333" stroke="#333" stroke-width="0.22">1200</text>
<text x="228" y="603.2" font-family='"Liberation Sans",sans-serif' font-size="6.9" text-anchor="middle" fill="#333" stroke="#333" stroke-width="0.22">1400</text>
<text x="247.9" y="603.2" font-family='"Liberation Sans",sans-serif' font-size="6.9" text-anchor="middle" fill="#333" stroke="#333" stroke-width="0.22">1600</text>
<text x="119.4" y="444.3" font-family='"Liberation Sans",sans-serif' font-size="7" font-weight="bold" fill="#111" stroke="#111" stroke-width="0.22">(a)</text>
<text x="151.0" y="615.2" font-family='"Liberation Sans",sans-serif' font-size="7.3" font-weight="bold" fill="#111" stroke="#111" stroke-width="0.23">Wavelength(nm)</text>
<text transform="translate(91.2,521.4) rotate(-90)" font-family='"Liberation Sans",sans-serif' font-size="7.4" font-weight="bold" text-anchor="middle" fill="#111" stroke="#111" stroke-width="0.24">Transmission Intensity (%)</text>
<line x1="178.3" y1="532.4" x2="190" y2="532.4" stroke="#111111" stroke-width="1.6"/>
<text x="191.4" y="534.2" font-family='"Liberation Sans",sans-serif' font-size="4.9" font-weight="bold" fill="#222" stroke="#222" stroke-width="0.16">1.7&#215;10<tspan font-size="3.4" dy="-2">-4</tspan><tspan dy="2"> (In</tspan><tspan font-size="3.4" dy="1">2</tspan><tspan dy="-1">O</tspan><tspan font-size="3.4" dy="1">3</tspan><tspan dy="-1">:Mo)</tspan></text>
<line x1="178.3" y1="541.53" x2="190" y2="541.53" stroke="#ee1c1c" stroke-width="1.6"/>
<text x="191.4" y="543.33" font-family='"Liberation Sans",sans-serif' font-size="4.9" font-weight="bold" fill="#222" stroke="#222" stroke-width="0.16">2.2&#215;10<tspan font-size="3.4" dy="-2">-4</tspan><tspan dy="2"> (In</tspan><tspan font-size="3.4" dy="1">2</tspan><tspan dy="-1">O</tspan><tspan font-size="3.4" dy="1">3</tspan><tspan dy="-1">:Mo)</tspan></text>
<line x1="178.3" y1="550.66" x2="190" y2="550.66" stroke="#1c1cf0" stroke-width="1.6"/>
<text x="191.4" y="552.46" font-family='"Liberation Sans",sans-serif' font-size="4.9" font-weight="bold" fill="#222" stroke="#222" stroke-width="0.16">3.4&#215;10<tspan font-size="3.4" dy="-2">-4</tspan><tspan dy="2"> (In</tspan><tspan font-size="3.4" dy="1">2</tspan><tspan dy="-1">O</tspan><tspan font-size="3.4" dy="1">3</tspan><tspan dy="-1">:W)</tspan></text>
<line x1="178.3" y1="559.79" x2="190" y2="559.79" stroke="#1e9a1e" stroke-width="1.6"/>
<text x="191.4" y="561.59" font-family='"Liberation Sans",sans-serif' font-size="4.9" font-weight="bold" fill="#222" stroke="#222" stroke-width="0.16">2.6&#215;10<tspan font-size="3.4" dy="-2">-4</tspan><tspan dy="2"> (In</tspan><tspan font-size="3.4" dy="1">2</tspan><tspan dy="-1">O</tspan><tspan font-size="3.4" dy="1">3</tspan><tspan dy="-1">:Zr)</tspan></text>
<line x1="178.3" y1="568.92" x2="190" y2="568.92" stroke="#5656b8" stroke-width="1.6"/>
<text x="191.4" y="570.72" font-family='"Liberation Sans",sans-serif' font-size="4.9" font-weight="bold" fill="#222" stroke="#222" stroke-width="0.16">2.1&#215;10<tspan font-size="3.4" dy="-2">-4</tspan><tspan dy="2"> (In</tspan><tspan font-size="3.4" dy="1">2</tspan><tspan dy="-1">O</tspan><tspan font-size="3.4" dy="1">3</tspan><tspan dy="-1">:Zr)</tspan></text>
<line x1="178.3" y1="578.05" x2="190" y2="578.05" stroke="#9a2a2a" stroke-width="1.6" stroke-dasharray="1.6,1.6"/>
<text x="191.4" y="579.85" font-family='"Liberation Sans",sans-serif' font-size="4.9" font-weight="bold" fill="#222" stroke="#222" stroke-width="0.16">1.9&#215;10<tspan font-size="3.4" dy="-2">-4</tspan><tspan dy="2"> (In</tspan><tspan font-size="3.4" dy="1">2</tspan><tspan dy="-1">O</tspan><tspan font-size="3.4" dy="1">3</tspan><tspan dy="-1">:Sn)</tspan></text>
<line x1="178.3" y1="587.18" x2="190" y2="587.18" stroke="#9a9a1a" stroke-width="1.6" stroke-dasharray="1.6,1.6"/>
<text x="191.4" y="588.98" font-family='"Liberation Sans",sans-serif' font-size="4.9" font-weight="bold" fill="#222" stroke="#222" stroke-width="0.16">1.07&#215;10<tspan font-size="3.4" dy="-2">-4</tspan><tspan dy="2"> (In</tspan><tspan font-size="3.4" dy="1">2</tspan><tspan dy="-1">O</tspan><tspan font-size="3.4" dy="1">3</tspan><tspan dy="-1">:Sn)</tspan></text>
<path d="M333.3 493.5l3.1 5.2h-6.2z" fill="#0a0aff"/>
<path d="M338.3 499.4l3.1 5.2h-6.2z" fill="#0a0aff"/>
<rect x="335.7" y="490.4" width="4.4" height="4.4" fill="#000"/>
<polygon points="313.6,489.4 314.37,491.45 316.55,491.54 314.84,492.9 315.42,495.01 313.6,493.8 311.78,495.01 312.36,492.9 310.65,491.54 312.83,491.45" fill="#7a7a14"/>
<polygon points="313.6,493.7 314.37,495.75 316.55,495.84 314.84,497.2 315.42,499.31 313.6,498.1 311.78,499.31 312.36,497.2 310.65,495.84 312.83,495.75" fill="#7a7a14"/>
<polygon points="314.6,495.6 315.37,497.65 317.55,497.74 315.84,499.1 316.42,501.21 314.6,500 312.78,501.21 313.36,499.1 311.65,497.74 313.83,497.65" fill="#7a7a14"/>
<polygon points="316.1,498.9 316.87,500.95 319.05,501.04 317.34,502.4 317.92,504.51 316.1,503.3 314.28,504.51 314.86,502.4 313.15,501.04 315.33,500.95" fill="#7a7a14"/>
<polygon points="318.6,503.6 319.37,505.65 321.55,505.74 319.84,507.1 320.42,509.21 318.6,508 316.78,509.21 317.36,507.1 315.65,505.74 317.83,505.65" fill="#7a7a14"/>
<polygon points="332.5,512.6 333.27,514.65 335.45,514.74 333.74,516.1 334.32,518.21 332.5,517 330.68,518.21 331.26,516.1 329.55,514.74 331.73,514.65" fill="#7a7a14"/>
<path d="M307.4 462l3.1 5.2h-6.2z" fill="#0a0aff"/>
<path d="M328.5 488.9l3.1 5.2h-6.2z" fill="#0a0aff"/>
<path d="M355.4 511.9l3.1 5.2h-6.2z" fill="#0a0aff"/>
<rect x="327.4" y="476.9" width="4.4" height="4.4" fill="#000"/>
<rect x="382.2" y="531.7" width="4.4" height="4.4" fill="#000"/>
<rect x="390.2" y="517.9" width="4.4" height="4.4" fill="#000"/>
<rect x="394" y="522.5" width="4.4" height="4.4" fill="#000"/>
<circle cx="312.2" cy="475" r="2.9" fill="#ff0a0a"/>
<circle cx="325.3" cy="483.9" r="2.9" fill="#ff0a0a"/>
<circle cx="330.6" cy="492.9" r="2.9" fill="#ff0a0a"/>
<circle cx="339.4" cy="492.9" r="2.9" fill="#ff0a0a"/>
<circle cx="319.4" cy="497.3" r="2.9" fill="#ff0a0a"/>
<circle cx="336.5" cy="501.6" r="2.9" fill="#ff0a0a"/>
<circle cx="365.5" cy="515.7" r="2.9" fill="#ff0a0a"/>
<circle cx="412.9" cy="543" r="2.4" fill="none" stroke="#ee22ee" stroke-width="1.3"/>
<circle cx="443" cy="584" r="2.4" fill="none" stroke="#ee22ee" stroke-width="1.3"/>
<path d="M305.87 595.2v-1.6M305.87 447.6v1.6M318.34 595.2v-2.6M318.34 447.6v2.6M330.81 595.2v-1.6M330.81 447.6v1.6M343.28 595.2v-2.6M343.28 447.6v2.6M355.75 595.2v-1.6M355.75 447.6v1.6M368.22 595.2v-2.6M368.22 447.6v2.6M380.69 595.2v-1.6M380.69 447.6v1.6M393.16 595.2v-2.6M393.16 447.6v2.6M405.63 595.2v-1.6M405.63 447.6v1.6M418.1 595.2v-2.6M418.1 447.6v2.6M430.57 595.2v-1.6M430.57 447.6v1.6M443.04 595.2v-2.6M443.04 447.6v2.6M293.5 458.94h1.6M455.5 458.94h-1.6M293.5 470.28h2.6M455.5 470.28h-2.6M293.5 481.62h1.6M455.5 481.62h-1.6M293.5 492.96h2.6M455.5 492.96h-2.6M293.5 504.3h1.6M455.5 504.3h-1.6M293.5 515.64h2.6M455.5 515.64h-2.6M293.5 526.98h1.6M455.5 526.98h-1.6M293.5 538.32h2.6M455.5 538.32h-2.6M293.5 549.66h1.6M455.5 549.66h-1.6M293.5 561h2.6M455.5 561h-2.6M293.5 572.34h1.6M455.5 572.34h-1.6M293.5 583.68h2.6M455.5 583.68h-2.6M293.5 595.02h1.6M455.5 595.02h-1.6" stroke="#333" stroke-width="0.8"/>
<rect x="293.5" y="447.6" width="162" height="147.6" fill="none" stroke="#333" stroke-width="1.1"/>
<text x="290.7" y="450.1" font-family='"Liberation Sans",sans-serif' font-size="7" text-anchor="end" fill="#333" textLength="12.7" lengthAdjust="spacingAndGlyphs" stroke="#333" stroke-width="0.22">2.10</text>
<text x="290.7" y="472.78" font-family='"Liberation Sans",sans-serif' font-size="7" text-anchor="end" fill="#333" textLength="12.7" lengthAdjust="spacingAndGlyphs" stroke="#333" stroke-width="0.22">2.05</text>
<text x="290.7" y="495.46" font-family='"Liberation Sans",sans-serif' font-size="7" text-anchor="end" fill="#333" textLength="12.7" lengthAdjust="spacingAndGlyphs" stroke="#333" stroke-width="0.22">2.00</text>
<text x="290.7" y="518.14" font-family='"Liberation Sans",sans-serif' font-size="7" text-anchor="end" fill="#333" textLength="12.7" lengthAdjust="spacingAndGlyphs" stroke="#333" stroke-width="0.22">1.95</text>
<text x="290.7" y="540.82" font-family='"Liberation Sans",sans-serif' font-size="7" text-anchor="end" fill="#333" textLength="12.7" lengthAdjust="spacingAndGlyphs" stroke="#333" stroke-width="0.22">1.90</text>
<text x="290.7" y="563.5" font-family='"Liberation Sans",sans-serif' font-size="7" text-anchor="end" fill="#333" textLength="12.7" lengthAdjust="spacingAndGlyphs" stroke="#333" stroke-width="0.22">1.85</text>
<text x="290.7" y="586.18" font-family='"Liberation Sans",sans-serif' font-size="7" text-anchor="end" fill="#333" textLength="12.7" lengthAdjust="spacingAndGlyphs" stroke="#333" stroke-width="0.22">1.80</text>
<text x="293.4" y="604.6" font-family='"Liberation Sans",sans-serif' font-size="7" text-anchor="middle" fill="#333" stroke="#333" stroke-width="0.22">0</text>
<text x="318.34" y="604.6" font-family='"Liberation Sans",sans-serif' font-size="7" text-anchor="middle" fill="#333" stroke="#333" stroke-width="0.22">2</text>
<text x="343.28" y="604.6" font-family='"Liberation Sans",sans-serif' font-size="7" text-anchor="middle" fill="#333" stroke="#333" stroke-width="0.22">4</text>
<text x="368.22" y="604.6" font-family='"Liberation Sans",sans-serif' font-size="7" text-anchor="middle" fill="#333" stroke="#333" stroke-width="0.22">6</text>
<text x="393.16" y="604.6" font-family='"Liberation Sans",sans-serif' font-size="7" text-anchor="middle" fill="#333" stroke="#333" stroke-width="0.22">8</text>
<text x="418.1" y="604.6" font-family='"Liberation Sans",sans-serif' font-size="7" text-anchor="middle" fill="#333" stroke="#333" stroke-width="0.22">10</text>
<text x="443.04" y="604.6" font-family='"Liberation Sans",sans-serif' font-size="7" text-anchor="middle" fill="#333" stroke="#333" stroke-width="0.22">12</text>
<text x="301.4" y="443.2" font-family='"Liberation Sans",sans-serif' font-size="6.8" font-weight="bold" fill="#111" stroke="#111" stroke-width="0.22">(b)</text>
<text x="320.6" y="568.6" font-family='"Liberation Sans",sans-serif' font-size="6.5" font-weight="bold" fill="#111" stroke="#111" stroke-width="0.21">&#955;=600 nm</text>
<text transform="translate(274.0,519.0) rotate(-90)" font-family='"Liberation Sans",sans-serif' font-size="6.6" font-weight="bold" text-anchor="middle" fill="#111" stroke="#111" stroke-width="0.21">Refractive Index, <tspan font-style="italic">n</tspan></text>
<text x="355.3" y="618.2" font-family='"Liberation Sans",sans-serif' font-size="6.6" font-weight="bold" fill="#111" stroke="#111" stroke-width="0.21">N<tspan font-size="4.2" dy="1.5">e</tspan><tspan dy="-1.5"> (&#215;10</tspan><tspan font-size="4.2" dy="-2.6">20</tspan><tspan dy="2.6">cm</tspan><tspan font-size="4.2" dy="-2.6">-3</tspan><tspan dy="2.6">)</tspan></text>
<path d="M414.8 455.7l3.4 5.8h-6.8z" fill="#0a0aff"/>
<rect x="412.6" y="467.5" width="4.4" height="4.4" fill="#000"/>
<circle cx="414.8" cy="480" r="2.9" fill="#ff0a0a"/>
<polygon points="414.8,487 415.66,489.31 418.13,489.42 416.2,490.95 416.86,493.33 414.8,491.97 412.74,493.33 413.4,490.95 411.47,489.42 413.94,489.31" fill="#7a7a14"/>
<circle cx="414.8" cy="500.6" r="2.4" fill="none" stroke="#ee22ee" stroke-width="1.3"/>
<text x="422.8" y="461.5" font-family='"Liberation Sans",sans-serif' font-size="6.1" font-weight="bold" fill="#222" stroke="#222" stroke-width="0.20">In<tspan font-size="4" dy="1.6">2</tspan><tspan dy="-1.6">O</tspan><tspan font-size="4" dy="1.6">3</tspan><tspan dy="-1.6">:W</tspan></text>
<text x="422.8" y="472" font-family='"Liberation Sans",sans-serif' font-size="6.1" font-weight="bold" fill="#222" stroke="#222" stroke-width="0.20">In<tspan font-size="4" dy="1.6">2</tspan><tspan dy="-1.6">O</tspan><tspan font-size="4" dy="1.6">3</tspan><tspan dy="-1.6">:Mo</tspan></text>
<text x="422.8" y="482.3" font-family='"Liberation Sans",sans-serif' font-size="6.1" font-weight="bold" fill="#222" stroke="#222" stroke-width="0.20">In<tspan font-size="4" dy="1.6">2</tspan><tspan dy="-1.6">O</tspan><tspan font-size="4" dy="1.6">3</tspan><tspan dy="-1.6">:Zr</tspan></text>
<text x="422.8" y="492.8" font-family='"Liberation Sans",sans-serif' font-size="6.1" font-weight="bold" fill="#222" stroke="#222" stroke-width="0.20">In<tspan font-size="4" dy="1.6">2</tspan><tspan dy="-1.6">O</tspan><tspan font-size="4" dy="1.6">3</tspan><tspan dy="-1.6">:Ti</tspan></text>
<text x="422.8" y="502.9" font-family='"Liberation Sans",sans-serif' font-size="6.1" font-weight="bold" fill="#222" stroke="#222" stroke-width="0.20">In<tspan font-size="4" dy="1.6">2</tspan><tspan dy="-1.6">O</tspan><tspan font-size="4" dy="1.6">3</tspan><tspan dy="-1.6">:Sn</tspan></text>
</svg></body></html>
